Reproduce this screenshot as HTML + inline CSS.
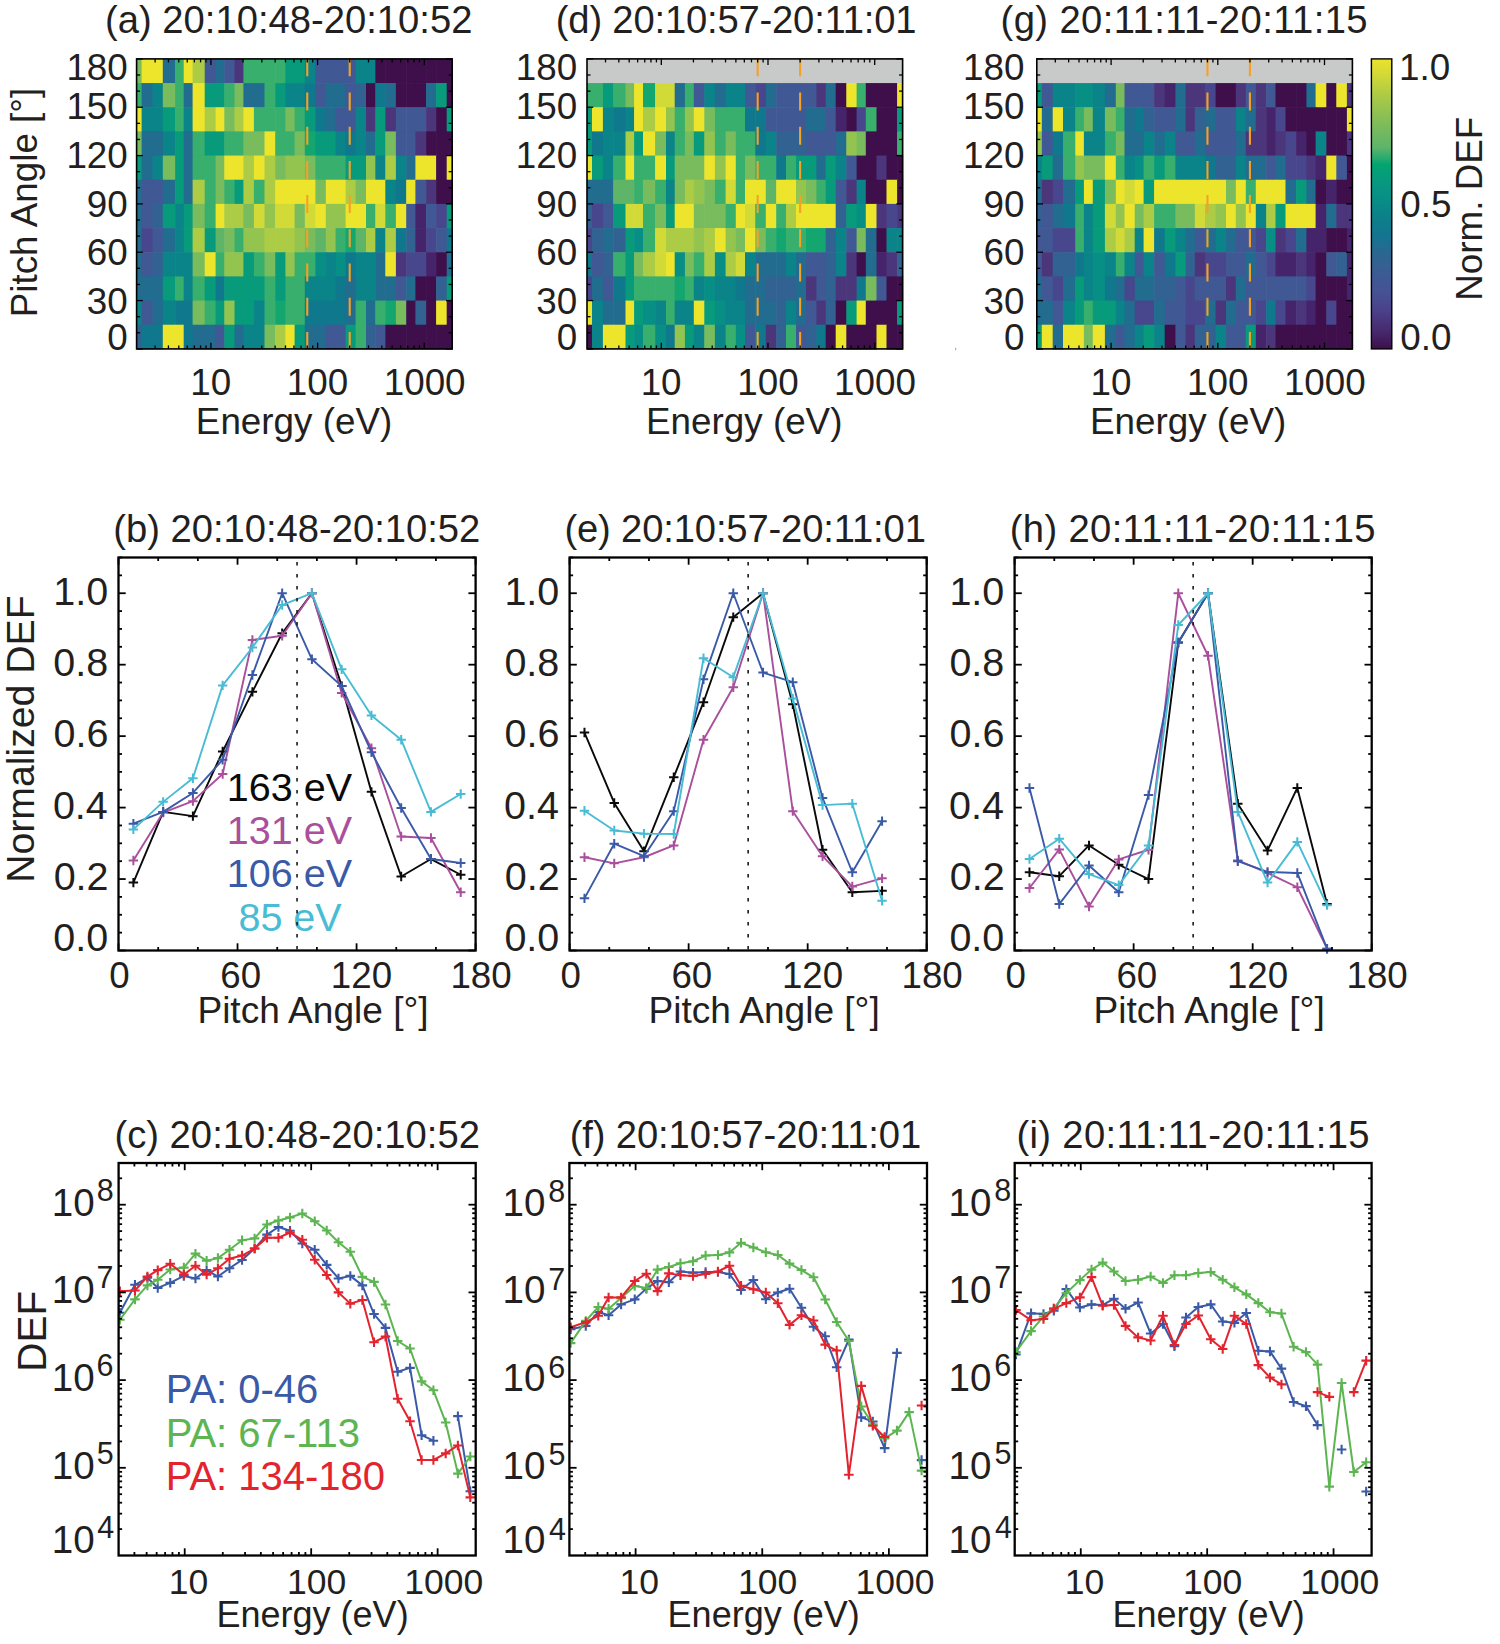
<!DOCTYPE html>
<html><head><meta charset="utf-8"><title>figure</title>
<style>html,body{margin:0;padding:0;background:#fff;}svg{display:block;}text{font-family:"Liberation Sans", sans-serif;}</style>
</head><body>
<svg width="1500" height="1644" viewBox="0 0 1500 1644">
<rect width="1500" height="1644" fill="#fff"/>
<rect x="136.60" y="58.90" width="5.60" height="24.77" fill="#79bc5d"/>
<rect x="141.60" y="58.90" width="11.50" height="24.77" fill="#ede42c"/>
<rect x="152.50" y="58.90" width="10.90" height="24.77" fill="#ede42c"/>
<rect x="162.80" y="58.90" width="12.90" height="24.77" fill="#216c8f"/>
<rect x="175.10" y="58.90" width="9.20" height="24.77" fill="#38af6d"/>
<rect x="183.70" y="58.90" width="9.50" height="24.77" fill="#ede42c"/>
<rect x="192.60" y="58.90" width="12.70" height="24.77" fill="#accc46"/>
<rect x="204.70" y="58.90" width="11.50" height="24.77" fill="#405995"/>
<rect x="215.60" y="58.90" width="9.30" height="24.77" fill="#216c8f"/>
<rect x="224.30" y="58.90" width="10.80" height="24.77" fill="#405995"/>
<rect x="234.50" y="58.90" width="9.50" height="24.77" fill="#4b367c"/>
<rect x="243.40" y="58.90" width="11.10" height="24.77" fill="#38af6d"/>
<rect x="253.90" y="58.90" width="11.20" height="24.77" fill="#38af6d"/>
<rect x="264.50" y="58.90" width="11.30" height="24.77" fill="#38af6d"/>
<rect x="275.20" y="58.90" width="10.80" height="24.77" fill="#38af6d"/>
<rect x="285.40" y="58.90" width="9.80" height="24.77" fill="#079b7b"/>
<rect x="294.60" y="58.90" width="10.80" height="24.77" fill="#079b7b"/>
<rect x="304.80" y="58.90" width="11.20" height="24.77" fill="#0a8389"/>
<rect x="315.40" y="58.90" width="11.00" height="24.77" fill="#405995"/>
<rect x="325.80" y="58.90" width="10.40" height="24.77" fill="#405995"/>
<rect x="335.60" y="58.90" width="10.60" height="24.77" fill="#405995"/>
<rect x="345.60" y="58.90" width="10.60" height="24.77" fill="#405995"/>
<rect x="355.60" y="58.90" width="11.00" height="24.77" fill="#0a8389"/>
<rect x="366.00" y="58.90" width="9.90" height="24.77" fill="#0a8389"/>
<rect x="375.30" y="58.90" width="10.60" height="24.77" fill="#3e0f4b"/>
<rect x="385.30" y="58.90" width="11.20" height="24.77" fill="#3e0f4b"/>
<rect x="395.90" y="58.90" width="10.90" height="24.77" fill="#3e0f4b"/>
<rect x="406.20" y="58.90" width="9.80" height="24.77" fill="#3e0f4b"/>
<rect x="415.40" y="58.90" width="11.30" height="24.77" fill="#3e0f4b"/>
<rect x="426.10" y="58.90" width="10.60" height="24.77" fill="#3e0f4b"/>
<rect x="436.10" y="58.90" width="11.20" height="24.77" fill="#3e0f4b"/>
<rect x="446.70" y="58.90" width="6.10" height="24.77" fill="#3e0f4b"/>
<rect x="136.60" y="83.07" width="5.60" height="24.77" fill="#38af6d"/>
<rect x="141.60" y="83.07" width="11.50" height="24.77" fill="#216c8f"/>
<rect x="152.50" y="83.07" width="10.90" height="24.77" fill="#0a8389"/>
<rect x="162.80" y="83.07" width="12.90" height="24.77" fill="#79bc5d"/>
<rect x="175.10" y="83.07" width="9.20" height="24.77" fill="#38af6d"/>
<rect x="183.70" y="83.07" width="9.50" height="24.77" fill="#216c8f"/>
<rect x="192.60" y="83.07" width="12.70" height="24.77" fill="#ede42c"/>
<rect x="204.70" y="83.07" width="11.50" height="24.77" fill="#079b7b"/>
<rect x="215.60" y="83.07" width="9.30" height="24.77" fill="#079b7b"/>
<rect x="224.30" y="83.07" width="10.80" height="24.77" fill="#38af6d"/>
<rect x="234.50" y="83.07" width="9.50" height="24.77" fill="#79bc5d"/>
<rect x="243.40" y="83.07" width="11.10" height="24.77" fill="#216c8f"/>
<rect x="253.90" y="83.07" width="11.20" height="24.77" fill="#216c8f"/>
<rect x="264.50" y="83.07" width="11.30" height="24.77" fill="#38af6d"/>
<rect x="275.20" y="83.07" width="10.80" height="24.77" fill="#079b7b"/>
<rect x="285.40" y="83.07" width="9.80" height="24.77" fill="#0a8389"/>
<rect x="294.60" y="83.07" width="10.80" height="24.77" fill="#0a8389"/>
<rect x="304.80" y="83.07" width="11.20" height="24.77" fill="#10788c"/>
<rect x="315.40" y="83.07" width="11.00" height="24.77" fill="#405995"/>
<rect x="325.80" y="83.07" width="10.40" height="24.77" fill="#216c8f"/>
<rect x="335.60" y="83.07" width="10.60" height="24.77" fill="#216c8f"/>
<rect x="345.60" y="83.07" width="10.60" height="24.77" fill="#405995"/>
<rect x="355.60" y="83.07" width="11.00" height="24.77" fill="#326292"/>
<rect x="366.00" y="83.07" width="9.90" height="24.77" fill="#3e0f4b"/>
<rect x="375.30" y="83.07" width="10.60" height="24.77" fill="#10788c"/>
<rect x="385.30" y="83.07" width="11.20" height="24.77" fill="#216c8f"/>
<rect x="395.90" y="83.07" width="10.90" height="24.77" fill="#3e0f4b"/>
<rect x="406.20" y="83.07" width="9.80" height="24.77" fill="#3e0f4b"/>
<rect x="415.40" y="83.07" width="11.30" height="24.77" fill="#3e0f4b"/>
<rect x="426.10" y="83.07" width="10.60" height="24.77" fill="#216c8f"/>
<rect x="436.10" y="83.07" width="11.20" height="24.77" fill="#079b7b"/>
<rect x="446.70" y="83.07" width="6.10" height="24.77" fill="#3e0f4b"/>
<rect x="136.60" y="107.23" width="5.60" height="24.77" fill="#ede42c"/>
<rect x="141.60" y="107.23" width="11.50" height="24.77" fill="#0a8389"/>
<rect x="152.50" y="107.23" width="10.90" height="24.77" fill="#0a8389"/>
<rect x="162.80" y="107.23" width="12.90" height="24.77" fill="#079b7b"/>
<rect x="175.10" y="107.23" width="9.20" height="24.77" fill="#38af6d"/>
<rect x="183.70" y="107.23" width="9.50" height="24.77" fill="#0a8389"/>
<rect x="192.60" y="107.23" width="12.70" height="24.77" fill="#ede42c"/>
<rect x="204.70" y="107.23" width="11.50" height="24.77" fill="#accc46"/>
<rect x="215.60" y="107.23" width="9.30" height="24.77" fill="#ede42c"/>
<rect x="224.30" y="107.23" width="10.80" height="24.77" fill="#79bc5d"/>
<rect x="234.50" y="107.23" width="9.50" height="24.77" fill="#accc46"/>
<rect x="243.40" y="107.23" width="11.10" height="24.77" fill="#ede42c"/>
<rect x="253.90" y="107.23" width="11.20" height="24.77" fill="#38af6d"/>
<rect x="264.50" y="107.23" width="11.30" height="24.77" fill="#38af6d"/>
<rect x="275.20" y="107.23" width="10.80" height="24.77" fill="#38af6d"/>
<rect x="285.40" y="107.23" width="9.80" height="24.77" fill="#79bc5d"/>
<rect x="294.60" y="107.23" width="10.80" height="24.77" fill="#38af6d"/>
<rect x="304.80" y="107.23" width="11.20" height="24.77" fill="#079b7b"/>
<rect x="315.40" y="107.23" width="11.00" height="24.77" fill="#10788c"/>
<rect x="325.80" y="107.23" width="10.40" height="24.77" fill="#216c8f"/>
<rect x="335.60" y="107.23" width="10.60" height="24.77" fill="#405995"/>
<rect x="345.60" y="107.23" width="10.60" height="24.77" fill="#405995"/>
<rect x="355.60" y="107.23" width="11.00" height="24.77" fill="#0a8389"/>
<rect x="366.00" y="107.23" width="9.90" height="24.77" fill="#4b367c"/>
<rect x="375.30" y="107.23" width="10.60" height="24.77" fill="#079b7b"/>
<rect x="385.30" y="107.23" width="11.20" height="24.77" fill="#4b367c"/>
<rect x="395.90" y="107.23" width="10.90" height="24.77" fill="#405995"/>
<rect x="406.20" y="107.23" width="9.80" height="24.77" fill="#405995"/>
<rect x="415.40" y="107.23" width="11.30" height="24.77" fill="#405995"/>
<rect x="426.10" y="107.23" width="10.60" height="24.77" fill="#4b367c"/>
<rect x="436.10" y="107.23" width="11.20" height="24.77" fill="#3e0f4b"/>
<rect x="446.70" y="107.23" width="6.10" height="24.77" fill="#079b7b"/>
<rect x="136.60" y="131.40" width="5.60" height="24.77" fill="#79bc5d"/>
<rect x="141.60" y="131.40" width="11.50" height="24.77" fill="#216c8f"/>
<rect x="152.50" y="131.40" width="10.90" height="24.77" fill="#216c8f"/>
<rect x="162.80" y="131.40" width="12.90" height="24.77" fill="#0a8389"/>
<rect x="175.10" y="131.40" width="9.20" height="24.77" fill="#079b7b"/>
<rect x="183.70" y="131.40" width="9.50" height="24.77" fill="#216c8f"/>
<rect x="192.60" y="131.40" width="12.70" height="24.77" fill="#38af6d"/>
<rect x="204.70" y="131.40" width="11.50" height="24.77" fill="#079b7b"/>
<rect x="215.60" y="131.40" width="9.30" height="24.77" fill="#079b7b"/>
<rect x="224.30" y="131.40" width="10.80" height="24.77" fill="#38af6d"/>
<rect x="234.50" y="131.40" width="9.50" height="24.77" fill="#38af6d"/>
<rect x="243.40" y="131.40" width="11.10" height="24.77" fill="#79bc5d"/>
<rect x="253.90" y="131.40" width="11.20" height="24.77" fill="#79bc5d"/>
<rect x="264.50" y="131.40" width="11.30" height="24.77" fill="#ede42c"/>
<rect x="275.20" y="131.40" width="10.80" height="24.77" fill="#38af6d"/>
<rect x="285.40" y="131.40" width="9.80" height="24.77" fill="#38af6d"/>
<rect x="294.60" y="131.40" width="10.80" height="24.77" fill="#79bc5d"/>
<rect x="304.80" y="131.40" width="11.20" height="24.77" fill="#14a66f"/>
<rect x="315.40" y="131.40" width="11.00" height="24.77" fill="#079b7b"/>
<rect x="325.80" y="131.40" width="10.40" height="24.77" fill="#079b7b"/>
<rect x="335.60" y="131.40" width="10.60" height="24.77" fill="#0a8389"/>
<rect x="345.60" y="131.40" width="10.60" height="24.77" fill="#10788c"/>
<rect x="355.60" y="131.40" width="11.00" height="24.77" fill="#0a8389"/>
<rect x="366.00" y="131.40" width="9.90" height="24.77" fill="#216c8f"/>
<rect x="375.30" y="131.40" width="10.60" height="24.77" fill="#079b7b"/>
<rect x="385.30" y="131.40" width="11.20" height="24.77" fill="#79bc5d"/>
<rect x="395.90" y="131.40" width="10.90" height="24.77" fill="#405995"/>
<rect x="406.20" y="131.40" width="9.80" height="24.77" fill="#405995"/>
<rect x="415.40" y="131.40" width="11.30" height="24.77" fill="#4b367c"/>
<rect x="426.10" y="131.40" width="10.60" height="24.77" fill="#3e0f4b"/>
<rect x="436.10" y="131.40" width="11.20" height="24.77" fill="#3e0f4b"/>
<rect x="446.70" y="131.40" width="6.10" height="24.77" fill="#3e0f4b"/>
<rect x="136.60" y="155.57" width="5.60" height="24.77" fill="#079b7b"/>
<rect x="141.60" y="155.57" width="11.50" height="24.77" fill="#216c8f"/>
<rect x="152.50" y="155.57" width="10.90" height="24.77" fill="#0a8389"/>
<rect x="162.80" y="155.57" width="12.90" height="24.77" fill="#79bc5d"/>
<rect x="175.10" y="155.57" width="9.20" height="24.77" fill="#079b7b"/>
<rect x="183.70" y="155.57" width="9.50" height="24.77" fill="#216c8f"/>
<rect x="192.60" y="155.57" width="12.70" height="24.77" fill="#38af6d"/>
<rect x="204.70" y="155.57" width="11.50" height="24.77" fill="#38af6d"/>
<rect x="215.60" y="155.57" width="9.30" height="24.77" fill="#79bc5d"/>
<rect x="224.30" y="155.57" width="10.80" height="24.77" fill="#ede42c"/>
<rect x="234.50" y="155.57" width="9.50" height="24.77" fill="#ede42c"/>
<rect x="243.40" y="155.57" width="11.10" height="24.77" fill="#accc46"/>
<rect x="253.90" y="155.57" width="11.20" height="24.77" fill="#ede42c"/>
<rect x="264.50" y="155.57" width="11.30" height="24.77" fill="#accc46"/>
<rect x="275.20" y="155.57" width="10.80" height="24.77" fill="#79bc5d"/>
<rect x="285.40" y="155.57" width="9.80" height="24.77" fill="#94c450"/>
<rect x="294.60" y="155.57" width="10.80" height="24.77" fill="#94c450"/>
<rect x="304.80" y="155.57" width="11.20" height="24.77" fill="#79bc5d"/>
<rect x="315.40" y="155.57" width="11.00" height="24.77" fill="#38af6d"/>
<rect x="325.80" y="155.57" width="10.40" height="24.77" fill="#38af6d"/>
<rect x="335.60" y="155.57" width="10.60" height="24.77" fill="#38af6d"/>
<rect x="345.60" y="155.57" width="10.60" height="24.77" fill="#079b7b"/>
<rect x="355.60" y="155.57" width="11.00" height="24.77" fill="#079b7b"/>
<rect x="366.00" y="155.57" width="9.90" height="24.77" fill="#94c450"/>
<rect x="375.30" y="155.57" width="10.60" height="24.77" fill="#0a8389"/>
<rect x="385.30" y="155.57" width="11.20" height="24.77" fill="#accc46"/>
<rect x="395.90" y="155.57" width="10.90" height="24.77" fill="#0a8389"/>
<rect x="406.20" y="155.57" width="9.80" height="24.77" fill="#216c8f"/>
<rect x="415.40" y="155.57" width="11.30" height="24.77" fill="#ede42c"/>
<rect x="426.10" y="155.57" width="10.60" height="24.77" fill="#ede42c"/>
<rect x="436.10" y="155.57" width="11.20" height="24.77" fill="#3e0f4b"/>
<rect x="446.70" y="155.57" width="6.10" height="24.77" fill="#ede42c"/>
<rect x="136.60" y="179.73" width="5.60" height="24.77" fill="#216c8f"/>
<rect x="141.60" y="179.73" width="11.50" height="24.77" fill="#405995"/>
<rect x="152.50" y="179.73" width="10.90" height="24.77" fill="#405995"/>
<rect x="162.80" y="179.73" width="12.90" height="24.77" fill="#216c8f"/>
<rect x="175.10" y="179.73" width="9.20" height="24.77" fill="#079b7b"/>
<rect x="183.70" y="179.73" width="9.50" height="24.77" fill="#216c8f"/>
<rect x="192.60" y="179.73" width="12.70" height="24.77" fill="#accc46"/>
<rect x="204.70" y="179.73" width="11.50" height="24.77" fill="#38af6d"/>
<rect x="215.60" y="179.73" width="9.30" height="24.77" fill="#79bc5d"/>
<rect x="224.30" y="179.73" width="10.80" height="24.77" fill="#38af6d"/>
<rect x="234.50" y="179.73" width="9.50" height="24.77" fill="#079b7b"/>
<rect x="243.40" y="179.73" width="11.10" height="24.77" fill="#accc46"/>
<rect x="253.90" y="179.73" width="11.20" height="24.77" fill="#38af6d"/>
<rect x="264.50" y="179.73" width="11.30" height="24.77" fill="#accc46"/>
<rect x="275.20" y="179.73" width="10.80" height="24.77" fill="#ede42c"/>
<rect x="285.40" y="179.73" width="9.80" height="24.77" fill="#ede42c"/>
<rect x="294.60" y="179.73" width="10.80" height="24.77" fill="#ede42c"/>
<rect x="304.80" y="179.73" width="11.20" height="24.77" fill="#ede42c"/>
<rect x="315.40" y="179.73" width="11.00" height="24.77" fill="#79bc5d"/>
<rect x="325.80" y="179.73" width="10.40" height="24.77" fill="#ede42c"/>
<rect x="335.60" y="179.73" width="10.60" height="24.77" fill="#ede42c"/>
<rect x="345.60" y="179.73" width="10.60" height="24.77" fill="#accc46"/>
<rect x="355.60" y="179.73" width="11.00" height="24.77" fill="#79bc5d"/>
<rect x="366.00" y="179.73" width="9.90" height="24.77" fill="#ede42c"/>
<rect x="375.30" y="179.73" width="10.60" height="24.77" fill="#ede42c"/>
<rect x="385.30" y="179.73" width="11.20" height="24.77" fill="#0a8389"/>
<rect x="395.90" y="179.73" width="10.90" height="24.77" fill="#10788c"/>
<rect x="406.20" y="179.73" width="9.80" height="24.77" fill="#ede42c"/>
<rect x="415.40" y="179.73" width="11.30" height="24.77" fill="#405995"/>
<rect x="426.10" y="179.73" width="10.60" height="24.77" fill="#4b367c"/>
<rect x="436.10" y="179.73" width="11.20" height="24.77" fill="#3e0f4b"/>
<rect x="446.70" y="179.73" width="6.10" height="24.77" fill="#3e0f4b"/>
<rect x="136.60" y="203.90" width="5.60" height="24.77" fill="#216c8f"/>
<rect x="141.60" y="203.90" width="11.50" height="24.77" fill="#405995"/>
<rect x="152.50" y="203.90" width="10.90" height="24.77" fill="#326292"/>
<rect x="162.80" y="203.90" width="12.90" height="24.77" fill="#079b7b"/>
<rect x="175.10" y="203.90" width="9.20" height="24.77" fill="#0a8389"/>
<rect x="183.70" y="203.90" width="9.50" height="24.77" fill="#079b7b"/>
<rect x="192.60" y="203.90" width="12.70" height="24.77" fill="#79bc5d"/>
<rect x="204.70" y="203.90" width="11.50" height="24.77" fill="#38af6d"/>
<rect x="215.60" y="203.90" width="9.30" height="24.77" fill="#ede42c"/>
<rect x="224.30" y="203.90" width="10.80" height="24.77" fill="#accc46"/>
<rect x="234.50" y="203.90" width="9.50" height="24.77" fill="#accc46"/>
<rect x="243.40" y="203.90" width="11.10" height="24.77" fill="#79bc5d"/>
<rect x="253.90" y="203.90" width="11.20" height="24.77" fill="#d2da38"/>
<rect x="264.50" y="203.90" width="11.30" height="24.77" fill="#94c450"/>
<rect x="275.20" y="203.90" width="10.80" height="24.77" fill="#d2da38"/>
<rect x="285.40" y="203.90" width="9.80" height="24.77" fill="#d2da38"/>
<rect x="294.60" y="203.90" width="10.80" height="24.77" fill="#79bc5d"/>
<rect x="304.80" y="203.90" width="11.20" height="24.77" fill="#d2da38"/>
<rect x="315.40" y="203.90" width="11.00" height="24.77" fill="#ede42c"/>
<rect x="325.80" y="203.90" width="10.40" height="24.77" fill="#94c450"/>
<rect x="335.60" y="203.90" width="10.60" height="24.77" fill="#94c450"/>
<rect x="345.60" y="203.90" width="10.60" height="24.77" fill="#ede42c"/>
<rect x="355.60" y="203.90" width="11.00" height="24.77" fill="#ede42c"/>
<rect x="366.00" y="203.90" width="9.90" height="24.77" fill="#38af6d"/>
<rect x="375.30" y="203.90" width="10.60" height="24.77" fill="#d2da38"/>
<rect x="385.30" y="203.90" width="11.20" height="24.77" fill="#38af6d"/>
<rect x="395.90" y="203.90" width="10.90" height="24.77" fill="#ede42c"/>
<rect x="406.20" y="203.90" width="9.80" height="24.77" fill="#405995"/>
<rect x="415.40" y="203.90" width="11.30" height="24.77" fill="#46246c"/>
<rect x="426.10" y="203.90" width="10.60" height="24.77" fill="#405995"/>
<rect x="436.10" y="203.90" width="11.20" height="24.77" fill="#48468c"/>
<rect x="446.70" y="203.90" width="6.10" height="24.77" fill="#079b7b"/>
<rect x="136.60" y="228.07" width="5.60" height="24.77" fill="#216c8f"/>
<rect x="141.60" y="228.07" width="11.50" height="24.77" fill="#48468c"/>
<rect x="152.50" y="228.07" width="10.90" height="24.77" fill="#405995"/>
<rect x="162.80" y="228.07" width="12.90" height="24.77" fill="#216c8f"/>
<rect x="175.10" y="228.07" width="9.20" height="24.77" fill="#0a8389"/>
<rect x="183.70" y="228.07" width="9.50" height="24.77" fill="#079b7b"/>
<rect x="192.60" y="228.07" width="12.70" height="24.77" fill="#accc46"/>
<rect x="204.70" y="228.07" width="11.50" height="24.77" fill="#079b7b"/>
<rect x="215.60" y="228.07" width="9.30" height="24.77" fill="#5fb567"/>
<rect x="224.30" y="228.07" width="10.80" height="24.77" fill="#79bc5d"/>
<rect x="234.50" y="228.07" width="9.50" height="24.77" fill="#38af6d"/>
<rect x="243.40" y="228.07" width="11.10" height="24.77" fill="#94c450"/>
<rect x="253.90" y="228.07" width="11.20" height="24.77" fill="#94c450"/>
<rect x="264.50" y="228.07" width="11.30" height="24.77" fill="#accc46"/>
<rect x="275.20" y="228.07" width="10.80" height="24.77" fill="#accc46"/>
<rect x="285.40" y="228.07" width="9.80" height="24.77" fill="#accc46"/>
<rect x="294.60" y="228.07" width="10.80" height="24.77" fill="#94c450"/>
<rect x="304.80" y="228.07" width="11.20" height="24.77" fill="#79bc5d"/>
<rect x="315.40" y="228.07" width="11.00" height="24.77" fill="#5fb567"/>
<rect x="325.80" y="228.07" width="10.40" height="24.77" fill="#94c450"/>
<rect x="335.60" y="228.07" width="10.60" height="24.77" fill="#38af6d"/>
<rect x="345.60" y="228.07" width="10.60" height="24.77" fill="#14a66f"/>
<rect x="355.60" y="228.07" width="11.00" height="24.77" fill="#5fb567"/>
<rect x="366.00" y="228.07" width="9.90" height="24.77" fill="#accc46"/>
<rect x="375.30" y="228.07" width="10.60" height="24.77" fill="#0a8389"/>
<rect x="385.30" y="228.07" width="11.20" height="24.77" fill="#accc46"/>
<rect x="395.90" y="228.07" width="10.90" height="24.77" fill="#10788c"/>
<rect x="406.20" y="228.07" width="9.80" height="24.77" fill="#326292"/>
<rect x="415.40" y="228.07" width="11.30" height="24.77" fill="#46246c"/>
<rect x="426.10" y="228.07" width="10.60" height="24.77" fill="#48468c"/>
<rect x="436.10" y="228.07" width="11.20" height="24.77" fill="#405995"/>
<rect x="446.70" y="228.07" width="6.10" height="24.77" fill="#10788c"/>
<rect x="136.60" y="252.23" width="5.60" height="24.77" fill="#216c8f"/>
<rect x="141.60" y="252.23" width="11.50" height="24.77" fill="#405995"/>
<rect x="152.50" y="252.23" width="10.90" height="24.77" fill="#326292"/>
<rect x="162.80" y="252.23" width="12.90" height="24.77" fill="#0a8389"/>
<rect x="175.10" y="252.23" width="9.20" height="24.77" fill="#0a8389"/>
<rect x="183.70" y="252.23" width="9.50" height="24.77" fill="#0a8389"/>
<rect x="192.60" y="252.23" width="12.70" height="24.77" fill="#79bc5d"/>
<rect x="204.70" y="252.23" width="11.50" height="24.77" fill="#ede42c"/>
<rect x="215.60" y="252.23" width="9.30" height="24.77" fill="#38af6d"/>
<rect x="224.30" y="252.23" width="10.80" height="24.77" fill="#94c450"/>
<rect x="234.50" y="252.23" width="9.50" height="24.77" fill="#94c450"/>
<rect x="243.40" y="252.23" width="11.10" height="24.77" fill="#079b7b"/>
<rect x="253.90" y="252.23" width="11.20" height="24.77" fill="#38af6d"/>
<rect x="264.50" y="252.23" width="11.30" height="24.77" fill="#79bc5d"/>
<rect x="275.20" y="252.23" width="10.80" height="24.77" fill="#079b7b"/>
<rect x="285.40" y="252.23" width="9.80" height="24.77" fill="#94c450"/>
<rect x="294.60" y="252.23" width="10.80" height="24.77" fill="#38af6d"/>
<rect x="304.80" y="252.23" width="11.20" height="24.77" fill="#38af6d"/>
<rect x="315.40" y="252.23" width="11.00" height="24.77" fill="#078f86"/>
<rect x="325.80" y="252.23" width="10.40" height="24.77" fill="#0a8389"/>
<rect x="335.60" y="252.23" width="10.60" height="24.77" fill="#078f86"/>
<rect x="345.60" y="252.23" width="10.60" height="24.77" fill="#10788c"/>
<rect x="355.60" y="252.23" width="11.00" height="24.77" fill="#0a8389"/>
<rect x="366.00" y="252.23" width="9.90" height="24.77" fill="#0a8389"/>
<rect x="375.30" y="252.23" width="10.60" height="24.77" fill="#216c8f"/>
<rect x="385.30" y="252.23" width="11.20" height="24.77" fill="#ede42c"/>
<rect x="395.90" y="252.23" width="10.90" height="24.77" fill="#4b367c"/>
<rect x="406.20" y="252.23" width="9.80" height="24.77" fill="#48468c"/>
<rect x="415.40" y="252.23" width="11.30" height="24.77" fill="#48468c"/>
<rect x="426.10" y="252.23" width="10.60" height="24.77" fill="#46246c"/>
<rect x="436.10" y="252.23" width="11.20" height="24.77" fill="#3e0f4b"/>
<rect x="446.70" y="252.23" width="6.10" height="24.77" fill="#216c8f"/>
<rect x="136.60" y="276.40" width="5.60" height="24.77" fill="#216c8f"/>
<rect x="141.60" y="276.40" width="11.50" height="24.77" fill="#216c8f"/>
<rect x="152.50" y="276.40" width="10.90" height="24.77" fill="#216c8f"/>
<rect x="162.80" y="276.40" width="12.90" height="24.77" fill="#079b7b"/>
<rect x="175.10" y="276.40" width="9.20" height="24.77" fill="#38af6d"/>
<rect x="183.70" y="276.40" width="9.50" height="24.77" fill="#0a8389"/>
<rect x="192.60" y="276.40" width="12.70" height="24.77" fill="#38af6d"/>
<rect x="204.70" y="276.40" width="11.50" height="24.77" fill="#079b7b"/>
<rect x="215.60" y="276.40" width="9.30" height="24.77" fill="#10788c"/>
<rect x="224.30" y="276.40" width="10.80" height="24.77" fill="#079b7b"/>
<rect x="234.50" y="276.40" width="9.50" height="24.77" fill="#079b7b"/>
<rect x="243.40" y="276.40" width="11.10" height="24.77" fill="#079b7b"/>
<rect x="253.90" y="276.40" width="11.20" height="24.77" fill="#079b7b"/>
<rect x="264.50" y="276.40" width="11.30" height="24.77" fill="#38af6d"/>
<rect x="275.20" y="276.40" width="10.80" height="24.77" fill="#079b7b"/>
<rect x="285.40" y="276.40" width="9.80" height="24.77" fill="#38af6d"/>
<rect x="294.60" y="276.40" width="10.80" height="24.77" fill="#38af6d"/>
<rect x="304.80" y="276.40" width="11.20" height="24.77" fill="#0a8389"/>
<rect x="315.40" y="276.40" width="11.00" height="24.77" fill="#0a8389"/>
<rect x="325.80" y="276.40" width="10.40" height="24.77" fill="#0a8389"/>
<rect x="335.60" y="276.40" width="10.60" height="24.77" fill="#10788c"/>
<rect x="345.60" y="276.40" width="10.60" height="24.77" fill="#216c8f"/>
<rect x="355.60" y="276.40" width="11.00" height="24.77" fill="#0a8389"/>
<rect x="366.00" y="276.40" width="9.90" height="24.77" fill="#0a8389"/>
<rect x="375.30" y="276.40" width="10.60" height="24.77" fill="#216c8f"/>
<rect x="385.30" y="276.40" width="11.20" height="24.77" fill="#216c8f"/>
<rect x="395.90" y="276.40" width="10.90" height="24.77" fill="#405995"/>
<rect x="406.20" y="276.40" width="9.80" height="24.77" fill="#216c8f"/>
<rect x="415.40" y="276.40" width="11.30" height="24.77" fill="#3e0f4b"/>
<rect x="426.10" y="276.40" width="10.60" height="24.77" fill="#3e0f4b"/>
<rect x="436.10" y="276.40" width="11.20" height="24.77" fill="#326292"/>
<rect x="446.70" y="276.40" width="6.10" height="24.77" fill="#079b7b"/>
<rect x="136.60" y="300.57" width="5.60" height="24.77" fill="#0a8389"/>
<rect x="141.60" y="300.57" width="11.50" height="24.77" fill="#405995"/>
<rect x="152.50" y="300.57" width="10.90" height="24.77" fill="#216c8f"/>
<rect x="162.80" y="300.57" width="12.90" height="24.77" fill="#0a8389"/>
<rect x="175.10" y="300.57" width="9.20" height="24.77" fill="#10788c"/>
<rect x="183.70" y="300.57" width="9.50" height="24.77" fill="#10788c"/>
<rect x="192.60" y="300.57" width="12.70" height="24.77" fill="#79bc5d"/>
<rect x="204.70" y="300.57" width="11.50" height="24.77" fill="#38af6d"/>
<rect x="215.60" y="300.57" width="9.30" height="24.77" fill="#079b7b"/>
<rect x="224.30" y="300.57" width="10.80" height="24.77" fill="#94c450"/>
<rect x="234.50" y="300.57" width="9.50" height="24.77" fill="#079b7b"/>
<rect x="243.40" y="300.57" width="11.10" height="24.77" fill="#079b7b"/>
<rect x="253.90" y="300.57" width="11.20" height="24.77" fill="#0a8389"/>
<rect x="264.50" y="300.57" width="11.30" height="24.77" fill="#38af6d"/>
<rect x="275.20" y="300.57" width="10.80" height="24.77" fill="#14a66f"/>
<rect x="285.40" y="300.57" width="9.80" height="24.77" fill="#38af6d"/>
<rect x="294.60" y="300.57" width="10.80" height="24.77" fill="#38af6d"/>
<rect x="304.80" y="300.57" width="11.20" height="24.77" fill="#10788c"/>
<rect x="315.40" y="300.57" width="11.00" height="24.77" fill="#10788c"/>
<rect x="325.80" y="300.57" width="10.40" height="24.77" fill="#10788c"/>
<rect x="335.60" y="300.57" width="10.60" height="24.77" fill="#10788c"/>
<rect x="345.60" y="300.57" width="10.60" height="24.77" fill="#216c8f"/>
<rect x="355.60" y="300.57" width="11.00" height="24.77" fill="#38af6d"/>
<rect x="366.00" y="300.57" width="9.90" height="24.77" fill="#216c8f"/>
<rect x="375.30" y="300.57" width="10.60" height="24.77" fill="#38af6d"/>
<rect x="385.30" y="300.57" width="11.20" height="24.77" fill="#14a66f"/>
<rect x="395.90" y="300.57" width="10.90" height="24.77" fill="#79bc5d"/>
<rect x="406.20" y="300.57" width="9.80" height="24.77" fill="#3e0f4b"/>
<rect x="415.40" y="300.57" width="11.30" height="24.77" fill="#326292"/>
<rect x="426.10" y="300.57" width="10.60" height="24.77" fill="#3e0f4b"/>
<rect x="436.10" y="300.57" width="11.20" height="24.77" fill="#ede42c"/>
<rect x="446.70" y="300.57" width="6.10" height="24.77" fill="#3e0f4b"/>
<rect x="136.60" y="324.73" width="5.60" height="24.77" fill="#326292"/>
<rect x="141.60" y="324.73" width="11.50" height="24.77" fill="#10788c"/>
<rect x="152.50" y="324.73" width="10.90" height="24.77" fill="#10788c"/>
<rect x="162.80" y="324.73" width="12.90" height="24.77" fill="#ede42c"/>
<rect x="175.10" y="324.73" width="9.20" height="24.77" fill="#ede42c"/>
<rect x="183.70" y="324.73" width="9.50" height="24.77" fill="#10788c"/>
<rect x="192.60" y="324.73" width="12.70" height="24.77" fill="#216c8f"/>
<rect x="204.70" y="324.73" width="11.50" height="24.77" fill="#216c8f"/>
<rect x="215.60" y="324.73" width="9.30" height="24.77" fill="#405995"/>
<rect x="224.30" y="324.73" width="10.80" height="24.77" fill="#079b7b"/>
<rect x="234.50" y="324.73" width="9.50" height="24.77" fill="#216c8f"/>
<rect x="243.40" y="324.73" width="11.10" height="24.77" fill="#0a8389"/>
<rect x="253.90" y="324.73" width="11.20" height="24.77" fill="#0a8389"/>
<rect x="264.50" y="324.73" width="11.30" height="24.77" fill="#79bc5d"/>
<rect x="275.20" y="324.73" width="10.80" height="24.77" fill="#accc46"/>
<rect x="285.40" y="324.73" width="9.80" height="24.77" fill="#ede42c"/>
<rect x="294.60" y="324.73" width="10.80" height="24.77" fill="#079b7b"/>
<rect x="304.80" y="324.73" width="11.20" height="24.77" fill="#216c8f"/>
<rect x="315.40" y="324.73" width="11.00" height="24.77" fill="#216c8f"/>
<rect x="325.80" y="324.73" width="10.40" height="24.77" fill="#405995"/>
<rect x="335.60" y="324.73" width="10.60" height="24.77" fill="#405995"/>
<rect x="345.60" y="324.73" width="10.60" height="24.77" fill="#079b7b"/>
<rect x="355.60" y="324.73" width="11.00" height="24.77" fill="#38af6d"/>
<rect x="366.00" y="324.73" width="9.90" height="24.77" fill="#326292"/>
<rect x="375.30" y="324.73" width="10.60" height="24.77" fill="#405995"/>
<rect x="385.30" y="324.73" width="11.20" height="24.77" fill="#3e0f4b"/>
<rect x="395.90" y="324.73" width="10.90" height="24.77" fill="#3e0f4b"/>
<rect x="406.20" y="324.73" width="9.80" height="24.77" fill="#3e0f4b"/>
<rect x="415.40" y="324.73" width="11.30" height="24.77" fill="#3e0f4b"/>
<rect x="426.10" y="324.73" width="10.60" height="24.77" fill="#3e0f4b"/>
<rect x="436.10" y="324.73" width="11.20" height="24.77" fill="#3e0f4b"/>
<rect x="446.70" y="324.73" width="6.10" height="24.77" fill="#3e0f4b"/>
<line x1="307.26" y1="58.30" x2="307.26" y2="348.90" stroke="#f5a125" stroke-width="2.10" stroke-dasharray="18 16.2"/>
<line x1="349.72" y1="58.30" x2="349.72" y2="348.90" stroke="#f5a125" stroke-width="2.10" stroke-dasharray="18 16.2"/>
<line x1="136.60" y1="348.90" x2="142.80" y2="348.90" stroke="#000" stroke-width="1.30"/>
<line x1="452.20" y1="348.90" x2="446.00" y2="348.90" stroke="#000" stroke-width="1.30"/>
<line x1="136.60" y1="332.79" x2="140.10" y2="332.79" stroke="#000" stroke-width="1.30"/>
<line x1="452.20" y1="332.79" x2="448.70" y2="332.79" stroke="#000" stroke-width="1.30"/>
<line x1="136.60" y1="316.68" x2="140.10" y2="316.68" stroke="#000" stroke-width="1.30"/>
<line x1="452.20" y1="316.68" x2="448.70" y2="316.68" stroke="#000" stroke-width="1.30"/>
<line x1="136.60" y1="300.57" x2="142.80" y2="300.57" stroke="#000" stroke-width="1.30"/>
<line x1="452.20" y1="300.57" x2="446.00" y2="300.57" stroke="#000" stroke-width="1.30"/>
<line x1="136.60" y1="284.46" x2="140.10" y2="284.46" stroke="#000" stroke-width="1.30"/>
<line x1="452.20" y1="284.46" x2="448.70" y2="284.46" stroke="#000" stroke-width="1.30"/>
<line x1="136.60" y1="268.34" x2="140.10" y2="268.34" stroke="#000" stroke-width="1.30"/>
<line x1="452.20" y1="268.34" x2="448.70" y2="268.34" stroke="#000" stroke-width="1.30"/>
<line x1="136.60" y1="252.23" x2="142.80" y2="252.23" stroke="#000" stroke-width="1.30"/>
<line x1="452.20" y1="252.23" x2="446.00" y2="252.23" stroke="#000" stroke-width="1.30"/>
<line x1="136.60" y1="236.12" x2="140.10" y2="236.12" stroke="#000" stroke-width="1.30"/>
<line x1="452.20" y1="236.12" x2="448.70" y2="236.12" stroke="#000" stroke-width="1.30"/>
<line x1="136.60" y1="220.01" x2="140.10" y2="220.01" stroke="#000" stroke-width="1.30"/>
<line x1="452.20" y1="220.01" x2="448.70" y2="220.01" stroke="#000" stroke-width="1.30"/>
<line x1="136.60" y1="203.90" x2="142.80" y2="203.90" stroke="#000" stroke-width="1.30"/>
<line x1="452.20" y1="203.90" x2="446.00" y2="203.90" stroke="#000" stroke-width="1.30"/>
<line x1="136.60" y1="187.79" x2="140.10" y2="187.79" stroke="#000" stroke-width="1.30"/>
<line x1="452.20" y1="187.79" x2="448.70" y2="187.79" stroke="#000" stroke-width="1.30"/>
<line x1="136.60" y1="171.68" x2="140.10" y2="171.68" stroke="#000" stroke-width="1.30"/>
<line x1="452.20" y1="171.68" x2="448.70" y2="171.68" stroke="#000" stroke-width="1.30"/>
<line x1="136.60" y1="155.57" x2="142.80" y2="155.57" stroke="#000" stroke-width="1.30"/>
<line x1="452.20" y1="155.57" x2="446.00" y2="155.57" stroke="#000" stroke-width="1.30"/>
<line x1="136.60" y1="139.46" x2="140.10" y2="139.46" stroke="#000" stroke-width="1.30"/>
<line x1="452.20" y1="139.46" x2="448.70" y2="139.46" stroke="#000" stroke-width="1.30"/>
<line x1="136.60" y1="123.34" x2="140.10" y2="123.34" stroke="#000" stroke-width="1.30"/>
<line x1="452.20" y1="123.34" x2="448.70" y2="123.34" stroke="#000" stroke-width="1.30"/>
<line x1="136.60" y1="107.23" x2="142.80" y2="107.23" stroke="#000" stroke-width="1.30"/>
<line x1="452.20" y1="107.23" x2="446.00" y2="107.23" stroke="#000" stroke-width="1.30"/>
<line x1="136.60" y1="91.12" x2="140.10" y2="91.12" stroke="#000" stroke-width="1.30"/>
<line x1="452.20" y1="91.12" x2="448.70" y2="91.12" stroke="#000" stroke-width="1.30"/>
<line x1="136.60" y1="75.01" x2="140.10" y2="75.01" stroke="#000" stroke-width="1.30"/>
<line x1="452.20" y1="75.01" x2="448.70" y2="75.01" stroke="#000" stroke-width="1.30"/>
<line x1="136.60" y1="58.90" x2="142.80" y2="58.90" stroke="#000" stroke-width="1.30"/>
<line x1="452.20" y1="58.90" x2="446.00" y2="58.90" stroke="#000" stroke-width="1.30"/>
<line x1="155.11" y1="348.90" x2="155.11" y2="345.40" stroke="#000" stroke-width="1.30"/>
<line x1="155.11" y1="58.90" x2="155.11" y2="62.40" stroke="#000" stroke-width="1.30"/>
<line x1="168.44" y1="348.90" x2="168.44" y2="345.40" stroke="#000" stroke-width="1.30"/>
<line x1="168.44" y1="58.90" x2="168.44" y2="62.40" stroke="#000" stroke-width="1.30"/>
<line x1="178.78" y1="348.90" x2="178.78" y2="345.40" stroke="#000" stroke-width="1.30"/>
<line x1="178.78" y1="58.90" x2="178.78" y2="62.40" stroke="#000" stroke-width="1.30"/>
<line x1="187.23" y1="348.90" x2="187.23" y2="345.40" stroke="#000" stroke-width="1.30"/>
<line x1="187.23" y1="58.90" x2="187.23" y2="62.40" stroke="#000" stroke-width="1.30"/>
<line x1="194.37" y1="348.90" x2="194.37" y2="345.40" stroke="#000" stroke-width="1.30"/>
<line x1="194.37" y1="58.90" x2="194.37" y2="62.40" stroke="#000" stroke-width="1.30"/>
<line x1="200.56" y1="348.90" x2="200.56" y2="345.40" stroke="#000" stroke-width="1.30"/>
<line x1="200.56" y1="58.90" x2="200.56" y2="62.40" stroke="#000" stroke-width="1.30"/>
<line x1="206.02" y1="348.90" x2="206.02" y2="345.40" stroke="#000" stroke-width="1.30"/>
<line x1="206.02" y1="58.90" x2="206.02" y2="62.40" stroke="#000" stroke-width="1.30"/>
<line x1="210.90" y1="348.90" x2="210.90" y2="342.70" stroke="#000" stroke-width="1.30"/>
<line x1="210.90" y1="58.90" x2="210.90" y2="65.10" stroke="#000" stroke-width="1.30"/>
<line x1="243.02" y1="348.90" x2="243.02" y2="345.40" stroke="#000" stroke-width="1.30"/>
<line x1="243.02" y1="58.90" x2="243.02" y2="62.40" stroke="#000" stroke-width="1.30"/>
<line x1="261.81" y1="348.90" x2="261.81" y2="345.40" stroke="#000" stroke-width="1.30"/>
<line x1="261.81" y1="58.90" x2="261.81" y2="62.40" stroke="#000" stroke-width="1.30"/>
<line x1="275.14" y1="348.90" x2="275.14" y2="345.40" stroke="#000" stroke-width="1.30"/>
<line x1="275.14" y1="58.90" x2="275.14" y2="62.40" stroke="#000" stroke-width="1.30"/>
<line x1="285.48" y1="348.90" x2="285.48" y2="345.40" stroke="#000" stroke-width="1.30"/>
<line x1="285.48" y1="58.90" x2="285.48" y2="62.40" stroke="#000" stroke-width="1.30"/>
<line x1="293.93" y1="348.90" x2="293.93" y2="345.40" stroke="#000" stroke-width="1.30"/>
<line x1="293.93" y1="58.90" x2="293.93" y2="62.40" stroke="#000" stroke-width="1.30"/>
<line x1="301.07" y1="348.90" x2="301.07" y2="345.40" stroke="#000" stroke-width="1.30"/>
<line x1="301.07" y1="58.90" x2="301.07" y2="62.40" stroke="#000" stroke-width="1.30"/>
<line x1="307.26" y1="348.90" x2="307.26" y2="345.40" stroke="#000" stroke-width="1.30"/>
<line x1="307.26" y1="58.90" x2="307.26" y2="62.40" stroke="#000" stroke-width="1.30"/>
<line x1="312.72" y1="348.90" x2="312.72" y2="345.40" stroke="#000" stroke-width="1.30"/>
<line x1="312.72" y1="58.90" x2="312.72" y2="62.40" stroke="#000" stroke-width="1.30"/>
<line x1="317.60" y1="348.90" x2="317.60" y2="342.70" stroke="#000" stroke-width="1.30"/>
<line x1="317.60" y1="58.90" x2="317.60" y2="65.10" stroke="#000" stroke-width="1.30"/>
<line x1="349.72" y1="348.90" x2="349.72" y2="345.40" stroke="#000" stroke-width="1.30"/>
<line x1="349.72" y1="58.90" x2="349.72" y2="62.40" stroke="#000" stroke-width="1.30"/>
<line x1="368.51" y1="348.90" x2="368.51" y2="345.40" stroke="#000" stroke-width="1.30"/>
<line x1="368.51" y1="58.90" x2="368.51" y2="62.40" stroke="#000" stroke-width="1.30"/>
<line x1="381.84" y1="348.90" x2="381.84" y2="345.40" stroke="#000" stroke-width="1.30"/>
<line x1="381.84" y1="58.90" x2="381.84" y2="62.40" stroke="#000" stroke-width="1.30"/>
<line x1="392.18" y1="348.90" x2="392.18" y2="345.40" stroke="#000" stroke-width="1.30"/>
<line x1="392.18" y1="58.90" x2="392.18" y2="62.40" stroke="#000" stroke-width="1.30"/>
<line x1="400.63" y1="348.90" x2="400.63" y2="345.40" stroke="#000" stroke-width="1.30"/>
<line x1="400.63" y1="58.90" x2="400.63" y2="62.40" stroke="#000" stroke-width="1.30"/>
<line x1="407.77" y1="348.90" x2="407.77" y2="345.40" stroke="#000" stroke-width="1.30"/>
<line x1="407.77" y1="58.90" x2="407.77" y2="62.40" stroke="#000" stroke-width="1.30"/>
<line x1="413.96" y1="348.90" x2="413.96" y2="345.40" stroke="#000" stroke-width="1.30"/>
<line x1="413.96" y1="58.90" x2="413.96" y2="62.40" stroke="#000" stroke-width="1.30"/>
<line x1="419.42" y1="348.90" x2="419.42" y2="345.40" stroke="#000" stroke-width="1.30"/>
<line x1="419.42" y1="58.90" x2="419.42" y2="62.40" stroke="#000" stroke-width="1.30"/>
<line x1="424.30" y1="348.90" x2="424.30" y2="342.70" stroke="#000" stroke-width="1.30"/>
<line x1="424.30" y1="58.90" x2="424.30" y2="65.10" stroke="#000" stroke-width="1.30"/>
<rect x="136.60" y="58.90" width="315.60" height="290.00" fill="none" stroke="#000" stroke-width="1.6"/>
<rect x="587.00" y="58.90" width="5.60" height="24.77" fill="#c8c9c9"/>
<rect x="592.00" y="58.90" width="11.50" height="24.77" fill="#c8c9c9"/>
<rect x="602.90" y="58.90" width="10.90" height="24.77" fill="#c8c9c9"/>
<rect x="613.20" y="58.90" width="12.90" height="24.77" fill="#c8c9c9"/>
<rect x="625.50" y="58.90" width="9.20" height="24.77" fill="#c8c9c9"/>
<rect x="634.10" y="58.90" width="9.50" height="24.77" fill="#c8c9c9"/>
<rect x="643.00" y="58.90" width="12.70" height="24.77" fill="#c8c9c9"/>
<rect x="655.10" y="58.90" width="11.50" height="24.77" fill="#c8c9c9"/>
<rect x="666.00" y="58.90" width="9.30" height="24.77" fill="#c8c9c9"/>
<rect x="674.70" y="58.90" width="10.80" height="24.77" fill="#c8c9c9"/>
<rect x="684.90" y="58.90" width="9.50" height="24.77" fill="#c8c9c9"/>
<rect x="693.80" y="58.90" width="11.10" height="24.77" fill="#c8c9c9"/>
<rect x="704.30" y="58.90" width="11.20" height="24.77" fill="#c8c9c9"/>
<rect x="714.90" y="58.90" width="11.30" height="24.77" fill="#c8c9c9"/>
<rect x="725.60" y="58.90" width="10.80" height="24.77" fill="#c8c9c9"/>
<rect x="735.80" y="58.90" width="9.80" height="24.77" fill="#c8c9c9"/>
<rect x="745.00" y="58.90" width="10.80" height="24.77" fill="#c8c9c9"/>
<rect x="755.20" y="58.90" width="11.20" height="24.77" fill="#c8c9c9"/>
<rect x="765.80" y="58.90" width="11.00" height="24.77" fill="#c8c9c9"/>
<rect x="776.20" y="58.90" width="10.40" height="24.77" fill="#c8c9c9"/>
<rect x="786.00" y="58.90" width="10.60" height="24.77" fill="#c8c9c9"/>
<rect x="796.00" y="58.90" width="10.60" height="24.77" fill="#c8c9c9"/>
<rect x="806.00" y="58.90" width="11.00" height="24.77" fill="#c8c9c9"/>
<rect x="816.40" y="58.90" width="9.90" height="24.77" fill="#c8c9c9"/>
<rect x="825.70" y="58.90" width="10.60" height="24.77" fill="#c8c9c9"/>
<rect x="835.70" y="58.90" width="11.20" height="24.77" fill="#c8c9c9"/>
<rect x="846.30" y="58.90" width="10.90" height="24.77" fill="#c8c9c9"/>
<rect x="856.60" y="58.90" width="9.80" height="24.77" fill="#c8c9c9"/>
<rect x="865.80" y="58.90" width="11.30" height="24.77" fill="#c8c9c9"/>
<rect x="876.50" y="58.90" width="10.60" height="24.77" fill="#c8c9c9"/>
<rect x="886.50" y="58.90" width="11.20" height="24.77" fill="#c8c9c9"/>
<rect x="897.10" y="58.90" width="6.10" height="24.77" fill="#c8c9c9"/>
<rect x="587.00" y="83.07" width="5.60" height="24.77" fill="#38af6d"/>
<rect x="592.00" y="83.07" width="11.50" height="24.77" fill="#38af6d"/>
<rect x="602.90" y="83.07" width="10.90" height="24.77" fill="#079b7b"/>
<rect x="613.20" y="83.07" width="12.90" height="24.77" fill="#38af6d"/>
<rect x="625.50" y="83.07" width="9.20" height="24.77" fill="#79bc5d"/>
<rect x="634.10" y="83.07" width="9.50" height="24.77" fill="#ede42c"/>
<rect x="643.00" y="83.07" width="12.70" height="24.77" fill="#14a66f"/>
<rect x="655.10" y="83.07" width="11.50" height="24.77" fill="#d2da38"/>
<rect x="666.00" y="83.07" width="9.30" height="24.77" fill="#d2da38"/>
<rect x="674.70" y="83.07" width="10.80" height="24.77" fill="#216c8f"/>
<rect x="684.90" y="83.07" width="9.50" height="24.77" fill="#38af6d"/>
<rect x="693.80" y="83.07" width="11.10" height="24.77" fill="#405995"/>
<rect x="704.30" y="83.07" width="11.20" height="24.77" fill="#0a8389"/>
<rect x="714.90" y="83.07" width="11.30" height="24.77" fill="#216c8f"/>
<rect x="725.60" y="83.07" width="10.80" height="24.77" fill="#0a8389"/>
<rect x="735.80" y="83.07" width="9.80" height="24.77" fill="#0a8389"/>
<rect x="745.00" y="83.07" width="10.80" height="24.77" fill="#405995"/>
<rect x="755.20" y="83.07" width="11.20" height="24.77" fill="#48468c"/>
<rect x="765.80" y="83.07" width="11.00" height="24.77" fill="#216c8f"/>
<rect x="776.20" y="83.07" width="10.40" height="24.77" fill="#405995"/>
<rect x="786.00" y="83.07" width="10.60" height="24.77" fill="#405995"/>
<rect x="796.00" y="83.07" width="10.60" height="24.77" fill="#405995"/>
<rect x="806.00" y="83.07" width="11.00" height="24.77" fill="#405995"/>
<rect x="816.40" y="83.07" width="9.90" height="24.77" fill="#4b367c"/>
<rect x="825.70" y="83.07" width="10.60" height="24.77" fill="#216c8f"/>
<rect x="835.70" y="83.07" width="11.20" height="24.77" fill="#3e0f4b"/>
<rect x="846.30" y="83.07" width="10.90" height="24.77" fill="#ede42c"/>
<rect x="856.60" y="83.07" width="9.80" height="24.77" fill="#38af6d"/>
<rect x="865.80" y="83.07" width="11.30" height="24.77" fill="#3e0f4b"/>
<rect x="876.50" y="83.07" width="10.60" height="24.77" fill="#3e0f4b"/>
<rect x="886.50" y="83.07" width="11.20" height="24.77" fill="#3e0f4b"/>
<rect x="897.10" y="83.07" width="6.10" height="24.77" fill="#ede42c"/>
<rect x="587.00" y="107.23" width="5.60" height="24.77" fill="#079b7b"/>
<rect x="592.00" y="107.23" width="11.50" height="24.77" fill="#ede42c"/>
<rect x="602.90" y="107.23" width="10.90" height="24.77" fill="#0a8389"/>
<rect x="613.20" y="107.23" width="12.90" height="24.77" fill="#10788c"/>
<rect x="625.50" y="107.23" width="9.20" height="24.77" fill="#0a8389"/>
<rect x="634.10" y="107.23" width="9.50" height="24.77" fill="#ede42c"/>
<rect x="643.00" y="107.23" width="12.70" height="24.77" fill="#accc46"/>
<rect x="655.10" y="107.23" width="11.50" height="24.77" fill="#ede42c"/>
<rect x="666.00" y="107.23" width="9.30" height="24.77" fill="#94c450"/>
<rect x="674.70" y="107.23" width="10.80" height="24.77" fill="#38af6d"/>
<rect x="684.90" y="107.23" width="9.50" height="24.77" fill="#94c450"/>
<rect x="693.80" y="107.23" width="11.10" height="24.77" fill="#ede42c"/>
<rect x="704.30" y="107.23" width="11.20" height="24.77" fill="#79bc5d"/>
<rect x="714.90" y="107.23" width="11.30" height="24.77" fill="#38af6d"/>
<rect x="725.60" y="107.23" width="10.80" height="24.77" fill="#38af6d"/>
<rect x="735.80" y="107.23" width="9.80" height="24.77" fill="#38af6d"/>
<rect x="745.00" y="107.23" width="10.80" height="24.77" fill="#10788c"/>
<rect x="755.20" y="107.23" width="11.20" height="24.77" fill="#10788c"/>
<rect x="765.80" y="107.23" width="11.00" height="24.77" fill="#405995"/>
<rect x="776.20" y="107.23" width="10.40" height="24.77" fill="#405995"/>
<rect x="786.00" y="107.23" width="10.60" height="24.77" fill="#405995"/>
<rect x="796.00" y="107.23" width="10.60" height="24.77" fill="#405995"/>
<rect x="806.00" y="107.23" width="11.00" height="24.77" fill="#216c8f"/>
<rect x="816.40" y="107.23" width="9.90" height="24.77" fill="#216c8f"/>
<rect x="825.70" y="107.23" width="10.60" height="24.77" fill="#405995"/>
<rect x="835.70" y="107.23" width="11.20" height="24.77" fill="#46246c"/>
<rect x="846.30" y="107.23" width="10.90" height="24.77" fill="#3e0f4b"/>
<rect x="856.60" y="107.23" width="9.80" height="24.77" fill="#48468c"/>
<rect x="865.80" y="107.23" width="11.30" height="24.77" fill="#38af6d"/>
<rect x="876.50" y="107.23" width="10.60" height="24.77" fill="#3e0f4b"/>
<rect x="886.50" y="107.23" width="11.20" height="24.77" fill="#3e0f4b"/>
<rect x="897.10" y="107.23" width="6.10" height="24.77" fill="#079b7b"/>
<rect x="587.00" y="131.40" width="5.60" height="24.77" fill="#079b7b"/>
<rect x="592.00" y="131.40" width="11.50" height="24.77" fill="#10788c"/>
<rect x="602.90" y="131.40" width="10.90" height="24.77" fill="#0a8389"/>
<rect x="613.20" y="131.40" width="12.90" height="24.77" fill="#0a8389"/>
<rect x="625.50" y="131.40" width="9.20" height="24.77" fill="#accc46"/>
<rect x="634.10" y="131.40" width="9.50" height="24.77" fill="#079b7b"/>
<rect x="643.00" y="131.40" width="12.70" height="24.77" fill="#ede42c"/>
<rect x="655.10" y="131.40" width="11.50" height="24.77" fill="#79bc5d"/>
<rect x="666.00" y="131.40" width="9.30" height="24.77" fill="#0a8389"/>
<rect x="674.70" y="131.40" width="10.80" height="24.77" fill="#38af6d"/>
<rect x="684.90" y="131.40" width="9.50" height="24.77" fill="#79bc5d"/>
<rect x="693.80" y="131.40" width="11.10" height="24.77" fill="#079b7b"/>
<rect x="704.30" y="131.40" width="11.20" height="24.77" fill="#94c450"/>
<rect x="714.90" y="131.40" width="11.30" height="24.77" fill="#38af6d"/>
<rect x="725.60" y="131.40" width="10.80" height="24.77" fill="#79bc5d"/>
<rect x="735.80" y="131.40" width="9.80" height="24.77" fill="#38af6d"/>
<rect x="745.00" y="131.40" width="10.80" height="24.77" fill="#38af6d"/>
<rect x="755.20" y="131.40" width="11.20" height="24.77" fill="#10788c"/>
<rect x="765.80" y="131.40" width="11.00" height="24.77" fill="#0a8389"/>
<rect x="776.20" y="131.40" width="10.40" height="24.77" fill="#326292"/>
<rect x="786.00" y="131.40" width="10.60" height="24.77" fill="#326292"/>
<rect x="796.00" y="131.40" width="10.60" height="24.77" fill="#326292"/>
<rect x="806.00" y="131.40" width="11.00" height="24.77" fill="#405995"/>
<rect x="816.40" y="131.40" width="9.90" height="24.77" fill="#405995"/>
<rect x="825.70" y="131.40" width="10.60" height="24.77" fill="#405995"/>
<rect x="835.70" y="131.40" width="11.20" height="24.77" fill="#216c8f"/>
<rect x="846.30" y="131.40" width="10.90" height="24.77" fill="#94c450"/>
<rect x="856.60" y="131.40" width="9.80" height="24.77" fill="#79bc5d"/>
<rect x="865.80" y="131.40" width="11.30" height="24.77" fill="#3e0f4b"/>
<rect x="876.50" y="131.40" width="10.60" height="24.77" fill="#3e0f4b"/>
<rect x="886.50" y="131.40" width="11.20" height="24.77" fill="#3e0f4b"/>
<rect x="897.10" y="131.40" width="6.10" height="24.77" fill="#38af6d"/>
<rect x="587.00" y="155.57" width="5.60" height="24.77" fill="#ede42c"/>
<rect x="592.00" y="155.57" width="11.50" height="24.77" fill="#079b7b"/>
<rect x="602.90" y="155.57" width="10.90" height="24.77" fill="#0a8389"/>
<rect x="613.20" y="155.57" width="12.90" height="24.77" fill="#38af6d"/>
<rect x="625.50" y="155.57" width="9.20" height="24.77" fill="#ede42c"/>
<rect x="634.10" y="155.57" width="9.50" height="24.77" fill="#38af6d"/>
<rect x="643.00" y="155.57" width="12.70" height="24.77" fill="#38af6d"/>
<rect x="655.10" y="155.57" width="11.50" height="24.77" fill="#ede42c"/>
<rect x="666.00" y="155.57" width="9.30" height="24.77" fill="#079b7b"/>
<rect x="674.70" y="155.57" width="10.80" height="24.77" fill="#79bc5d"/>
<rect x="684.90" y="155.57" width="9.50" height="24.77" fill="#79bc5d"/>
<rect x="693.80" y="155.57" width="11.10" height="24.77" fill="#79bc5d"/>
<rect x="704.30" y="155.57" width="11.20" height="24.77" fill="#ede42c"/>
<rect x="714.90" y="155.57" width="11.30" height="24.77" fill="#94c450"/>
<rect x="725.60" y="155.57" width="10.80" height="24.77" fill="#ede42c"/>
<rect x="735.80" y="155.57" width="9.80" height="24.77" fill="#38af6d"/>
<rect x="745.00" y="155.57" width="10.80" height="24.77" fill="#79bc5d"/>
<rect x="755.20" y="155.57" width="11.20" height="24.77" fill="#38af6d"/>
<rect x="765.80" y="155.57" width="11.00" height="24.77" fill="#38af6d"/>
<rect x="776.20" y="155.57" width="10.40" height="24.77" fill="#10788c"/>
<rect x="786.00" y="155.57" width="10.60" height="24.77" fill="#38af6d"/>
<rect x="796.00" y="155.57" width="10.60" height="24.77" fill="#079b7b"/>
<rect x="806.00" y="155.57" width="11.00" height="24.77" fill="#079b7b"/>
<rect x="816.40" y="155.57" width="9.90" height="24.77" fill="#216c8f"/>
<rect x="825.70" y="155.57" width="10.60" height="24.77" fill="#079b7b"/>
<rect x="835.70" y="155.57" width="11.20" height="24.77" fill="#0a8389"/>
<rect x="846.30" y="155.57" width="10.90" height="24.77" fill="#405995"/>
<rect x="856.60" y="155.57" width="9.80" height="24.77" fill="#3e0f4b"/>
<rect x="865.80" y="155.57" width="11.30" height="24.77" fill="#3e0f4b"/>
<rect x="876.50" y="155.57" width="10.60" height="24.77" fill="#4b367c"/>
<rect x="886.50" y="155.57" width="11.20" height="24.77" fill="#3e0f4b"/>
<rect x="897.10" y="155.57" width="6.10" height="24.77" fill="#3e0f4b"/>
<rect x="587.00" y="179.73" width="5.60" height="24.77" fill="#216c8f"/>
<rect x="592.00" y="179.73" width="11.50" height="24.77" fill="#216c8f"/>
<rect x="602.90" y="179.73" width="10.90" height="24.77" fill="#216c8f"/>
<rect x="613.20" y="179.73" width="12.90" height="24.77" fill="#5fb567"/>
<rect x="625.50" y="179.73" width="9.20" height="24.77" fill="#5fb567"/>
<rect x="634.10" y="179.73" width="9.50" height="24.77" fill="#38af6d"/>
<rect x="643.00" y="179.73" width="12.70" height="24.77" fill="#79bc5d"/>
<rect x="655.10" y="179.73" width="11.50" height="24.77" fill="#38af6d"/>
<rect x="666.00" y="179.73" width="9.30" height="24.77" fill="#0a8389"/>
<rect x="674.70" y="179.73" width="10.80" height="24.77" fill="#79bc5d"/>
<rect x="684.90" y="179.73" width="9.50" height="24.77" fill="#accc46"/>
<rect x="693.80" y="179.73" width="11.10" height="24.77" fill="#94c450"/>
<rect x="704.30" y="179.73" width="11.20" height="24.77" fill="#79bc5d"/>
<rect x="714.90" y="179.73" width="11.30" height="24.77" fill="#38af6d"/>
<rect x="725.60" y="179.73" width="10.80" height="24.77" fill="#d2da38"/>
<rect x="735.80" y="179.73" width="9.80" height="24.77" fill="#38af6d"/>
<rect x="745.00" y="179.73" width="10.80" height="24.77" fill="#ede42c"/>
<rect x="755.20" y="179.73" width="11.20" height="24.77" fill="#ede42c"/>
<rect x="765.80" y="179.73" width="11.00" height="24.77" fill="#5fb567"/>
<rect x="776.20" y="179.73" width="10.40" height="24.77" fill="#ede42c"/>
<rect x="786.00" y="179.73" width="10.60" height="24.77" fill="#ede42c"/>
<rect x="796.00" y="179.73" width="10.60" height="24.77" fill="#94c450"/>
<rect x="806.00" y="179.73" width="11.00" height="24.77" fill="#79bc5d"/>
<rect x="816.40" y="179.73" width="9.90" height="24.77" fill="#38af6d"/>
<rect x="825.70" y="179.73" width="10.60" height="24.77" fill="#079b7b"/>
<rect x="835.70" y="179.73" width="11.20" height="24.77" fill="#405995"/>
<rect x="846.30" y="179.73" width="10.90" height="24.77" fill="#4b367c"/>
<rect x="856.60" y="179.73" width="9.80" height="24.77" fill="#0a8389"/>
<rect x="865.80" y="179.73" width="11.30" height="24.77" fill="#3e0f4b"/>
<rect x="876.50" y="179.73" width="10.60" height="24.77" fill="#3e0f4b"/>
<rect x="886.50" y="179.73" width="11.20" height="24.77" fill="#ede42c"/>
<rect x="897.10" y="179.73" width="6.10" height="24.77" fill="#3e0f4b"/>
<rect x="587.00" y="203.90" width="5.60" height="24.77" fill="#326292"/>
<rect x="592.00" y="203.90" width="11.50" height="24.77" fill="#48468c"/>
<rect x="602.90" y="203.90" width="10.90" height="24.77" fill="#405995"/>
<rect x="613.20" y="203.90" width="12.90" height="24.77" fill="#079b7b"/>
<rect x="625.50" y="203.90" width="9.20" height="24.77" fill="#d2da38"/>
<rect x="634.10" y="203.90" width="9.50" height="24.77" fill="#d2da38"/>
<rect x="643.00" y="203.90" width="12.70" height="24.77" fill="#38af6d"/>
<rect x="655.10" y="203.90" width="11.50" height="24.77" fill="#79bc5d"/>
<rect x="666.00" y="203.90" width="9.30" height="24.77" fill="#079b7b"/>
<rect x="674.70" y="203.90" width="10.80" height="24.77" fill="#ede42c"/>
<rect x="684.90" y="203.90" width="9.50" height="24.77" fill="#ede42c"/>
<rect x="693.80" y="203.90" width="11.10" height="24.77" fill="#79bc5d"/>
<rect x="704.30" y="203.90" width="11.20" height="24.77" fill="#79bc5d"/>
<rect x="714.90" y="203.90" width="11.30" height="24.77" fill="#79bc5d"/>
<rect x="725.60" y="203.90" width="10.80" height="24.77" fill="#38af6d"/>
<rect x="735.80" y="203.90" width="9.80" height="24.77" fill="#ede42c"/>
<rect x="745.00" y="203.90" width="10.80" height="24.77" fill="#d2da38"/>
<rect x="755.20" y="203.90" width="11.20" height="24.77" fill="#38af6d"/>
<rect x="765.80" y="203.90" width="11.00" height="24.77" fill="#ede42c"/>
<rect x="776.20" y="203.90" width="10.40" height="24.77" fill="#38af6d"/>
<rect x="786.00" y="203.90" width="10.60" height="24.77" fill="#accc46"/>
<rect x="796.00" y="203.90" width="10.60" height="24.77" fill="#ede42c"/>
<rect x="806.00" y="203.90" width="11.00" height="24.77" fill="#ede42c"/>
<rect x="816.40" y="203.90" width="9.90" height="24.77" fill="#ede42c"/>
<rect x="825.70" y="203.90" width="10.60" height="24.77" fill="#ede42c"/>
<rect x="835.70" y="203.90" width="11.20" height="24.77" fill="#326292"/>
<rect x="846.30" y="203.90" width="10.90" height="24.77" fill="#079b7b"/>
<rect x="856.60" y="203.90" width="9.80" height="24.77" fill="#078f86"/>
<rect x="865.80" y="203.90" width="11.30" height="24.77" fill="#ede42c"/>
<rect x="876.50" y="203.90" width="10.60" height="24.77" fill="#4b367c"/>
<rect x="886.50" y="203.90" width="11.20" height="24.77" fill="#48468c"/>
<rect x="897.10" y="203.90" width="6.10" height="24.77" fill="#4b367c"/>
<rect x="587.00" y="228.07" width="5.60" height="24.77" fill="#48468c"/>
<rect x="592.00" y="228.07" width="11.50" height="24.77" fill="#326292"/>
<rect x="602.90" y="228.07" width="10.90" height="24.77" fill="#216c8f"/>
<rect x="613.20" y="228.07" width="12.90" height="24.77" fill="#326292"/>
<rect x="625.50" y="228.07" width="9.20" height="24.77" fill="#079b7b"/>
<rect x="634.10" y="228.07" width="9.50" height="24.77" fill="#078f86"/>
<rect x="643.00" y="228.07" width="12.70" height="24.77" fill="#38af6d"/>
<rect x="655.10" y="228.07" width="11.50" height="24.77" fill="#d2da38"/>
<rect x="666.00" y="228.07" width="9.30" height="24.77" fill="#accc46"/>
<rect x="674.70" y="228.07" width="10.80" height="24.77" fill="#accc46"/>
<rect x="684.90" y="228.07" width="9.50" height="24.77" fill="#accc46"/>
<rect x="693.80" y="228.07" width="11.10" height="24.77" fill="#94c450"/>
<rect x="704.30" y="228.07" width="11.20" height="24.77" fill="#accc46"/>
<rect x="714.90" y="228.07" width="11.30" height="24.77" fill="#ede42c"/>
<rect x="725.60" y="228.07" width="10.80" height="24.77" fill="#94c450"/>
<rect x="735.80" y="228.07" width="9.80" height="24.77" fill="#79bc5d"/>
<rect x="745.00" y="228.07" width="10.80" height="24.77" fill="#ede42c"/>
<rect x="755.20" y="228.07" width="11.20" height="24.77" fill="#79bc5d"/>
<rect x="765.80" y="228.07" width="11.00" height="24.77" fill="#38af6d"/>
<rect x="776.20" y="228.07" width="10.40" height="24.77" fill="#14a66f"/>
<rect x="786.00" y="228.07" width="10.60" height="24.77" fill="#38af6d"/>
<rect x="796.00" y="228.07" width="10.60" height="24.77" fill="#38af6d"/>
<rect x="806.00" y="228.07" width="11.00" height="24.77" fill="#14a66f"/>
<rect x="816.40" y="228.07" width="9.90" height="24.77" fill="#14a66f"/>
<rect x="825.70" y="228.07" width="10.60" height="24.77" fill="#326292"/>
<rect x="835.70" y="228.07" width="11.20" height="24.77" fill="#0a8389"/>
<rect x="846.30" y="228.07" width="10.90" height="24.77" fill="#405995"/>
<rect x="856.60" y="228.07" width="9.80" height="24.77" fill="#79bc5d"/>
<rect x="865.80" y="228.07" width="11.30" height="24.77" fill="#216c8f"/>
<rect x="876.50" y="228.07" width="10.60" height="24.77" fill="#3e0f4b"/>
<rect x="886.50" y="228.07" width="11.20" height="24.77" fill="#0a8389"/>
<rect x="897.10" y="228.07" width="6.10" height="24.77" fill="#0a8389"/>
<rect x="587.00" y="252.23" width="5.60" height="24.77" fill="#10788c"/>
<rect x="592.00" y="252.23" width="11.50" height="24.77" fill="#405995"/>
<rect x="602.90" y="252.23" width="10.90" height="24.77" fill="#326292"/>
<rect x="613.20" y="252.23" width="12.90" height="24.77" fill="#38af6d"/>
<rect x="625.50" y="252.23" width="9.20" height="24.77" fill="#079b7b"/>
<rect x="634.10" y="252.23" width="9.50" height="24.77" fill="#79bc5d"/>
<rect x="643.00" y="252.23" width="12.70" height="24.77" fill="#accc46"/>
<rect x="655.10" y="252.23" width="11.50" height="24.77" fill="#d2da38"/>
<rect x="666.00" y="252.23" width="9.30" height="24.77" fill="#ede42c"/>
<rect x="674.70" y="252.23" width="10.80" height="24.77" fill="#078f86"/>
<rect x="684.90" y="252.23" width="9.50" height="24.77" fill="#79bc5d"/>
<rect x="693.80" y="252.23" width="11.10" height="24.77" fill="#38af6d"/>
<rect x="704.30" y="252.23" width="11.20" height="24.77" fill="#accc46"/>
<rect x="714.90" y="252.23" width="11.30" height="24.77" fill="#078f86"/>
<rect x="725.60" y="252.23" width="10.80" height="24.77" fill="#accc46"/>
<rect x="735.80" y="252.23" width="9.80" height="24.77" fill="#d2da38"/>
<rect x="745.00" y="252.23" width="10.80" height="24.77" fill="#0a8389"/>
<rect x="755.20" y="252.23" width="11.20" height="24.77" fill="#216c8f"/>
<rect x="765.80" y="252.23" width="11.00" height="24.77" fill="#216c8f"/>
<rect x="776.20" y="252.23" width="10.40" height="24.77" fill="#216c8f"/>
<rect x="786.00" y="252.23" width="10.60" height="24.77" fill="#0a8389"/>
<rect x="796.00" y="252.23" width="10.60" height="24.77" fill="#216c8f"/>
<rect x="806.00" y="252.23" width="11.00" height="24.77" fill="#405995"/>
<rect x="816.40" y="252.23" width="9.90" height="24.77" fill="#405995"/>
<rect x="825.70" y="252.23" width="10.60" height="24.77" fill="#326292"/>
<rect x="835.70" y="252.23" width="11.20" height="24.77" fill="#0a8389"/>
<rect x="846.30" y="252.23" width="10.90" height="24.77" fill="#4b367c"/>
<rect x="856.60" y="252.23" width="9.80" height="24.77" fill="#3e0f4b"/>
<rect x="865.80" y="252.23" width="11.30" height="24.77" fill="#216c8f"/>
<rect x="876.50" y="252.23" width="10.60" height="24.77" fill="#46246c"/>
<rect x="886.50" y="252.23" width="11.20" height="24.77" fill="#4b367c"/>
<rect x="897.10" y="252.23" width="6.10" height="24.77" fill="#326292"/>
<rect x="587.00" y="276.40" width="5.60" height="24.77" fill="#48468c"/>
<rect x="592.00" y="276.40" width="11.50" height="24.77" fill="#216c8f"/>
<rect x="602.90" y="276.40" width="10.90" height="24.77" fill="#405995"/>
<rect x="613.20" y="276.40" width="12.90" height="24.77" fill="#10788c"/>
<rect x="625.50" y="276.40" width="9.20" height="24.77" fill="#079b7b"/>
<rect x="634.10" y="276.40" width="9.50" height="24.77" fill="#38af6d"/>
<rect x="643.00" y="276.40" width="12.70" height="24.77" fill="#38af6d"/>
<rect x="655.10" y="276.40" width="11.50" height="24.77" fill="#38af6d"/>
<rect x="666.00" y="276.40" width="9.30" height="24.77" fill="#38af6d"/>
<rect x="674.70" y="276.40" width="10.80" height="24.77" fill="#14a66f"/>
<rect x="684.90" y="276.40" width="9.50" height="24.77" fill="#38af6d"/>
<rect x="693.80" y="276.40" width="11.10" height="24.77" fill="#0a8389"/>
<rect x="704.30" y="276.40" width="11.20" height="24.77" fill="#078f86"/>
<rect x="714.90" y="276.40" width="11.30" height="24.77" fill="#0a8389"/>
<rect x="725.60" y="276.40" width="10.80" height="24.77" fill="#0a8389"/>
<rect x="735.80" y="276.40" width="9.80" height="24.77" fill="#10788c"/>
<rect x="745.00" y="276.40" width="10.80" height="24.77" fill="#216c8f"/>
<rect x="755.20" y="276.40" width="11.20" height="24.77" fill="#216c8f"/>
<rect x="765.80" y="276.40" width="11.00" height="24.77" fill="#326292"/>
<rect x="776.20" y="276.40" width="10.40" height="24.77" fill="#326292"/>
<rect x="786.00" y="276.40" width="10.60" height="24.77" fill="#326292"/>
<rect x="796.00" y="276.40" width="10.60" height="24.77" fill="#216c8f"/>
<rect x="806.00" y="276.40" width="11.00" height="24.77" fill="#4b367c"/>
<rect x="816.40" y="276.40" width="9.90" height="24.77" fill="#405995"/>
<rect x="825.70" y="276.40" width="10.60" height="24.77" fill="#326292"/>
<rect x="835.70" y="276.40" width="11.20" height="24.77" fill="#4b367c"/>
<rect x="846.30" y="276.40" width="10.90" height="24.77" fill="#4b367c"/>
<rect x="856.60" y="276.40" width="9.80" height="24.77" fill="#10788c"/>
<rect x="865.80" y="276.40" width="11.30" height="24.77" fill="#79bc5d"/>
<rect x="876.50" y="276.40" width="10.60" height="24.77" fill="#405995"/>
<rect x="886.50" y="276.40" width="11.20" height="24.77" fill="#3e0f4b"/>
<rect x="897.10" y="276.40" width="6.10" height="24.77" fill="#3e0f4b"/>
<rect x="587.00" y="300.57" width="5.60" height="24.77" fill="#ede42c"/>
<rect x="592.00" y="300.57" width="11.50" height="24.77" fill="#0a8389"/>
<rect x="602.90" y="300.57" width="10.90" height="24.77" fill="#216c8f"/>
<rect x="613.20" y="300.57" width="12.90" height="24.77" fill="#216c8f"/>
<rect x="625.50" y="300.57" width="9.20" height="24.77" fill="#ede42c"/>
<rect x="634.10" y="300.57" width="9.50" height="24.77" fill="#079b7b"/>
<rect x="643.00" y="300.57" width="12.70" height="24.77" fill="#078f86"/>
<rect x="655.10" y="300.57" width="11.50" height="24.77" fill="#0a8389"/>
<rect x="666.00" y="300.57" width="9.30" height="24.77" fill="#38af6d"/>
<rect x="674.70" y="300.57" width="10.80" height="24.77" fill="#0a8389"/>
<rect x="684.90" y="300.57" width="9.50" height="24.77" fill="#0a8389"/>
<rect x="693.80" y="300.57" width="11.10" height="24.77" fill="#ede42c"/>
<rect x="704.30" y="300.57" width="11.20" height="24.77" fill="#079b7b"/>
<rect x="714.90" y="300.57" width="11.30" height="24.77" fill="#078f86"/>
<rect x="725.60" y="300.57" width="10.80" height="24.77" fill="#0a8389"/>
<rect x="735.80" y="300.57" width="9.80" height="24.77" fill="#0a8389"/>
<rect x="745.00" y="300.57" width="10.80" height="24.77" fill="#216c8f"/>
<rect x="755.20" y="300.57" width="11.20" height="24.77" fill="#216c8f"/>
<rect x="765.80" y="300.57" width="11.00" height="24.77" fill="#216c8f"/>
<rect x="776.20" y="300.57" width="10.40" height="24.77" fill="#326292"/>
<rect x="786.00" y="300.57" width="10.60" height="24.77" fill="#0a8389"/>
<rect x="796.00" y="300.57" width="10.60" height="24.77" fill="#216c8f"/>
<rect x="806.00" y="300.57" width="11.00" height="24.77" fill="#405995"/>
<rect x="816.40" y="300.57" width="9.90" height="24.77" fill="#4b367c"/>
<rect x="825.70" y="300.57" width="10.60" height="24.77" fill="#326292"/>
<rect x="835.70" y="300.57" width="11.20" height="24.77" fill="#3e0f4b"/>
<rect x="846.30" y="300.57" width="10.90" height="24.77" fill="#079b7b"/>
<rect x="856.60" y="300.57" width="9.80" height="24.77" fill="#ede42c"/>
<rect x="865.80" y="300.57" width="11.30" height="24.77" fill="#3e0f4b"/>
<rect x="876.50" y="300.57" width="10.60" height="24.77" fill="#3e0f4b"/>
<rect x="886.50" y="300.57" width="11.20" height="24.77" fill="#3e0f4b"/>
<rect x="897.10" y="300.57" width="6.10" height="24.77" fill="#079b7b"/>
<rect x="587.00" y="324.73" width="5.60" height="24.77" fill="#3e0f4b"/>
<rect x="592.00" y="324.73" width="11.50" height="24.77" fill="#0a8389"/>
<rect x="602.90" y="324.73" width="10.90" height="24.77" fill="#ede42c"/>
<rect x="613.20" y="324.73" width="12.90" height="24.77" fill="#ede42c"/>
<rect x="625.50" y="324.73" width="9.20" height="24.77" fill="#079b7b"/>
<rect x="634.10" y="324.73" width="9.50" height="24.77" fill="#078f86"/>
<rect x="643.00" y="324.73" width="12.70" height="24.77" fill="#38af6d"/>
<rect x="655.10" y="324.73" width="11.50" height="24.77" fill="#078f86"/>
<rect x="666.00" y="324.73" width="9.30" height="24.77" fill="#10788c"/>
<rect x="674.70" y="324.73" width="10.80" height="24.77" fill="#94c450"/>
<rect x="684.90" y="324.73" width="9.50" height="24.77" fill="#079b7b"/>
<rect x="693.80" y="324.73" width="11.10" height="24.77" fill="#0a8389"/>
<rect x="704.30" y="324.73" width="11.20" height="24.77" fill="#79bc5d"/>
<rect x="714.90" y="324.73" width="11.30" height="24.77" fill="#0a8389"/>
<rect x="725.60" y="324.73" width="10.80" height="24.77" fill="#38af6d"/>
<rect x="735.80" y="324.73" width="9.80" height="24.77" fill="#078f86"/>
<rect x="745.00" y="324.73" width="10.80" height="24.77" fill="#405995"/>
<rect x="755.20" y="324.73" width="11.20" height="24.77" fill="#10788c"/>
<rect x="765.80" y="324.73" width="11.00" height="24.77" fill="#4b367c"/>
<rect x="776.20" y="324.73" width="10.40" height="24.77" fill="#326292"/>
<rect x="786.00" y="324.73" width="10.60" height="24.77" fill="#38af6d"/>
<rect x="796.00" y="324.73" width="10.60" height="24.77" fill="#405995"/>
<rect x="806.00" y="324.73" width="11.00" height="24.77" fill="#326292"/>
<rect x="816.40" y="324.73" width="9.90" height="24.77" fill="#10788c"/>
<rect x="825.70" y="324.73" width="10.60" height="24.77" fill="#3e0f4b"/>
<rect x="835.70" y="324.73" width="11.20" height="24.77" fill="#ede42c"/>
<rect x="846.30" y="324.73" width="10.90" height="24.77" fill="#3e0f4b"/>
<rect x="856.60" y="324.73" width="9.80" height="24.77" fill="#3e0f4b"/>
<rect x="865.80" y="324.73" width="11.30" height="24.77" fill="#3e0f4b"/>
<rect x="876.50" y="324.73" width="10.60" height="24.77" fill="#ede42c"/>
<rect x="886.50" y="324.73" width="11.20" height="24.77" fill="#3e0f4b"/>
<rect x="897.10" y="324.73" width="6.10" height="24.77" fill="#3e0f4b"/>
<line x1="757.66" y1="58.30" x2="757.66" y2="348.90" stroke="#f5a125" stroke-width="2.10" stroke-dasharray="18 16.2"/>
<line x1="800.12" y1="58.30" x2="800.12" y2="348.90" stroke="#f5a125" stroke-width="2.10" stroke-dasharray="18 16.2"/>
<line x1="587.00" y1="348.90" x2="593.20" y2="348.90" stroke="#000" stroke-width="1.30"/>
<line x1="902.60" y1="348.90" x2="896.40" y2="348.90" stroke="#000" stroke-width="1.30"/>
<line x1="587.00" y1="332.79" x2="590.50" y2="332.79" stroke="#000" stroke-width="1.30"/>
<line x1="902.60" y1="332.79" x2="899.10" y2="332.79" stroke="#000" stroke-width="1.30"/>
<line x1="587.00" y1="316.68" x2="590.50" y2="316.68" stroke="#000" stroke-width="1.30"/>
<line x1="902.60" y1="316.68" x2="899.10" y2="316.68" stroke="#000" stroke-width="1.30"/>
<line x1="587.00" y1="300.57" x2="593.20" y2="300.57" stroke="#000" stroke-width="1.30"/>
<line x1="902.60" y1="300.57" x2="896.40" y2="300.57" stroke="#000" stroke-width="1.30"/>
<line x1="587.00" y1="284.46" x2="590.50" y2="284.46" stroke="#000" stroke-width="1.30"/>
<line x1="902.60" y1="284.46" x2="899.10" y2="284.46" stroke="#000" stroke-width="1.30"/>
<line x1="587.00" y1="268.34" x2="590.50" y2="268.34" stroke="#000" stroke-width="1.30"/>
<line x1="902.60" y1="268.34" x2="899.10" y2="268.34" stroke="#000" stroke-width="1.30"/>
<line x1="587.00" y1="252.23" x2="593.20" y2="252.23" stroke="#000" stroke-width="1.30"/>
<line x1="902.60" y1="252.23" x2="896.40" y2="252.23" stroke="#000" stroke-width="1.30"/>
<line x1="587.00" y1="236.12" x2="590.50" y2="236.12" stroke="#000" stroke-width="1.30"/>
<line x1="902.60" y1="236.12" x2="899.10" y2="236.12" stroke="#000" stroke-width="1.30"/>
<line x1="587.00" y1="220.01" x2="590.50" y2="220.01" stroke="#000" stroke-width="1.30"/>
<line x1="902.60" y1="220.01" x2="899.10" y2="220.01" stroke="#000" stroke-width="1.30"/>
<line x1="587.00" y1="203.90" x2="593.20" y2="203.90" stroke="#000" stroke-width="1.30"/>
<line x1="902.60" y1="203.90" x2="896.40" y2="203.90" stroke="#000" stroke-width="1.30"/>
<line x1="587.00" y1="187.79" x2="590.50" y2="187.79" stroke="#000" stroke-width="1.30"/>
<line x1="902.60" y1="187.79" x2="899.10" y2="187.79" stroke="#000" stroke-width="1.30"/>
<line x1="587.00" y1="171.68" x2="590.50" y2="171.68" stroke="#000" stroke-width="1.30"/>
<line x1="902.60" y1="171.68" x2="899.10" y2="171.68" stroke="#000" stroke-width="1.30"/>
<line x1="587.00" y1="155.57" x2="593.20" y2="155.57" stroke="#000" stroke-width="1.30"/>
<line x1="902.60" y1="155.57" x2="896.40" y2="155.57" stroke="#000" stroke-width="1.30"/>
<line x1="587.00" y1="139.46" x2="590.50" y2="139.46" stroke="#000" stroke-width="1.30"/>
<line x1="902.60" y1="139.46" x2="899.10" y2="139.46" stroke="#000" stroke-width="1.30"/>
<line x1="587.00" y1="123.34" x2="590.50" y2="123.34" stroke="#000" stroke-width="1.30"/>
<line x1="902.60" y1="123.34" x2="899.10" y2="123.34" stroke="#000" stroke-width="1.30"/>
<line x1="587.00" y1="107.23" x2="593.20" y2="107.23" stroke="#000" stroke-width="1.30"/>
<line x1="902.60" y1="107.23" x2="896.40" y2="107.23" stroke="#000" stroke-width="1.30"/>
<line x1="587.00" y1="91.12" x2="590.50" y2="91.12" stroke="#000" stroke-width="1.30"/>
<line x1="902.60" y1="91.12" x2="899.10" y2="91.12" stroke="#000" stroke-width="1.30"/>
<line x1="587.00" y1="75.01" x2="590.50" y2="75.01" stroke="#000" stroke-width="1.30"/>
<line x1="902.60" y1="75.01" x2="899.10" y2="75.01" stroke="#000" stroke-width="1.30"/>
<line x1="587.00" y1="58.90" x2="593.20" y2="58.90" stroke="#000" stroke-width="1.30"/>
<line x1="902.60" y1="58.90" x2="896.40" y2="58.90" stroke="#000" stroke-width="1.30"/>
<line x1="605.51" y1="348.90" x2="605.51" y2="345.40" stroke="#000" stroke-width="1.30"/>
<line x1="605.51" y1="58.90" x2="605.51" y2="62.40" stroke="#000" stroke-width="1.30"/>
<line x1="618.84" y1="348.90" x2="618.84" y2="345.40" stroke="#000" stroke-width="1.30"/>
<line x1="618.84" y1="58.90" x2="618.84" y2="62.40" stroke="#000" stroke-width="1.30"/>
<line x1="629.18" y1="348.90" x2="629.18" y2="345.40" stroke="#000" stroke-width="1.30"/>
<line x1="629.18" y1="58.90" x2="629.18" y2="62.40" stroke="#000" stroke-width="1.30"/>
<line x1="637.63" y1="348.90" x2="637.63" y2="345.40" stroke="#000" stroke-width="1.30"/>
<line x1="637.63" y1="58.90" x2="637.63" y2="62.40" stroke="#000" stroke-width="1.30"/>
<line x1="644.77" y1="348.90" x2="644.77" y2="345.40" stroke="#000" stroke-width="1.30"/>
<line x1="644.77" y1="58.90" x2="644.77" y2="62.40" stroke="#000" stroke-width="1.30"/>
<line x1="650.96" y1="348.90" x2="650.96" y2="345.40" stroke="#000" stroke-width="1.30"/>
<line x1="650.96" y1="58.90" x2="650.96" y2="62.40" stroke="#000" stroke-width="1.30"/>
<line x1="656.42" y1="348.90" x2="656.42" y2="345.40" stroke="#000" stroke-width="1.30"/>
<line x1="656.42" y1="58.90" x2="656.42" y2="62.40" stroke="#000" stroke-width="1.30"/>
<line x1="661.30" y1="348.90" x2="661.30" y2="342.70" stroke="#000" stroke-width="1.30"/>
<line x1="661.30" y1="58.90" x2="661.30" y2="65.10" stroke="#000" stroke-width="1.30"/>
<line x1="693.42" y1="348.90" x2="693.42" y2="345.40" stroke="#000" stroke-width="1.30"/>
<line x1="693.42" y1="58.90" x2="693.42" y2="62.40" stroke="#000" stroke-width="1.30"/>
<line x1="712.21" y1="348.90" x2="712.21" y2="345.40" stroke="#000" stroke-width="1.30"/>
<line x1="712.21" y1="58.90" x2="712.21" y2="62.40" stroke="#000" stroke-width="1.30"/>
<line x1="725.54" y1="348.90" x2="725.54" y2="345.40" stroke="#000" stroke-width="1.30"/>
<line x1="725.54" y1="58.90" x2="725.54" y2="62.40" stroke="#000" stroke-width="1.30"/>
<line x1="735.88" y1="348.90" x2="735.88" y2="345.40" stroke="#000" stroke-width="1.30"/>
<line x1="735.88" y1="58.90" x2="735.88" y2="62.40" stroke="#000" stroke-width="1.30"/>
<line x1="744.33" y1="348.90" x2="744.33" y2="345.40" stroke="#000" stroke-width="1.30"/>
<line x1="744.33" y1="58.90" x2="744.33" y2="62.40" stroke="#000" stroke-width="1.30"/>
<line x1="751.47" y1="348.90" x2="751.47" y2="345.40" stroke="#000" stroke-width="1.30"/>
<line x1="751.47" y1="58.90" x2="751.47" y2="62.40" stroke="#000" stroke-width="1.30"/>
<line x1="757.66" y1="348.90" x2="757.66" y2="345.40" stroke="#000" stroke-width="1.30"/>
<line x1="757.66" y1="58.90" x2="757.66" y2="62.40" stroke="#000" stroke-width="1.30"/>
<line x1="763.12" y1="348.90" x2="763.12" y2="345.40" stroke="#000" stroke-width="1.30"/>
<line x1="763.12" y1="58.90" x2="763.12" y2="62.40" stroke="#000" stroke-width="1.30"/>
<line x1="768.00" y1="348.90" x2="768.00" y2="342.70" stroke="#000" stroke-width="1.30"/>
<line x1="768.00" y1="58.90" x2="768.00" y2="65.10" stroke="#000" stroke-width="1.30"/>
<line x1="800.12" y1="348.90" x2="800.12" y2="345.40" stroke="#000" stroke-width="1.30"/>
<line x1="800.12" y1="58.90" x2="800.12" y2="62.40" stroke="#000" stroke-width="1.30"/>
<line x1="818.91" y1="348.90" x2="818.91" y2="345.40" stroke="#000" stroke-width="1.30"/>
<line x1="818.91" y1="58.90" x2="818.91" y2="62.40" stroke="#000" stroke-width="1.30"/>
<line x1="832.24" y1="348.90" x2="832.24" y2="345.40" stroke="#000" stroke-width="1.30"/>
<line x1="832.24" y1="58.90" x2="832.24" y2="62.40" stroke="#000" stroke-width="1.30"/>
<line x1="842.58" y1="348.90" x2="842.58" y2="345.40" stroke="#000" stroke-width="1.30"/>
<line x1="842.58" y1="58.90" x2="842.58" y2="62.40" stroke="#000" stroke-width="1.30"/>
<line x1="851.03" y1="348.90" x2="851.03" y2="345.40" stroke="#000" stroke-width="1.30"/>
<line x1="851.03" y1="58.90" x2="851.03" y2="62.40" stroke="#000" stroke-width="1.30"/>
<line x1="858.17" y1="348.90" x2="858.17" y2="345.40" stroke="#000" stroke-width="1.30"/>
<line x1="858.17" y1="58.90" x2="858.17" y2="62.40" stroke="#000" stroke-width="1.30"/>
<line x1="864.36" y1="348.90" x2="864.36" y2="345.40" stroke="#000" stroke-width="1.30"/>
<line x1="864.36" y1="58.90" x2="864.36" y2="62.40" stroke="#000" stroke-width="1.30"/>
<line x1="869.82" y1="348.90" x2="869.82" y2="345.40" stroke="#000" stroke-width="1.30"/>
<line x1="869.82" y1="58.90" x2="869.82" y2="62.40" stroke="#000" stroke-width="1.30"/>
<line x1="874.70" y1="348.90" x2="874.70" y2="342.70" stroke="#000" stroke-width="1.30"/>
<line x1="874.70" y1="58.90" x2="874.70" y2="65.10" stroke="#000" stroke-width="1.30"/>
<rect x="587.00" y="58.90" width="315.60" height="290.00" fill="none" stroke="#000" stroke-width="1.6"/>
<rect x="1036.80" y="58.90" width="5.60" height="24.77" fill="#c8c9c9"/>
<rect x="1041.80" y="58.90" width="11.50" height="24.77" fill="#c8c9c9"/>
<rect x="1052.70" y="58.90" width="10.90" height="24.77" fill="#c8c9c9"/>
<rect x="1063.00" y="58.90" width="12.90" height="24.77" fill="#c8c9c9"/>
<rect x="1075.30" y="58.90" width="9.20" height="24.77" fill="#c8c9c9"/>
<rect x="1083.90" y="58.90" width="9.50" height="24.77" fill="#c8c9c9"/>
<rect x="1092.80" y="58.90" width="12.70" height="24.77" fill="#c8c9c9"/>
<rect x="1104.90" y="58.90" width="11.50" height="24.77" fill="#c8c9c9"/>
<rect x="1115.80" y="58.90" width="9.30" height="24.77" fill="#c8c9c9"/>
<rect x="1124.50" y="58.90" width="10.80" height="24.77" fill="#c8c9c9"/>
<rect x="1134.70" y="58.90" width="9.50" height="24.77" fill="#c8c9c9"/>
<rect x="1143.60" y="58.90" width="11.10" height="24.77" fill="#c8c9c9"/>
<rect x="1154.10" y="58.90" width="11.20" height="24.77" fill="#c8c9c9"/>
<rect x="1164.70" y="58.90" width="11.30" height="24.77" fill="#c8c9c9"/>
<rect x="1175.40" y="58.90" width="10.80" height="24.77" fill="#c8c9c9"/>
<rect x="1185.60" y="58.90" width="9.80" height="24.77" fill="#c8c9c9"/>
<rect x="1194.80" y="58.90" width="10.80" height="24.77" fill="#c8c9c9"/>
<rect x="1205.00" y="58.90" width="11.20" height="24.77" fill="#c8c9c9"/>
<rect x="1215.60" y="58.90" width="11.00" height="24.77" fill="#c8c9c9"/>
<rect x="1226.00" y="58.90" width="10.40" height="24.77" fill="#c8c9c9"/>
<rect x="1235.80" y="58.90" width="10.60" height="24.77" fill="#c8c9c9"/>
<rect x="1245.80" y="58.90" width="10.60" height="24.77" fill="#c8c9c9"/>
<rect x="1255.80" y="58.90" width="11.00" height="24.77" fill="#c8c9c9"/>
<rect x="1266.20" y="58.90" width="9.90" height="24.77" fill="#c8c9c9"/>
<rect x="1275.50" y="58.90" width="10.60" height="24.77" fill="#c8c9c9"/>
<rect x="1285.50" y="58.90" width="11.20" height="24.77" fill="#c8c9c9"/>
<rect x="1296.10" y="58.90" width="10.90" height="24.77" fill="#c8c9c9"/>
<rect x="1306.40" y="58.90" width="9.80" height="24.77" fill="#c8c9c9"/>
<rect x="1315.60" y="58.90" width="11.30" height="24.77" fill="#c8c9c9"/>
<rect x="1326.30" y="58.90" width="10.60" height="24.77" fill="#c8c9c9"/>
<rect x="1336.30" y="58.90" width="11.20" height="24.77" fill="#c8c9c9"/>
<rect x="1346.90" y="58.90" width="6.10" height="24.77" fill="#c8c9c9"/>
<rect x="1036.80" y="83.07" width="5.60" height="24.77" fill="#079b7b"/>
<rect x="1041.80" y="83.07" width="11.50" height="24.77" fill="#405995"/>
<rect x="1052.70" y="83.07" width="10.90" height="24.77" fill="#0a8389"/>
<rect x="1063.00" y="83.07" width="12.90" height="24.77" fill="#0a8389"/>
<rect x="1075.30" y="83.07" width="9.20" height="24.77" fill="#078f86"/>
<rect x="1083.90" y="83.07" width="9.50" height="24.77" fill="#078f86"/>
<rect x="1092.80" y="83.07" width="12.70" height="24.77" fill="#0a8389"/>
<rect x="1104.90" y="83.07" width="11.50" height="24.77" fill="#216c8f"/>
<rect x="1115.80" y="83.07" width="9.30" height="24.77" fill="#79bc5d"/>
<rect x="1124.50" y="83.07" width="10.80" height="24.77" fill="#405995"/>
<rect x="1134.70" y="83.07" width="9.50" height="24.77" fill="#405995"/>
<rect x="1143.60" y="83.07" width="11.10" height="24.77" fill="#405995"/>
<rect x="1154.10" y="83.07" width="11.20" height="24.77" fill="#4b367c"/>
<rect x="1164.70" y="83.07" width="11.30" height="24.77" fill="#46246c"/>
<rect x="1175.40" y="83.07" width="10.80" height="24.77" fill="#216c8f"/>
<rect x="1185.60" y="83.07" width="9.80" height="24.77" fill="#4b367c"/>
<rect x="1194.80" y="83.07" width="10.80" height="24.77" fill="#4b367c"/>
<rect x="1205.00" y="83.07" width="11.20" height="24.77" fill="#48468c"/>
<rect x="1215.60" y="83.07" width="11.00" height="24.77" fill="#3e0f4b"/>
<rect x="1226.00" y="83.07" width="10.40" height="24.77" fill="#3e0f4b"/>
<rect x="1235.80" y="83.07" width="10.60" height="24.77" fill="#4b367c"/>
<rect x="1245.80" y="83.07" width="10.60" height="24.77" fill="#405995"/>
<rect x="1255.80" y="83.07" width="11.00" height="24.77" fill="#4b367c"/>
<rect x="1266.20" y="83.07" width="9.90" height="24.77" fill="#405995"/>
<rect x="1275.50" y="83.07" width="10.60" height="24.77" fill="#3e0f4b"/>
<rect x="1285.50" y="83.07" width="11.20" height="24.77" fill="#3e0f4b"/>
<rect x="1296.10" y="83.07" width="10.90" height="24.77" fill="#3e0f4b"/>
<rect x="1306.40" y="83.07" width="9.80" height="24.77" fill="#216c8f"/>
<rect x="1315.60" y="83.07" width="11.30" height="24.77" fill="#ede42c"/>
<rect x="1326.30" y="83.07" width="10.60" height="24.77" fill="#3e0f4b"/>
<rect x="1336.30" y="83.07" width="11.20" height="24.77" fill="#ede42c"/>
<rect x="1346.90" y="83.07" width="6.10" height="24.77" fill="#4b367c"/>
<rect x="1036.80" y="107.23" width="5.60" height="24.77" fill="#ede42c"/>
<rect x="1041.80" y="107.23" width="11.50" height="24.77" fill="#216c8f"/>
<rect x="1052.70" y="107.23" width="10.90" height="24.77" fill="#ede42c"/>
<rect x="1063.00" y="107.23" width="12.90" height="24.77" fill="#0a8389"/>
<rect x="1075.30" y="107.23" width="9.20" height="24.77" fill="#38af6d"/>
<rect x="1083.90" y="107.23" width="9.50" height="24.77" fill="#79bc5d"/>
<rect x="1092.80" y="107.23" width="12.70" height="24.77" fill="#0a8389"/>
<rect x="1104.90" y="107.23" width="11.50" height="24.77" fill="#79bc5d"/>
<rect x="1115.80" y="107.23" width="9.30" height="24.77" fill="#38af6d"/>
<rect x="1124.50" y="107.23" width="10.80" height="24.77" fill="#216c8f"/>
<rect x="1134.70" y="107.23" width="9.50" height="24.77" fill="#10788c"/>
<rect x="1143.60" y="107.23" width="11.10" height="24.77" fill="#326292"/>
<rect x="1154.10" y="107.23" width="11.20" height="24.77" fill="#405995"/>
<rect x="1164.70" y="107.23" width="11.30" height="24.77" fill="#405995"/>
<rect x="1175.40" y="107.23" width="10.80" height="24.77" fill="#216c8f"/>
<rect x="1185.60" y="107.23" width="9.80" height="24.77" fill="#4b367c"/>
<rect x="1194.80" y="107.23" width="10.80" height="24.77" fill="#326292"/>
<rect x="1205.00" y="107.23" width="11.20" height="24.77" fill="#216c8f"/>
<rect x="1215.60" y="107.23" width="11.00" height="24.77" fill="#405995"/>
<rect x="1226.00" y="107.23" width="10.40" height="24.77" fill="#405995"/>
<rect x="1235.80" y="107.23" width="10.60" height="24.77" fill="#0a8389"/>
<rect x="1245.80" y="107.23" width="10.60" height="24.77" fill="#216c8f"/>
<rect x="1255.80" y="107.23" width="11.00" height="24.77" fill="#4b367c"/>
<rect x="1266.20" y="107.23" width="9.90" height="24.77" fill="#46246c"/>
<rect x="1275.50" y="107.23" width="10.60" height="24.77" fill="#48468c"/>
<rect x="1285.50" y="107.23" width="11.20" height="24.77" fill="#3e0f4b"/>
<rect x="1296.10" y="107.23" width="10.90" height="24.77" fill="#3e0f4b"/>
<rect x="1306.40" y="107.23" width="9.80" height="24.77" fill="#3e0f4b"/>
<rect x="1315.60" y="107.23" width="11.30" height="24.77" fill="#3e0f4b"/>
<rect x="1326.30" y="107.23" width="10.60" height="24.77" fill="#3e0f4b"/>
<rect x="1336.30" y="107.23" width="11.20" height="24.77" fill="#3e0f4b"/>
<rect x="1346.90" y="107.23" width="6.10" height="24.77" fill="#ede42c"/>
<rect x="1036.80" y="131.40" width="5.60" height="24.77" fill="#94c450"/>
<rect x="1041.80" y="131.40" width="11.50" height="24.77" fill="#405995"/>
<rect x="1052.70" y="131.40" width="10.90" height="24.77" fill="#10788c"/>
<rect x="1063.00" y="131.40" width="12.90" height="24.77" fill="#38af6d"/>
<rect x="1075.30" y="131.40" width="9.20" height="24.77" fill="#ede42c"/>
<rect x="1083.90" y="131.40" width="9.50" height="24.77" fill="#0a8389"/>
<rect x="1092.80" y="131.40" width="12.70" height="24.77" fill="#0a8389"/>
<rect x="1104.90" y="131.40" width="11.50" height="24.77" fill="#38af6d"/>
<rect x="1115.80" y="131.40" width="9.30" height="24.77" fill="#79bc5d"/>
<rect x="1124.50" y="131.40" width="10.80" height="24.77" fill="#216c8f"/>
<rect x="1134.70" y="131.40" width="9.50" height="24.77" fill="#216c8f"/>
<rect x="1143.60" y="131.40" width="11.10" height="24.77" fill="#0a8389"/>
<rect x="1154.10" y="131.40" width="11.20" height="24.77" fill="#216c8f"/>
<rect x="1164.70" y="131.40" width="11.30" height="24.77" fill="#0a8389"/>
<rect x="1175.40" y="131.40" width="10.80" height="24.77" fill="#405995"/>
<rect x="1185.60" y="131.40" width="9.80" height="24.77" fill="#405995"/>
<rect x="1194.80" y="131.40" width="10.80" height="24.77" fill="#216c8f"/>
<rect x="1205.00" y="131.40" width="11.20" height="24.77" fill="#405995"/>
<rect x="1215.60" y="131.40" width="11.00" height="24.77" fill="#405995"/>
<rect x="1226.00" y="131.40" width="10.40" height="24.77" fill="#405995"/>
<rect x="1235.80" y="131.40" width="10.60" height="24.77" fill="#216c8f"/>
<rect x="1245.80" y="131.40" width="10.60" height="24.77" fill="#4b367c"/>
<rect x="1255.80" y="131.40" width="11.00" height="24.77" fill="#4b367c"/>
<rect x="1266.20" y="131.40" width="9.90" height="24.77" fill="#46246c"/>
<rect x="1275.50" y="131.40" width="10.60" height="24.77" fill="#4b367c"/>
<rect x="1285.50" y="131.40" width="11.20" height="24.77" fill="#48468c"/>
<rect x="1296.10" y="131.40" width="10.90" height="24.77" fill="#46246c"/>
<rect x="1306.40" y="131.40" width="9.80" height="24.77" fill="#3e0f4b"/>
<rect x="1315.60" y="131.40" width="11.30" height="24.77" fill="#0a8389"/>
<rect x="1326.30" y="131.40" width="10.60" height="24.77" fill="#3e0f4b"/>
<rect x="1336.30" y="131.40" width="11.20" height="24.77" fill="#3e0f4b"/>
<rect x="1346.90" y="131.40" width="6.10" height="24.77" fill="#4b367c"/>
<rect x="1036.80" y="155.57" width="5.60" height="24.77" fill="#0a8389"/>
<rect x="1041.80" y="155.57" width="11.50" height="24.77" fill="#079b7b"/>
<rect x="1052.70" y="155.57" width="10.90" height="24.77" fill="#216c8f"/>
<rect x="1063.00" y="155.57" width="12.90" height="24.77" fill="#38af6d"/>
<rect x="1075.30" y="155.57" width="9.20" height="24.77" fill="#94c450"/>
<rect x="1083.90" y="155.57" width="9.50" height="24.77" fill="#79bc5d"/>
<rect x="1092.80" y="155.57" width="12.70" height="24.77" fill="#79bc5d"/>
<rect x="1104.90" y="155.57" width="11.50" height="24.77" fill="#ede42c"/>
<rect x="1115.80" y="155.57" width="9.30" height="24.77" fill="#38af6d"/>
<rect x="1124.50" y="155.57" width="10.80" height="24.77" fill="#0a8389"/>
<rect x="1134.70" y="155.57" width="9.50" height="24.77" fill="#078f86"/>
<rect x="1143.60" y="155.57" width="11.10" height="24.77" fill="#38af6d"/>
<rect x="1154.10" y="155.57" width="11.20" height="24.77" fill="#079b7b"/>
<rect x="1164.70" y="155.57" width="11.30" height="24.77" fill="#38af6d"/>
<rect x="1175.40" y="155.57" width="10.80" height="24.77" fill="#0a8389"/>
<rect x="1185.60" y="155.57" width="9.80" height="24.77" fill="#0a8389"/>
<rect x="1194.80" y="155.57" width="10.80" height="24.77" fill="#0a8389"/>
<rect x="1205.00" y="155.57" width="11.20" height="24.77" fill="#10788c"/>
<rect x="1215.60" y="155.57" width="11.00" height="24.77" fill="#326292"/>
<rect x="1226.00" y="155.57" width="10.40" height="24.77" fill="#326292"/>
<rect x="1235.80" y="155.57" width="10.60" height="24.77" fill="#0a8389"/>
<rect x="1245.80" y="155.57" width="10.60" height="24.77" fill="#216c8f"/>
<rect x="1255.80" y="155.57" width="11.00" height="24.77" fill="#216c8f"/>
<rect x="1266.20" y="155.57" width="9.90" height="24.77" fill="#405995"/>
<rect x="1275.50" y="155.57" width="10.60" height="24.77" fill="#216c8f"/>
<rect x="1285.50" y="155.57" width="11.20" height="24.77" fill="#48468c"/>
<rect x="1296.10" y="155.57" width="10.90" height="24.77" fill="#48468c"/>
<rect x="1306.40" y="155.57" width="9.80" height="24.77" fill="#4b367c"/>
<rect x="1315.60" y="155.57" width="11.30" height="24.77" fill="#46246c"/>
<rect x="1326.30" y="155.57" width="10.60" height="24.77" fill="#ede42c"/>
<rect x="1336.30" y="155.57" width="11.20" height="24.77" fill="#405995"/>
<rect x="1346.90" y="155.57" width="6.10" height="24.77" fill="#3e0f4b"/>
<rect x="1036.80" y="179.73" width="5.60" height="24.77" fill="#216c8f"/>
<rect x="1041.80" y="179.73" width="11.50" height="24.77" fill="#4b367c"/>
<rect x="1052.70" y="179.73" width="10.90" height="24.77" fill="#48468c"/>
<rect x="1063.00" y="179.73" width="12.90" height="24.77" fill="#216c8f"/>
<rect x="1075.30" y="179.73" width="9.20" height="24.77" fill="#079b7b"/>
<rect x="1083.90" y="179.73" width="9.50" height="24.77" fill="#ede42c"/>
<rect x="1092.80" y="179.73" width="12.70" height="24.77" fill="#079b7b"/>
<rect x="1104.90" y="179.73" width="11.50" height="24.77" fill="#79bc5d"/>
<rect x="1115.80" y="179.73" width="9.30" height="24.77" fill="#ede42c"/>
<rect x="1124.50" y="179.73" width="10.80" height="24.77" fill="#d2da38"/>
<rect x="1134.70" y="179.73" width="9.50" height="24.77" fill="#ede42c"/>
<rect x="1143.60" y="179.73" width="11.10" height="24.77" fill="#079b7b"/>
<rect x="1154.10" y="179.73" width="11.20" height="24.77" fill="#ede42c"/>
<rect x="1164.70" y="179.73" width="11.30" height="24.77" fill="#ede42c"/>
<rect x="1175.40" y="179.73" width="10.80" height="24.77" fill="#ede42c"/>
<rect x="1185.60" y="179.73" width="9.80" height="24.77" fill="#ede42c"/>
<rect x="1194.80" y="179.73" width="10.80" height="24.77" fill="#ede42c"/>
<rect x="1205.00" y="179.73" width="11.20" height="24.77" fill="#ede42c"/>
<rect x="1215.60" y="179.73" width="11.00" height="24.77" fill="#ede42c"/>
<rect x="1226.00" y="179.73" width="10.40" height="24.77" fill="#79bc5d"/>
<rect x="1235.80" y="179.73" width="10.60" height="24.77" fill="#ede42c"/>
<rect x="1245.80" y="179.73" width="10.60" height="24.77" fill="#38af6d"/>
<rect x="1255.80" y="179.73" width="11.00" height="24.77" fill="#ede42c"/>
<rect x="1266.20" y="179.73" width="9.90" height="24.77" fill="#ede42c"/>
<rect x="1275.50" y="179.73" width="10.60" height="24.77" fill="#ede42c"/>
<rect x="1285.50" y="179.73" width="11.20" height="24.77" fill="#216c8f"/>
<rect x="1296.10" y="179.73" width="10.90" height="24.77" fill="#079b7b"/>
<rect x="1306.40" y="179.73" width="9.80" height="24.77" fill="#216c8f"/>
<rect x="1315.60" y="179.73" width="11.30" height="24.77" fill="#3e0f4b"/>
<rect x="1326.30" y="179.73" width="10.60" height="24.77" fill="#46246c"/>
<rect x="1336.30" y="179.73" width="11.20" height="24.77" fill="#3e0f4b"/>
<rect x="1346.90" y="179.73" width="6.10" height="24.77" fill="#3e0f4b"/>
<rect x="1036.80" y="203.90" width="5.60" height="24.77" fill="#326292"/>
<rect x="1041.80" y="203.90" width="11.50" height="24.77" fill="#405995"/>
<rect x="1052.70" y="203.90" width="10.90" height="24.77" fill="#216c8f"/>
<rect x="1063.00" y="203.90" width="12.90" height="24.77" fill="#10788c"/>
<rect x="1075.30" y="203.90" width="9.20" height="24.77" fill="#38af6d"/>
<rect x="1083.90" y="203.90" width="9.50" height="24.77" fill="#0a8389"/>
<rect x="1092.80" y="203.90" width="12.70" height="24.77" fill="#079b7b"/>
<rect x="1104.90" y="203.90" width="11.50" height="24.77" fill="#d2da38"/>
<rect x="1115.80" y="203.90" width="9.30" height="24.77" fill="#94c450"/>
<rect x="1124.50" y="203.90" width="10.80" height="24.77" fill="#ede42c"/>
<rect x="1134.70" y="203.90" width="9.50" height="24.77" fill="#79bc5d"/>
<rect x="1143.60" y="203.90" width="11.10" height="24.77" fill="#accc46"/>
<rect x="1154.10" y="203.90" width="11.20" height="24.77" fill="#38af6d"/>
<rect x="1164.70" y="203.90" width="11.30" height="24.77" fill="#38af6d"/>
<rect x="1175.40" y="203.90" width="10.80" height="24.77" fill="#79bc5d"/>
<rect x="1185.60" y="203.90" width="9.80" height="24.77" fill="#79bc5d"/>
<rect x="1194.80" y="203.90" width="10.80" height="24.77" fill="#d2da38"/>
<rect x="1205.00" y="203.90" width="11.20" height="24.77" fill="#accc46"/>
<rect x="1215.60" y="203.90" width="11.00" height="24.77" fill="#94c450"/>
<rect x="1226.00" y="203.90" width="10.40" height="24.77" fill="#ede42c"/>
<rect x="1235.80" y="203.90" width="10.60" height="24.77" fill="#94c450"/>
<rect x="1245.80" y="203.90" width="10.60" height="24.77" fill="#ede42c"/>
<rect x="1255.80" y="203.90" width="11.00" height="24.77" fill="#0a8389"/>
<rect x="1266.20" y="203.90" width="9.90" height="24.77" fill="#accc46"/>
<rect x="1275.50" y="203.90" width="10.60" height="24.77" fill="#079b7b"/>
<rect x="1285.50" y="203.90" width="11.20" height="24.77" fill="#ede42c"/>
<rect x="1296.10" y="203.90" width="10.90" height="24.77" fill="#ede42c"/>
<rect x="1306.40" y="203.90" width="9.80" height="24.77" fill="#ede42c"/>
<rect x="1315.60" y="203.90" width="11.30" height="24.77" fill="#46246c"/>
<rect x="1326.30" y="203.90" width="10.60" height="24.77" fill="#216c8f"/>
<rect x="1336.30" y="203.90" width="11.20" height="24.77" fill="#4b367c"/>
<rect x="1346.90" y="203.90" width="6.10" height="24.77" fill="#4b367c"/>
<rect x="1036.80" y="228.07" width="5.60" height="24.77" fill="#405995"/>
<rect x="1041.80" y="228.07" width="11.50" height="24.77" fill="#405995"/>
<rect x="1052.70" y="228.07" width="10.90" height="24.77" fill="#48468c"/>
<rect x="1063.00" y="228.07" width="12.90" height="24.77" fill="#48468c"/>
<rect x="1075.30" y="228.07" width="9.20" height="24.77" fill="#38af6d"/>
<rect x="1083.90" y="228.07" width="9.50" height="24.77" fill="#0a8389"/>
<rect x="1092.80" y="228.07" width="12.70" height="24.77" fill="#079b7b"/>
<rect x="1104.90" y="228.07" width="11.50" height="24.77" fill="#accc46"/>
<rect x="1115.80" y="228.07" width="9.30" height="24.77" fill="#d2da38"/>
<rect x="1124.50" y="228.07" width="10.80" height="24.77" fill="#accc46"/>
<rect x="1134.70" y="228.07" width="9.50" height="24.77" fill="#0a8389"/>
<rect x="1143.60" y="228.07" width="11.10" height="24.77" fill="#ede42c"/>
<rect x="1154.10" y="228.07" width="11.20" height="24.77" fill="#10788c"/>
<rect x="1164.70" y="228.07" width="11.30" height="24.77" fill="#079b7b"/>
<rect x="1175.40" y="228.07" width="10.80" height="24.77" fill="#0a8389"/>
<rect x="1185.60" y="228.07" width="9.80" height="24.77" fill="#216c8f"/>
<rect x="1194.80" y="228.07" width="10.80" height="24.77" fill="#405995"/>
<rect x="1205.00" y="228.07" width="11.20" height="24.77" fill="#216c8f"/>
<rect x="1215.60" y="228.07" width="11.00" height="24.77" fill="#0a8389"/>
<rect x="1226.00" y="228.07" width="10.40" height="24.77" fill="#216c8f"/>
<rect x="1235.80" y="228.07" width="10.60" height="24.77" fill="#405995"/>
<rect x="1245.80" y="228.07" width="10.60" height="24.77" fill="#405995"/>
<rect x="1255.80" y="228.07" width="11.00" height="24.77" fill="#48468c"/>
<rect x="1266.20" y="228.07" width="9.90" height="24.77" fill="#078f86"/>
<rect x="1275.50" y="228.07" width="10.60" height="24.77" fill="#4b367c"/>
<rect x="1285.50" y="228.07" width="11.20" height="24.77" fill="#48468c"/>
<rect x="1296.10" y="228.07" width="10.90" height="24.77" fill="#216c8f"/>
<rect x="1306.40" y="228.07" width="9.80" height="24.77" fill="#46246c"/>
<rect x="1315.60" y="228.07" width="11.30" height="24.77" fill="#46246c"/>
<rect x="1326.30" y="228.07" width="10.60" height="24.77" fill="#3e0f4b"/>
<rect x="1336.30" y="228.07" width="11.20" height="24.77" fill="#3e0f4b"/>
<rect x="1346.90" y="228.07" width="6.10" height="24.77" fill="#46246c"/>
<rect x="1036.80" y="252.23" width="5.60" height="24.77" fill="#405995"/>
<rect x="1041.80" y="252.23" width="11.50" height="24.77" fill="#4b367c"/>
<rect x="1052.70" y="252.23" width="10.90" height="24.77" fill="#326292"/>
<rect x="1063.00" y="252.23" width="12.90" height="24.77" fill="#326292"/>
<rect x="1075.30" y="252.23" width="9.20" height="24.77" fill="#10788c"/>
<rect x="1083.90" y="252.23" width="9.50" height="24.77" fill="#0a8389"/>
<rect x="1092.80" y="252.23" width="12.70" height="24.77" fill="#078f86"/>
<rect x="1104.90" y="252.23" width="11.50" height="24.77" fill="#0a8389"/>
<rect x="1115.80" y="252.23" width="9.30" height="24.77" fill="#38af6d"/>
<rect x="1124.50" y="252.23" width="10.80" height="24.77" fill="#0a8389"/>
<rect x="1134.70" y="252.23" width="9.50" height="24.77" fill="#405995"/>
<rect x="1143.60" y="252.23" width="11.10" height="24.77" fill="#0a8389"/>
<rect x="1154.10" y="252.23" width="11.20" height="24.77" fill="#405995"/>
<rect x="1164.70" y="252.23" width="11.30" height="24.77" fill="#10788c"/>
<rect x="1175.40" y="252.23" width="10.80" height="24.77" fill="#079b7b"/>
<rect x="1185.60" y="252.23" width="9.80" height="24.77" fill="#326292"/>
<rect x="1194.80" y="252.23" width="10.80" height="24.77" fill="#4b367c"/>
<rect x="1205.00" y="252.23" width="11.20" height="24.77" fill="#48468c"/>
<rect x="1215.60" y="252.23" width="11.00" height="24.77" fill="#48468c"/>
<rect x="1226.00" y="252.23" width="10.40" height="24.77" fill="#405995"/>
<rect x="1235.80" y="252.23" width="10.60" height="24.77" fill="#405995"/>
<rect x="1245.80" y="252.23" width="10.60" height="24.77" fill="#216c8f"/>
<rect x="1255.80" y="252.23" width="11.00" height="24.77" fill="#405995"/>
<rect x="1266.20" y="252.23" width="9.90" height="24.77" fill="#48468c"/>
<rect x="1275.50" y="252.23" width="10.60" height="24.77" fill="#46246c"/>
<rect x="1285.50" y="252.23" width="11.20" height="24.77" fill="#46246c"/>
<rect x="1296.10" y="252.23" width="10.90" height="24.77" fill="#4b367c"/>
<rect x="1306.40" y="252.23" width="9.80" height="24.77" fill="#46246c"/>
<rect x="1315.60" y="252.23" width="11.30" height="24.77" fill="#3e0f4b"/>
<rect x="1326.30" y="252.23" width="10.60" height="24.77" fill="#405995"/>
<rect x="1336.30" y="252.23" width="11.20" height="24.77" fill="#326292"/>
<rect x="1346.90" y="252.23" width="6.10" height="24.77" fill="#46246c"/>
<rect x="1036.80" y="276.40" width="5.60" height="24.77" fill="#216c8f"/>
<rect x="1041.80" y="276.40" width="11.50" height="24.77" fill="#405995"/>
<rect x="1052.70" y="276.40" width="10.90" height="24.77" fill="#48468c"/>
<rect x="1063.00" y="276.40" width="12.90" height="24.77" fill="#216c8f"/>
<rect x="1075.30" y="276.40" width="9.20" height="24.77" fill="#079b7b"/>
<rect x="1083.90" y="276.40" width="9.50" height="24.77" fill="#0a8389"/>
<rect x="1092.80" y="276.40" width="12.70" height="24.77" fill="#078f86"/>
<rect x="1104.90" y="276.40" width="11.50" height="24.77" fill="#10788c"/>
<rect x="1115.80" y="276.40" width="9.30" height="24.77" fill="#216c8f"/>
<rect x="1124.50" y="276.40" width="10.80" height="24.77" fill="#48468c"/>
<rect x="1134.70" y="276.40" width="9.50" height="24.77" fill="#216c8f"/>
<rect x="1143.60" y="276.40" width="11.10" height="24.77" fill="#216c8f"/>
<rect x="1154.10" y="276.40" width="11.20" height="24.77" fill="#326292"/>
<rect x="1164.70" y="276.40" width="11.30" height="24.77" fill="#326292"/>
<rect x="1175.40" y="276.40" width="10.80" height="24.77" fill="#405995"/>
<rect x="1185.60" y="276.40" width="9.80" height="24.77" fill="#48468c"/>
<rect x="1194.80" y="276.40" width="10.80" height="24.77" fill="#405995"/>
<rect x="1205.00" y="276.40" width="11.20" height="24.77" fill="#405995"/>
<rect x="1215.60" y="276.40" width="11.00" height="24.77" fill="#405995"/>
<rect x="1226.00" y="276.40" width="10.40" height="24.77" fill="#4b367c"/>
<rect x="1235.80" y="276.40" width="10.60" height="24.77" fill="#216c8f"/>
<rect x="1245.80" y="276.40" width="10.60" height="24.77" fill="#405995"/>
<rect x="1255.80" y="276.40" width="11.00" height="24.77" fill="#405995"/>
<rect x="1266.20" y="276.40" width="9.90" height="24.77" fill="#405995"/>
<rect x="1275.50" y="276.40" width="10.60" height="24.77" fill="#405995"/>
<rect x="1285.50" y="276.40" width="11.20" height="24.77" fill="#405995"/>
<rect x="1296.10" y="276.40" width="10.90" height="24.77" fill="#405995"/>
<rect x="1306.40" y="276.40" width="9.80" height="24.77" fill="#48468c"/>
<rect x="1315.60" y="276.40" width="11.30" height="24.77" fill="#3e0f4b"/>
<rect x="1326.30" y="276.40" width="10.60" height="24.77" fill="#3e0f4b"/>
<rect x="1336.30" y="276.40" width="11.20" height="24.77" fill="#3e0f4b"/>
<rect x="1346.90" y="276.40" width="6.10" height="24.77" fill="#46246c"/>
<rect x="1036.80" y="300.57" width="5.60" height="24.77" fill="#216c8f"/>
<rect x="1041.80" y="300.57" width="11.50" height="24.77" fill="#216c8f"/>
<rect x="1052.70" y="300.57" width="10.90" height="24.77" fill="#405995"/>
<rect x="1063.00" y="300.57" width="12.90" height="24.77" fill="#0a8389"/>
<rect x="1075.30" y="300.57" width="9.20" height="24.77" fill="#079b7b"/>
<rect x="1083.90" y="300.57" width="9.50" height="24.77" fill="#38af6d"/>
<rect x="1092.80" y="300.57" width="12.70" height="24.77" fill="#079b7b"/>
<rect x="1104.90" y="300.57" width="11.50" height="24.77" fill="#079b7b"/>
<rect x="1115.80" y="300.57" width="9.30" height="24.77" fill="#0a8389"/>
<rect x="1124.50" y="300.57" width="10.80" height="24.77" fill="#216c8f"/>
<rect x="1134.70" y="300.57" width="9.50" height="24.77" fill="#48468c"/>
<rect x="1143.60" y="300.57" width="11.10" height="24.77" fill="#48468c"/>
<rect x="1154.10" y="300.57" width="11.20" height="24.77" fill="#216c8f"/>
<rect x="1164.70" y="300.57" width="11.30" height="24.77" fill="#405995"/>
<rect x="1175.40" y="300.57" width="10.80" height="24.77" fill="#405995"/>
<rect x="1185.60" y="300.57" width="9.80" height="24.77" fill="#48468c"/>
<rect x="1194.80" y="300.57" width="10.80" height="24.77" fill="#48468c"/>
<rect x="1205.00" y="300.57" width="11.20" height="24.77" fill="#216c8f"/>
<rect x="1215.60" y="300.57" width="11.00" height="24.77" fill="#4b367c"/>
<rect x="1226.00" y="300.57" width="10.40" height="24.77" fill="#216c8f"/>
<rect x="1235.80" y="300.57" width="10.60" height="24.77" fill="#405995"/>
<rect x="1245.80" y="300.57" width="10.60" height="24.77" fill="#405995"/>
<rect x="1255.80" y="300.57" width="11.00" height="24.77" fill="#48468c"/>
<rect x="1266.20" y="300.57" width="9.90" height="24.77" fill="#10788c"/>
<rect x="1275.50" y="300.57" width="10.60" height="24.77" fill="#48468c"/>
<rect x="1285.50" y="300.57" width="11.20" height="24.77" fill="#46246c"/>
<rect x="1296.10" y="300.57" width="10.90" height="24.77" fill="#4b367c"/>
<rect x="1306.40" y="300.57" width="9.80" height="24.77" fill="#46246c"/>
<rect x="1315.60" y="300.57" width="11.30" height="24.77" fill="#3e0f4b"/>
<rect x="1326.30" y="300.57" width="10.60" height="24.77" fill="#48468c"/>
<rect x="1336.30" y="300.57" width="11.20" height="24.77" fill="#3e0f4b"/>
<rect x="1346.90" y="300.57" width="6.10" height="24.77" fill="#3e0f4b"/>
<rect x="1036.80" y="324.73" width="5.60" height="24.77" fill="#079b7b"/>
<rect x="1041.80" y="324.73" width="11.50" height="24.77" fill="#ede42c"/>
<rect x="1052.70" y="324.73" width="10.90" height="24.77" fill="#216c8f"/>
<rect x="1063.00" y="324.73" width="12.90" height="24.77" fill="#ede42c"/>
<rect x="1075.30" y="324.73" width="9.20" height="24.77" fill="#ede42c"/>
<rect x="1083.90" y="324.73" width="9.50" height="24.77" fill="#79bc5d"/>
<rect x="1092.80" y="324.73" width="12.70" height="24.77" fill="#ede42c"/>
<rect x="1104.90" y="324.73" width="11.50" height="24.77" fill="#216c8f"/>
<rect x="1115.80" y="324.73" width="9.30" height="24.77" fill="#405995"/>
<rect x="1124.50" y="324.73" width="10.80" height="24.77" fill="#216c8f"/>
<rect x="1134.70" y="324.73" width="9.50" height="24.77" fill="#0a8389"/>
<rect x="1143.60" y="324.73" width="11.10" height="24.77" fill="#079b7b"/>
<rect x="1154.10" y="324.73" width="11.20" height="24.77" fill="#0a8389"/>
<rect x="1164.70" y="324.73" width="11.30" height="24.77" fill="#3e0f4b"/>
<rect x="1175.40" y="324.73" width="10.80" height="24.77" fill="#405995"/>
<rect x="1185.60" y="324.73" width="9.80" height="24.77" fill="#4b367c"/>
<rect x="1194.80" y="324.73" width="10.80" height="24.77" fill="#326292"/>
<rect x="1205.00" y="324.73" width="11.20" height="24.77" fill="#326292"/>
<rect x="1215.60" y="324.73" width="11.00" height="24.77" fill="#0a8389"/>
<rect x="1226.00" y="324.73" width="10.40" height="24.77" fill="#405995"/>
<rect x="1235.80" y="324.73" width="10.60" height="24.77" fill="#405995"/>
<rect x="1245.80" y="324.73" width="10.60" height="24.77" fill="#079b7b"/>
<rect x="1255.80" y="324.73" width="11.00" height="24.77" fill="#46246c"/>
<rect x="1266.20" y="324.73" width="9.90" height="24.77" fill="#4b367c"/>
<rect x="1275.50" y="324.73" width="10.60" height="24.77" fill="#3e0f4b"/>
<rect x="1285.50" y="324.73" width="11.20" height="24.77" fill="#3e0f4b"/>
<rect x="1296.10" y="324.73" width="10.90" height="24.77" fill="#3e0f4b"/>
<rect x="1306.40" y="324.73" width="9.80" height="24.77" fill="#3e0f4b"/>
<rect x="1315.60" y="324.73" width="11.30" height="24.77" fill="#3e0f4b"/>
<rect x="1326.30" y="324.73" width="10.60" height="24.77" fill="#3e0f4b"/>
<rect x="1336.30" y="324.73" width="11.20" height="24.77" fill="#3e0f4b"/>
<rect x="1346.90" y="324.73" width="6.10" height="24.77" fill="#3e0f4b"/>
<line x1="1207.46" y1="58.30" x2="1207.46" y2="348.90" stroke="#f5a125" stroke-width="2.10" stroke-dasharray="18 16.2"/>
<line x1="1249.92" y1="58.30" x2="1249.92" y2="348.90" stroke="#f5a125" stroke-width="2.10" stroke-dasharray="18 16.2"/>
<line x1="1036.80" y1="348.90" x2="1043.00" y2="348.90" stroke="#000" stroke-width="1.30"/>
<line x1="1352.40" y1="348.90" x2="1346.20" y2="348.90" stroke="#000" stroke-width="1.30"/>
<line x1="1036.80" y1="332.79" x2="1040.30" y2="332.79" stroke="#000" stroke-width="1.30"/>
<line x1="1352.40" y1="332.79" x2="1348.90" y2="332.79" stroke="#000" stroke-width="1.30"/>
<line x1="1036.80" y1="316.68" x2="1040.30" y2="316.68" stroke="#000" stroke-width="1.30"/>
<line x1="1352.40" y1="316.68" x2="1348.90" y2="316.68" stroke="#000" stroke-width="1.30"/>
<line x1="1036.80" y1="300.57" x2="1043.00" y2="300.57" stroke="#000" stroke-width="1.30"/>
<line x1="1352.40" y1="300.57" x2="1346.20" y2="300.57" stroke="#000" stroke-width="1.30"/>
<line x1="1036.80" y1="284.46" x2="1040.30" y2="284.46" stroke="#000" stroke-width="1.30"/>
<line x1="1352.40" y1="284.46" x2="1348.90" y2="284.46" stroke="#000" stroke-width="1.30"/>
<line x1="1036.80" y1="268.34" x2="1040.30" y2="268.34" stroke="#000" stroke-width="1.30"/>
<line x1="1352.40" y1="268.34" x2="1348.90" y2="268.34" stroke="#000" stroke-width="1.30"/>
<line x1="1036.80" y1="252.23" x2="1043.00" y2="252.23" stroke="#000" stroke-width="1.30"/>
<line x1="1352.40" y1="252.23" x2="1346.20" y2="252.23" stroke="#000" stroke-width="1.30"/>
<line x1="1036.80" y1="236.12" x2="1040.30" y2="236.12" stroke="#000" stroke-width="1.30"/>
<line x1="1352.40" y1="236.12" x2="1348.90" y2="236.12" stroke="#000" stroke-width="1.30"/>
<line x1="1036.80" y1="220.01" x2="1040.30" y2="220.01" stroke="#000" stroke-width="1.30"/>
<line x1="1352.40" y1="220.01" x2="1348.90" y2="220.01" stroke="#000" stroke-width="1.30"/>
<line x1="1036.80" y1="203.90" x2="1043.00" y2="203.90" stroke="#000" stroke-width="1.30"/>
<line x1="1352.40" y1="203.90" x2="1346.20" y2="203.90" stroke="#000" stroke-width="1.30"/>
<line x1="1036.80" y1="187.79" x2="1040.30" y2="187.79" stroke="#000" stroke-width="1.30"/>
<line x1="1352.40" y1="187.79" x2="1348.90" y2="187.79" stroke="#000" stroke-width="1.30"/>
<line x1="1036.80" y1="171.68" x2="1040.30" y2="171.68" stroke="#000" stroke-width="1.30"/>
<line x1="1352.40" y1="171.68" x2="1348.90" y2="171.68" stroke="#000" stroke-width="1.30"/>
<line x1="1036.80" y1="155.57" x2="1043.00" y2="155.57" stroke="#000" stroke-width="1.30"/>
<line x1="1352.40" y1="155.57" x2="1346.20" y2="155.57" stroke="#000" stroke-width="1.30"/>
<line x1="1036.80" y1="139.46" x2="1040.30" y2="139.46" stroke="#000" stroke-width="1.30"/>
<line x1="1352.40" y1="139.46" x2="1348.90" y2="139.46" stroke="#000" stroke-width="1.30"/>
<line x1="1036.80" y1="123.34" x2="1040.30" y2="123.34" stroke="#000" stroke-width="1.30"/>
<line x1="1352.40" y1="123.34" x2="1348.90" y2="123.34" stroke="#000" stroke-width="1.30"/>
<line x1="1036.80" y1="107.23" x2="1043.00" y2="107.23" stroke="#000" stroke-width="1.30"/>
<line x1="1352.40" y1="107.23" x2="1346.20" y2="107.23" stroke="#000" stroke-width="1.30"/>
<line x1="1036.80" y1="91.12" x2="1040.30" y2="91.12" stroke="#000" stroke-width="1.30"/>
<line x1="1352.40" y1="91.12" x2="1348.90" y2="91.12" stroke="#000" stroke-width="1.30"/>
<line x1="1036.80" y1="75.01" x2="1040.30" y2="75.01" stroke="#000" stroke-width="1.30"/>
<line x1="1352.40" y1="75.01" x2="1348.90" y2="75.01" stroke="#000" stroke-width="1.30"/>
<line x1="1036.80" y1="58.90" x2="1043.00" y2="58.90" stroke="#000" stroke-width="1.30"/>
<line x1="1352.40" y1="58.90" x2="1346.20" y2="58.90" stroke="#000" stroke-width="1.30"/>
<line x1="1055.31" y1="348.90" x2="1055.31" y2="345.40" stroke="#000" stroke-width="1.30"/>
<line x1="1055.31" y1="58.90" x2="1055.31" y2="62.40" stroke="#000" stroke-width="1.30"/>
<line x1="1068.64" y1="348.90" x2="1068.64" y2="345.40" stroke="#000" stroke-width="1.30"/>
<line x1="1068.64" y1="58.90" x2="1068.64" y2="62.40" stroke="#000" stroke-width="1.30"/>
<line x1="1078.98" y1="348.90" x2="1078.98" y2="345.40" stroke="#000" stroke-width="1.30"/>
<line x1="1078.98" y1="58.90" x2="1078.98" y2="62.40" stroke="#000" stroke-width="1.30"/>
<line x1="1087.43" y1="348.90" x2="1087.43" y2="345.40" stroke="#000" stroke-width="1.30"/>
<line x1="1087.43" y1="58.90" x2="1087.43" y2="62.40" stroke="#000" stroke-width="1.30"/>
<line x1="1094.57" y1="348.90" x2="1094.57" y2="345.40" stroke="#000" stroke-width="1.30"/>
<line x1="1094.57" y1="58.90" x2="1094.57" y2="62.40" stroke="#000" stroke-width="1.30"/>
<line x1="1100.76" y1="348.90" x2="1100.76" y2="345.40" stroke="#000" stroke-width="1.30"/>
<line x1="1100.76" y1="58.90" x2="1100.76" y2="62.40" stroke="#000" stroke-width="1.30"/>
<line x1="1106.22" y1="348.90" x2="1106.22" y2="345.40" stroke="#000" stroke-width="1.30"/>
<line x1="1106.22" y1="58.90" x2="1106.22" y2="62.40" stroke="#000" stroke-width="1.30"/>
<line x1="1111.10" y1="348.90" x2="1111.10" y2="342.70" stroke="#000" stroke-width="1.30"/>
<line x1="1111.10" y1="58.90" x2="1111.10" y2="65.10" stroke="#000" stroke-width="1.30"/>
<line x1="1143.22" y1="348.90" x2="1143.22" y2="345.40" stroke="#000" stroke-width="1.30"/>
<line x1="1143.22" y1="58.90" x2="1143.22" y2="62.40" stroke="#000" stroke-width="1.30"/>
<line x1="1162.01" y1="348.90" x2="1162.01" y2="345.40" stroke="#000" stroke-width="1.30"/>
<line x1="1162.01" y1="58.90" x2="1162.01" y2="62.40" stroke="#000" stroke-width="1.30"/>
<line x1="1175.34" y1="348.90" x2="1175.34" y2="345.40" stroke="#000" stroke-width="1.30"/>
<line x1="1175.34" y1="58.90" x2="1175.34" y2="62.40" stroke="#000" stroke-width="1.30"/>
<line x1="1185.68" y1="348.90" x2="1185.68" y2="345.40" stroke="#000" stroke-width="1.30"/>
<line x1="1185.68" y1="58.90" x2="1185.68" y2="62.40" stroke="#000" stroke-width="1.30"/>
<line x1="1194.13" y1="348.90" x2="1194.13" y2="345.40" stroke="#000" stroke-width="1.30"/>
<line x1="1194.13" y1="58.90" x2="1194.13" y2="62.40" stroke="#000" stroke-width="1.30"/>
<line x1="1201.27" y1="348.90" x2="1201.27" y2="345.40" stroke="#000" stroke-width="1.30"/>
<line x1="1201.27" y1="58.90" x2="1201.27" y2="62.40" stroke="#000" stroke-width="1.30"/>
<line x1="1207.46" y1="348.90" x2="1207.46" y2="345.40" stroke="#000" stroke-width="1.30"/>
<line x1="1207.46" y1="58.90" x2="1207.46" y2="62.40" stroke="#000" stroke-width="1.30"/>
<line x1="1212.92" y1="348.90" x2="1212.92" y2="345.40" stroke="#000" stroke-width="1.30"/>
<line x1="1212.92" y1="58.90" x2="1212.92" y2="62.40" stroke="#000" stroke-width="1.30"/>
<line x1="1217.80" y1="348.90" x2="1217.80" y2="342.70" stroke="#000" stroke-width="1.30"/>
<line x1="1217.80" y1="58.90" x2="1217.80" y2="65.10" stroke="#000" stroke-width="1.30"/>
<line x1="1249.92" y1="348.90" x2="1249.92" y2="345.40" stroke="#000" stroke-width="1.30"/>
<line x1="1249.92" y1="58.90" x2="1249.92" y2="62.40" stroke="#000" stroke-width="1.30"/>
<line x1="1268.71" y1="348.90" x2="1268.71" y2="345.40" stroke="#000" stroke-width="1.30"/>
<line x1="1268.71" y1="58.90" x2="1268.71" y2="62.40" stroke="#000" stroke-width="1.30"/>
<line x1="1282.04" y1="348.90" x2="1282.04" y2="345.40" stroke="#000" stroke-width="1.30"/>
<line x1="1282.04" y1="58.90" x2="1282.04" y2="62.40" stroke="#000" stroke-width="1.30"/>
<line x1="1292.38" y1="348.90" x2="1292.38" y2="345.40" stroke="#000" stroke-width="1.30"/>
<line x1="1292.38" y1="58.90" x2="1292.38" y2="62.40" stroke="#000" stroke-width="1.30"/>
<line x1="1300.83" y1="348.90" x2="1300.83" y2="345.40" stroke="#000" stroke-width="1.30"/>
<line x1="1300.83" y1="58.90" x2="1300.83" y2="62.40" stroke="#000" stroke-width="1.30"/>
<line x1="1307.97" y1="348.90" x2="1307.97" y2="345.40" stroke="#000" stroke-width="1.30"/>
<line x1="1307.97" y1="58.90" x2="1307.97" y2="62.40" stroke="#000" stroke-width="1.30"/>
<line x1="1314.16" y1="348.90" x2="1314.16" y2="345.40" stroke="#000" stroke-width="1.30"/>
<line x1="1314.16" y1="58.90" x2="1314.16" y2="62.40" stroke="#000" stroke-width="1.30"/>
<line x1="1319.62" y1="348.90" x2="1319.62" y2="345.40" stroke="#000" stroke-width="1.30"/>
<line x1="1319.62" y1="58.90" x2="1319.62" y2="62.40" stroke="#000" stroke-width="1.30"/>
<line x1="1324.50" y1="348.90" x2="1324.50" y2="342.70" stroke="#000" stroke-width="1.30"/>
<line x1="1324.50" y1="58.90" x2="1324.50" y2="65.10" stroke="#000" stroke-width="1.30"/>
<rect x="1036.80" y="58.90" width="315.60" height="290.00" fill="none" stroke="#000" stroke-width="1.6"/>
<text x="105.01" y="32.90" font-size="38.20" text-anchor="start" fill="#231f20" textLength="367.43" lengthAdjust="spacing">(a) 20:10:48-20:10:52</text>
<text x="66.40" y="80.16" font-size="36.80" text-anchor="start" fill="#231f20">180</text>
<text x="66.40" y="119.26" font-size="36.80" text-anchor="start" fill="#231f20">150</text>
<text x="66.40" y="168.06" font-size="36.80" text-anchor="start" fill="#231f20">120</text>
<text x="86.82" y="216.66" font-size="36.80" text-anchor="start" fill="#231f20">90</text>
<text x="86.82" y="265.26" font-size="36.80" text-anchor="start" fill="#231f20">60</text>
<text x="86.82" y="313.66" font-size="36.80" text-anchor="start" fill="#231f20">30</text>
<text x="107.25" y="349.76" font-size="36.80" text-anchor="start" fill="#231f20">0</text>
<text x="190.23" y="394.60" font-size="36.80" text-anchor="start" fill="#231f20">10</text>
<text x="286.82" y="394.60" font-size="36.80" text-anchor="start" fill="#231f20">100</text>
<text x="383.72" y="394.60" font-size="36.80" text-anchor="start" fill="#231f20">1000</text>
<text x="195.87" y="434.00" font-size="36.80" text-anchor="start" fill="#231f20">Energy (eV)</text>
<text x="36.90" y="317.21" font-size="36.80" text-anchor="start" fill="#231f20" transform="rotate(-90 36.9 317.208)">Pitch Angle [°]</text>
<text x="555.81" y="32.90" font-size="38.20" text-anchor="start" fill="#231f20" textLength="360.77" lengthAdjust="spacing">(d) 20:10:57-20:11:01</text>
<text x="515.80" y="80.16" font-size="36.80" text-anchor="start" fill="#231f20">180</text>
<text x="515.80" y="119.26" font-size="36.80" text-anchor="start" fill="#231f20">150</text>
<text x="515.80" y="168.06" font-size="36.80" text-anchor="start" fill="#231f20">120</text>
<text x="536.22" y="216.66" font-size="36.80" text-anchor="start" fill="#231f20">90</text>
<text x="536.22" y="265.26" font-size="36.80" text-anchor="start" fill="#231f20">60</text>
<text x="536.22" y="313.66" font-size="36.80" text-anchor="start" fill="#231f20">30</text>
<text x="556.65" y="349.76" font-size="36.80" text-anchor="start" fill="#231f20">0</text>
<text x="640.63" y="394.60" font-size="36.80" text-anchor="start" fill="#231f20">10</text>
<text x="737.22" y="394.60" font-size="36.80" text-anchor="start" fill="#231f20">100</text>
<text x="834.12" y="394.60" font-size="36.80" text-anchor="start" fill="#231f20">1000</text>
<text x="646.07" y="434.00" font-size="36.80" text-anchor="start" fill="#231f20">Energy (eV)</text>
<text x="1000.51" y="32.90" font-size="38.20" text-anchor="start" fill="#231f20" textLength="367.05" lengthAdjust="spacing">(g) 20:11:11-20:11:15</text>
<text x="963.10" y="80.16" font-size="36.80" text-anchor="start" fill="#231f20">180</text>
<text x="963.10" y="119.26" font-size="36.80" text-anchor="start" fill="#231f20">150</text>
<text x="963.10" y="168.06" font-size="36.80" text-anchor="start" fill="#231f20">120</text>
<text x="983.52" y="216.66" font-size="36.80" text-anchor="start" fill="#231f20">90</text>
<text x="983.52" y="265.26" font-size="36.80" text-anchor="start" fill="#231f20">60</text>
<text x="983.52" y="313.66" font-size="36.80" text-anchor="start" fill="#231f20">30</text>
<text x="1003.95" y="349.76" font-size="36.80" text-anchor="start" fill="#231f20">0</text>
<text x="1090.43" y="394.60" font-size="36.80" text-anchor="start" fill="#231f20">10</text>
<text x="1187.02" y="394.60" font-size="36.80" text-anchor="start" fill="#231f20">100</text>
<text x="1283.92" y="394.60" font-size="36.80" text-anchor="start" fill="#231f20">1000</text>
<text x="1089.97" y="434.00" font-size="36.80" text-anchor="start" fill="#231f20">Energy (eV)</text>
<defs><linearGradient id="vg" x1="0" y1="1" x2="0" y2="0"><stop offset="0.000" stop-color="#3e0f4b"/><stop offset="0.065" stop-color="#472b70"/><stop offset="0.130" stop-color="#4b4089"/><stop offset="0.195" stop-color="#465294"/><stop offset="0.260" stop-color="#3c5b94"/><stop offset="0.325" stop-color="#2c6690"/><stop offset="0.390" stop-color="#137590"/><stop offset="0.455" stop-color="#0c8089"/><stop offset="0.520" stop-color="#078f87"/><stop offset="0.585" stop-color="#079a7e"/><stop offset="0.636" stop-color="#02a56f"/><stop offset="0.662" stop-color="#2eac6f"/><stop offset="0.694" stop-color="#5db46a"/><stop offset="0.746" stop-color="#72b960"/><stop offset="0.811" stop-color="#8ec153"/><stop offset="0.876" stop-color="#adcb44"/><stop offset="0.940" stop-color="#cfd838"/><stop offset="1.000" stop-color="#ece22c"/></linearGradient></defs>
<rect x="1371.40" y="58.90" width="20.40" height="290.00" fill="url(#vg)" stroke="#000" stroke-width="1.4"/>
<text x="1398.94" y="80.16" font-size="36.80" text-anchor="start" fill="#231f20">1.0</text>
<text x="1400.23" y="216.66" font-size="36.80" text-anchor="start" fill="#231f20">0.5</text>
<text x="1400.23" y="349.76" font-size="36.80" text-anchor="start" fill="#231f20">0.0</text>
<text x="1482.50" y="300.74" font-size="36.80" text-anchor="start" fill="#231f20" transform="rotate(-90 1482.5 300.736)">Norm. DEF</text>
<rect x="955.00" y="347.80" width="1.20" height="2.40" fill="#b0b0b0"/>
<polyline points="133.38,882.62 163.14,811.88 192.90,816.17 222.65,751.50 252.41,691.83 282.17,633.24 311.93,593.23 341.69,686.12 371.45,791.87 401.20,876.54 430.96,859.04 460.72,874.76" fill="none" stroke="#0a0a0a" stroke-width="1.9" stroke-linejoin="round"/>
<path d="M128.68 882.62h9.40M133.38 877.92v9.40" stroke="#0a0a0a" stroke-width="2.00" fill="none"/>
<path d="M158.44 811.88h9.40M163.14 807.18v9.40" stroke="#0a0a0a" stroke-width="2.00" fill="none"/>
<path d="M188.20 816.17h9.40M192.90 811.47v9.40" stroke="#0a0a0a" stroke-width="2.00" fill="none"/>
<path d="M217.95 751.50h9.40M222.65 746.80v9.40" stroke="#0a0a0a" stroke-width="2.00" fill="none"/>
<path d="M247.71 691.83h9.40M252.41 687.13v9.40" stroke="#0a0a0a" stroke-width="2.00" fill="none"/>
<path d="M277.47 633.24h9.40M282.17 628.54v9.40" stroke="#0a0a0a" stroke-width="2.00" fill="none"/>
<path d="M307.23 593.23h9.40M311.93 588.53v9.40" stroke="#0a0a0a" stroke-width="2.00" fill="none"/>
<path d="M336.99 686.12h9.40M341.69 681.42v9.40" stroke="#0a0a0a" stroke-width="2.00" fill="none"/>
<path d="M366.75 791.87h9.40M371.45 787.17v9.40" stroke="#0a0a0a" stroke-width="2.00" fill="none"/>
<path d="M396.50 876.54h9.40M401.20 871.84v9.40" stroke="#0a0a0a" stroke-width="2.00" fill="none"/>
<path d="M426.26 859.04h9.40M430.96 854.34v9.40" stroke="#0a0a0a" stroke-width="2.00" fill="none"/>
<path d="M456.02 874.76h9.40M460.72 870.06v9.40" stroke="#0a0a0a" stroke-width="2.00" fill="none"/>
<polyline points="133.38,860.47 163.14,812.59 192.90,801.16 222.65,774.01 252.41,640.03 282.17,635.74 311.93,593.23 341.69,692.91 371.45,748.28 401.20,836.53 430.96,837.96 460.72,892.26" fill="none" stroke="#a94f9c" stroke-width="1.9" stroke-linejoin="round"/>
<path d="M128.68 860.47h9.40M133.38 855.77v9.40" stroke="#a94f9c" stroke-width="2.00" fill="none"/>
<path d="M158.44 812.59h9.40M163.14 807.89v9.40" stroke="#a94f9c" stroke-width="2.00" fill="none"/>
<path d="M188.20 801.16h9.40M192.90 796.46v9.40" stroke="#a94f9c" stroke-width="2.00" fill="none"/>
<path d="M217.95 774.01h9.40M222.65 769.31v9.40" stroke="#a94f9c" stroke-width="2.00" fill="none"/>
<path d="M247.71 640.03h9.40M252.41 635.33v9.40" stroke="#a94f9c" stroke-width="2.00" fill="none"/>
<path d="M277.47 635.74h9.40M282.17 631.04v9.40" stroke="#a94f9c" stroke-width="2.00" fill="none"/>
<path d="M307.23 593.23h9.40M311.93 588.53v9.40" stroke="#a94f9c" stroke-width="2.00" fill="none"/>
<path d="M336.99 692.91h9.40M341.69 688.21v9.40" stroke="#a94f9c" stroke-width="2.00" fill="none"/>
<path d="M366.75 748.28h9.40M371.45 743.58v9.40" stroke="#a94f9c" stroke-width="2.00" fill="none"/>
<path d="M396.50 836.53h9.40M401.20 831.83v9.40" stroke="#a94f9c" stroke-width="2.00" fill="none"/>
<path d="M426.26 837.96h9.40M430.96 833.26v9.40" stroke="#a94f9c" stroke-width="2.00" fill="none"/>
<path d="M456.02 892.26h9.40M460.72 887.56v9.40" stroke="#a94f9c" stroke-width="2.00" fill="none"/>
<polyline points="133.38,823.67 163.14,811.88 192.90,792.94 222.65,759.72 252.41,675.04 282.17,593.23 311.93,659.32 341.69,686.12 371.45,752.21 401.20,807.95 430.96,859.04 460.72,862.97" fill="none" stroke="#3a5aa8" stroke-width="1.9" stroke-linejoin="round"/>
<path d="M128.68 823.67h9.40M133.38 818.97v9.40" stroke="#3a5aa8" stroke-width="2.00" fill="none"/>
<path d="M158.44 811.88h9.40M163.14 807.18v9.40" stroke="#3a5aa8" stroke-width="2.00" fill="none"/>
<path d="M188.20 792.94h9.40M192.90 788.24v9.40" stroke="#3a5aa8" stroke-width="2.00" fill="none"/>
<path d="M217.95 759.72h9.40M222.65 755.02v9.40" stroke="#3a5aa8" stroke-width="2.00" fill="none"/>
<path d="M247.71 675.04h9.40M252.41 670.34v9.40" stroke="#3a5aa8" stroke-width="2.00" fill="none"/>
<path d="M277.47 593.23h9.40M282.17 588.53v9.40" stroke="#3a5aa8" stroke-width="2.00" fill="none"/>
<path d="M307.23 659.32h9.40M311.93 654.62v9.40" stroke="#3a5aa8" stroke-width="2.00" fill="none"/>
<path d="M336.99 686.12h9.40M341.69 681.42v9.40" stroke="#3a5aa8" stroke-width="2.00" fill="none"/>
<path d="M366.75 752.21h9.40M371.45 747.51v9.40" stroke="#3a5aa8" stroke-width="2.00" fill="none"/>
<path d="M396.50 807.95h9.40M401.20 803.25v9.40" stroke="#3a5aa8" stroke-width="2.00" fill="none"/>
<path d="M426.26 859.04h9.40M430.96 854.34v9.40" stroke="#3a5aa8" stroke-width="2.00" fill="none"/>
<path d="M456.02 862.97h9.40M460.72 858.27v9.40" stroke="#3a5aa8" stroke-width="2.00" fill="none"/>
<polyline points="133.38,829.38 163.14,801.87 192.90,778.29 222.65,685.40 252.41,647.53 282.17,605.02 311.93,593.23 341.69,669.33 371.45,715.41 401.20,739.71 430.96,811.88 460.72,794.01" fill="none" stroke="#47bcd4" stroke-width="1.9" stroke-linejoin="round"/>
<path d="M128.68 829.38h9.40M133.38 824.68v9.40" stroke="#47bcd4" stroke-width="2.00" fill="none"/>
<path d="M158.44 801.87h9.40M163.14 797.17v9.40" stroke="#47bcd4" stroke-width="2.00" fill="none"/>
<path d="M188.20 778.29h9.40M192.90 773.59v9.40" stroke="#47bcd4" stroke-width="2.00" fill="none"/>
<path d="M217.95 685.40h9.40M222.65 680.70v9.40" stroke="#47bcd4" stroke-width="2.00" fill="none"/>
<path d="M247.71 647.53h9.40M252.41 642.83v9.40" stroke="#47bcd4" stroke-width="2.00" fill="none"/>
<path d="M277.47 605.02h9.40M282.17 600.32v9.40" stroke="#47bcd4" stroke-width="2.00" fill="none"/>
<path d="M307.23 593.23h9.40M311.93 588.53v9.40" stroke="#47bcd4" stroke-width="2.00" fill="none"/>
<path d="M336.99 669.33h9.40M341.69 664.63v9.40" stroke="#47bcd4" stroke-width="2.00" fill="none"/>
<path d="M366.75 715.41h9.40M371.45 710.71v9.40" stroke="#47bcd4" stroke-width="2.00" fill="none"/>
<path d="M396.50 739.71h9.40M401.20 735.01v9.40" stroke="#47bcd4" stroke-width="2.00" fill="none"/>
<path d="M426.26 811.88h9.40M430.96 807.18v9.40" stroke="#47bcd4" stroke-width="2.00" fill="none"/>
<path d="M456.02 794.01h9.40M460.72 789.31v9.40" stroke="#47bcd4" stroke-width="2.00" fill="none"/>
<line x1="118.50" y1="950.50" x2="118.50" y2="943.30" stroke="#000" stroke-width="1.80"/>
<line x1="118.50" y1="557.50" x2="118.50" y2="564.70" stroke="#000" stroke-width="1.80"/>
<line x1="158.18" y1="950.50" x2="158.18" y2="947.00" stroke="#000" stroke-width="1.80"/>
<line x1="158.18" y1="557.50" x2="158.18" y2="561.00" stroke="#000" stroke-width="1.80"/>
<line x1="197.86" y1="950.50" x2="197.86" y2="947.00" stroke="#000" stroke-width="1.80"/>
<line x1="197.86" y1="557.50" x2="197.86" y2="561.00" stroke="#000" stroke-width="1.80"/>
<line x1="237.53" y1="950.50" x2="237.53" y2="943.30" stroke="#000" stroke-width="1.80"/>
<line x1="237.53" y1="557.50" x2="237.53" y2="564.70" stroke="#000" stroke-width="1.80"/>
<line x1="277.21" y1="950.50" x2="277.21" y2="947.00" stroke="#000" stroke-width="1.80"/>
<line x1="277.21" y1="557.50" x2="277.21" y2="561.00" stroke="#000" stroke-width="1.80"/>
<line x1="316.89" y1="950.50" x2="316.89" y2="947.00" stroke="#000" stroke-width="1.80"/>
<line x1="316.89" y1="557.50" x2="316.89" y2="561.00" stroke="#000" stroke-width="1.80"/>
<line x1="356.57" y1="950.50" x2="356.57" y2="943.30" stroke="#000" stroke-width="1.80"/>
<line x1="356.57" y1="557.50" x2="356.57" y2="564.70" stroke="#000" stroke-width="1.80"/>
<line x1="396.24" y1="950.50" x2="396.24" y2="947.00" stroke="#000" stroke-width="1.80"/>
<line x1="396.24" y1="557.50" x2="396.24" y2="561.00" stroke="#000" stroke-width="1.80"/>
<line x1="435.92" y1="950.50" x2="435.92" y2="947.00" stroke="#000" stroke-width="1.80"/>
<line x1="435.92" y1="557.50" x2="435.92" y2="561.00" stroke="#000" stroke-width="1.80"/>
<line x1="475.60" y1="950.50" x2="475.60" y2="943.30" stroke="#000" stroke-width="1.80"/>
<line x1="475.60" y1="557.50" x2="475.60" y2="564.70" stroke="#000" stroke-width="1.80"/>
<line x1="118.50" y1="950.50" x2="125.70" y2="950.50" stroke="#000" stroke-width="1.80"/>
<line x1="475.60" y1="950.50" x2="468.40" y2="950.50" stroke="#000" stroke-width="1.80"/>
<line x1="118.50" y1="932.64" x2="122.00" y2="932.64" stroke="#000" stroke-width="1.80"/>
<line x1="475.60" y1="932.64" x2="472.10" y2="932.64" stroke="#000" stroke-width="1.80"/>
<line x1="118.50" y1="914.77" x2="122.00" y2="914.77" stroke="#000" stroke-width="1.80"/>
<line x1="475.60" y1="914.77" x2="472.10" y2="914.77" stroke="#000" stroke-width="1.80"/>
<line x1="118.50" y1="896.91" x2="122.00" y2="896.91" stroke="#000" stroke-width="1.80"/>
<line x1="475.60" y1="896.91" x2="472.10" y2="896.91" stroke="#000" stroke-width="1.80"/>
<line x1="118.50" y1="879.05" x2="125.70" y2="879.05" stroke="#000" stroke-width="1.80"/>
<line x1="475.60" y1="879.05" x2="468.40" y2="879.05" stroke="#000" stroke-width="1.80"/>
<line x1="118.50" y1="861.18" x2="122.00" y2="861.18" stroke="#000" stroke-width="1.80"/>
<line x1="475.60" y1="861.18" x2="472.10" y2="861.18" stroke="#000" stroke-width="1.80"/>
<line x1="118.50" y1="843.32" x2="122.00" y2="843.32" stroke="#000" stroke-width="1.80"/>
<line x1="475.60" y1="843.32" x2="472.10" y2="843.32" stroke="#000" stroke-width="1.80"/>
<line x1="118.50" y1="825.45" x2="122.00" y2="825.45" stroke="#000" stroke-width="1.80"/>
<line x1="475.60" y1="825.45" x2="472.10" y2="825.45" stroke="#000" stroke-width="1.80"/>
<line x1="118.50" y1="807.59" x2="125.70" y2="807.59" stroke="#000" stroke-width="1.80"/>
<line x1="475.60" y1="807.59" x2="468.40" y2="807.59" stroke="#000" stroke-width="1.80"/>
<line x1="118.50" y1="789.73" x2="122.00" y2="789.73" stroke="#000" stroke-width="1.80"/>
<line x1="475.60" y1="789.73" x2="472.10" y2="789.73" stroke="#000" stroke-width="1.80"/>
<line x1="118.50" y1="771.86" x2="122.00" y2="771.86" stroke="#000" stroke-width="1.80"/>
<line x1="475.60" y1="771.86" x2="472.10" y2="771.86" stroke="#000" stroke-width="1.80"/>
<line x1="118.50" y1="754.00" x2="122.00" y2="754.00" stroke="#000" stroke-width="1.80"/>
<line x1="475.60" y1="754.00" x2="472.10" y2="754.00" stroke="#000" stroke-width="1.80"/>
<line x1="118.50" y1="736.14" x2="125.70" y2="736.14" stroke="#000" stroke-width="1.80"/>
<line x1="475.60" y1="736.14" x2="468.40" y2="736.14" stroke="#000" stroke-width="1.80"/>
<line x1="118.50" y1="718.27" x2="122.00" y2="718.27" stroke="#000" stroke-width="1.80"/>
<line x1="475.60" y1="718.27" x2="472.10" y2="718.27" stroke="#000" stroke-width="1.80"/>
<line x1="118.50" y1="700.41" x2="122.00" y2="700.41" stroke="#000" stroke-width="1.80"/>
<line x1="475.60" y1="700.41" x2="472.10" y2="700.41" stroke="#000" stroke-width="1.80"/>
<line x1="118.50" y1="682.55" x2="122.00" y2="682.55" stroke="#000" stroke-width="1.80"/>
<line x1="475.60" y1="682.55" x2="472.10" y2="682.55" stroke="#000" stroke-width="1.80"/>
<line x1="118.50" y1="664.68" x2="125.70" y2="664.68" stroke="#000" stroke-width="1.80"/>
<line x1="475.60" y1="664.68" x2="468.40" y2="664.68" stroke="#000" stroke-width="1.80"/>
<line x1="118.50" y1="646.82" x2="122.00" y2="646.82" stroke="#000" stroke-width="1.80"/>
<line x1="475.60" y1="646.82" x2="472.10" y2="646.82" stroke="#000" stroke-width="1.80"/>
<line x1="118.50" y1="628.95" x2="122.00" y2="628.95" stroke="#000" stroke-width="1.80"/>
<line x1="475.60" y1="628.95" x2="472.10" y2="628.95" stroke="#000" stroke-width="1.80"/>
<line x1="118.50" y1="611.09" x2="122.00" y2="611.09" stroke="#000" stroke-width="1.80"/>
<line x1="475.60" y1="611.09" x2="472.10" y2="611.09" stroke="#000" stroke-width="1.80"/>
<line x1="118.50" y1="593.23" x2="125.70" y2="593.23" stroke="#000" stroke-width="1.80"/>
<line x1="475.60" y1="593.23" x2="468.40" y2="593.23" stroke="#000" stroke-width="1.80"/>
<line x1="118.50" y1="575.36" x2="122.00" y2="575.36" stroke="#000" stroke-width="1.80"/>
<line x1="475.60" y1="575.36" x2="472.10" y2="575.36" stroke="#000" stroke-width="1.80"/>
<line x1="118.50" y1="557.50" x2="122.00" y2="557.50" stroke="#000" stroke-width="1.80"/>
<line x1="475.60" y1="557.50" x2="472.10" y2="557.50" stroke="#000" stroke-width="1.80"/>
<rect x="118.50" y="557.50" width="357.10" height="393.00" fill="none" stroke="#000" stroke-width="2.3"/>
<text x="113.31" y="542.20" font-size="38.20" text-anchor="start" fill="#231f20" textLength="367.03" lengthAdjust="spacing">(b) 20:10:48-20:10:52</text>
<text x="53.27" y="950.72" font-size="39.50" text-anchor="start" fill="#231f20">0.0</text>
<text x="53.67" y="890.37" font-size="39.50" text-anchor="start" fill="#231f20">0.2</text>
<text x="52.88" y="818.91" font-size="39.50" text-anchor="start" fill="#231f20">0.4</text>
<text x="53.47" y="747.46" font-size="39.50" text-anchor="start" fill="#231f20">0.6</text>
<text x="53.27" y="676.00" font-size="39.50" text-anchor="start" fill="#231f20">0.8</text>
<text x="53.27" y="604.55" font-size="39.50" text-anchor="start" fill="#231f20">1.0</text>
<text x="109.32" y="988.30" font-size="36.70" text-anchor="start" fill="#231f20">0</text>
<text x="220.28" y="988.30" font-size="36.70" text-anchor="start" fill="#231f20">60</text>
<text x="330.87" y="988.30" font-size="36.70" text-anchor="start" fill="#231f20">120</text>
<text x="450.41" y="988.30" font-size="36.70" text-anchor="start" fill="#231f20">180</text>
<text x="197.41" y="1023.20" font-size="37.10" text-anchor="start" fill="#231f20">Pitch Angle [°]</text>
<text x="34.40" y="882.85" font-size="39.20" text-anchor="start" fill="#231f20" transform="rotate(-90 34.4 882.85)">Normalized DEF</text>
<text x="226.81" y="801.20" font-size="39.50" text-anchor="start" fill="#0a0a0a">163 eV</text>
<text x="226.81" y="844.30" font-size="39.50" text-anchor="start" fill="#a94f9c">131 eV</text>
<text x="226.81" y="887.40" font-size="39.50" text-anchor="start" fill="#3a5aa8">106 eV</text>
<text x="238.46" y="930.50" font-size="39.50" text-anchor="start" fill="#47bcd4">85 eV</text>
<line x1="297.05" y1="950.50" x2="297.05" y2="557.50" stroke="#1a1a1a" stroke-width="1.60" stroke-dasharray="3.6 8.4" stroke-dashoffset="11.1"/>
<polyline points="584.48,732.56 614.24,802.95 644.00,851.18 673.75,777.22 703.51,702.20 733.27,617.16 763.03,593.23 792.79,704.34 822.55,849.75 852.30,892.26 882.06,890.84" fill="none" stroke="#0a0a0a" stroke-width="1.9" stroke-linejoin="round"/>
<path d="M579.78 732.56h9.40M584.48 727.86v9.40" stroke="#0a0a0a" stroke-width="2.00" fill="none"/>
<path d="M609.54 802.95h9.40M614.24 798.25v9.40" stroke="#0a0a0a" stroke-width="2.00" fill="none"/>
<path d="M639.30 851.18h9.40M644.00 846.48v9.40" stroke="#0a0a0a" stroke-width="2.00" fill="none"/>
<path d="M669.05 777.22h9.40M673.75 772.52v9.40" stroke="#0a0a0a" stroke-width="2.00" fill="none"/>
<path d="M698.81 702.20h9.40M703.51 697.50v9.40" stroke="#0a0a0a" stroke-width="2.00" fill="none"/>
<path d="M728.57 617.16h9.40M733.27 612.46v9.40" stroke="#0a0a0a" stroke-width="2.00" fill="none"/>
<path d="M758.33 593.23h9.40M763.03 588.53v9.40" stroke="#0a0a0a" stroke-width="2.00" fill="none"/>
<path d="M788.09 704.34h9.40M792.79 699.64v9.40" stroke="#0a0a0a" stroke-width="2.00" fill="none"/>
<path d="M817.85 849.75h9.40M822.55 845.05v9.40" stroke="#0a0a0a" stroke-width="2.00" fill="none"/>
<path d="M847.60 892.26h9.40M852.30 887.56v9.40" stroke="#0a0a0a" stroke-width="2.00" fill="none"/>
<path d="M877.36 890.84h9.40M882.06 886.14v9.40" stroke="#0a0a0a" stroke-width="2.00" fill="none"/>
<polyline points="584.48,857.25 614.24,863.33 644.00,857.25 673.75,845.46 703.51,739.71 733.27,687.19 763.03,593.23 792.79,811.16 822.55,856.18 852.30,886.55 882.06,878.33" fill="none" stroke="#a94f9c" stroke-width="1.9" stroke-linejoin="round"/>
<path d="M579.78 857.25h9.40M584.48 852.55v9.40" stroke="#a94f9c" stroke-width="2.00" fill="none"/>
<path d="M609.54 863.33h9.40M614.24 858.63v9.40" stroke="#a94f9c" stroke-width="2.00" fill="none"/>
<path d="M639.30 857.25h9.40M644.00 852.55v9.40" stroke="#a94f9c" stroke-width="2.00" fill="none"/>
<path d="M669.05 845.46h9.40M673.75 840.76v9.40" stroke="#a94f9c" stroke-width="2.00" fill="none"/>
<path d="M698.81 739.71h9.40M703.51 735.01v9.40" stroke="#a94f9c" stroke-width="2.00" fill="none"/>
<path d="M728.57 687.19h9.40M733.27 682.49v9.40" stroke="#a94f9c" stroke-width="2.00" fill="none"/>
<path d="M758.33 593.23h9.40M763.03 588.53v9.40" stroke="#a94f9c" stroke-width="2.00" fill="none"/>
<path d="M788.09 811.16h9.40M792.79 806.46v9.40" stroke="#a94f9c" stroke-width="2.00" fill="none"/>
<path d="M817.85 856.18h9.40M822.55 851.48v9.40" stroke="#a94f9c" stroke-width="2.00" fill="none"/>
<path d="M847.60 886.55h9.40M852.30 881.85v9.40" stroke="#a94f9c" stroke-width="2.00" fill="none"/>
<path d="M877.36 878.33h9.40M882.06 873.63v9.40" stroke="#a94f9c" stroke-width="2.00" fill="none"/>
<polyline points="584.48,898.34 614.24,843.68 644.00,856.18 673.75,811.16 703.51,679.33 733.27,593.23 763.03,672.54 792.79,682.19 822.55,797.94 852.30,872.26 882.06,821.17" fill="none" stroke="#3a5aa8" stroke-width="1.9" stroke-linejoin="round"/>
<path d="M579.78 898.34h9.40M584.48 893.64v9.40" stroke="#3a5aa8" stroke-width="2.00" fill="none"/>
<path d="M609.54 843.68h9.40M614.24 838.98v9.40" stroke="#3a5aa8" stroke-width="2.00" fill="none"/>
<path d="M639.30 856.18h9.40M644.00 851.48v9.40" stroke="#3a5aa8" stroke-width="2.00" fill="none"/>
<path d="M669.05 811.16h9.40M673.75 806.46v9.40" stroke="#3a5aa8" stroke-width="2.00" fill="none"/>
<path d="M698.81 679.33h9.40M703.51 674.63v9.40" stroke="#3a5aa8" stroke-width="2.00" fill="none"/>
<path d="M728.57 593.23h9.40M733.27 588.53v9.40" stroke="#3a5aa8" stroke-width="2.00" fill="none"/>
<path d="M758.33 672.54h9.40M763.03 667.84v9.40" stroke="#3a5aa8" stroke-width="2.00" fill="none"/>
<path d="M788.09 682.19h9.40M792.79 677.49v9.40" stroke="#3a5aa8" stroke-width="2.00" fill="none"/>
<path d="M817.85 797.94h9.40M822.55 793.24v9.40" stroke="#3a5aa8" stroke-width="2.00" fill="none"/>
<path d="M847.60 872.26h9.40M852.30 867.56v9.40" stroke="#3a5aa8" stroke-width="2.00" fill="none"/>
<path d="M877.36 821.17h9.40M882.06 816.47v9.40" stroke="#3a5aa8" stroke-width="2.00" fill="none"/>
<polyline points="584.48,810.81 614.24,830.46 644.00,833.67 673.75,834.03 703.51,658.25 733.27,677.19 763.03,593.23 792.79,698.62 822.55,805.09 852.30,803.66 882.06,900.84" fill="none" stroke="#47bcd4" stroke-width="1.9" stroke-linejoin="round"/>
<path d="M579.78 810.81h9.40M584.48 806.11v9.40" stroke="#47bcd4" stroke-width="2.00" fill="none"/>
<path d="M609.54 830.46h9.40M614.24 825.76v9.40" stroke="#47bcd4" stroke-width="2.00" fill="none"/>
<path d="M639.30 833.67h9.40M644.00 828.97v9.40" stroke="#47bcd4" stroke-width="2.00" fill="none"/>
<path d="M669.05 834.03h9.40M673.75 829.33v9.40" stroke="#47bcd4" stroke-width="2.00" fill="none"/>
<path d="M698.81 658.25h9.40M703.51 653.55v9.40" stroke="#47bcd4" stroke-width="2.00" fill="none"/>
<path d="M728.57 677.19h9.40M733.27 672.49v9.40" stroke="#47bcd4" stroke-width="2.00" fill="none"/>
<path d="M758.33 593.23h9.40M763.03 588.53v9.40" stroke="#47bcd4" stroke-width="2.00" fill="none"/>
<path d="M788.09 698.62h9.40M792.79 693.92v9.40" stroke="#47bcd4" stroke-width="2.00" fill="none"/>
<path d="M817.85 805.09h9.40M822.55 800.39v9.40" stroke="#47bcd4" stroke-width="2.00" fill="none"/>
<path d="M847.60 803.66h9.40M852.30 798.96v9.40" stroke="#47bcd4" stroke-width="2.00" fill="none"/>
<path d="M877.36 900.84h9.40M882.06 896.14v9.40" stroke="#47bcd4" stroke-width="2.00" fill="none"/>
<line x1="569.60" y1="950.50" x2="569.60" y2="943.30" stroke="#000" stroke-width="1.80"/>
<line x1="569.60" y1="557.50" x2="569.60" y2="564.70" stroke="#000" stroke-width="1.80"/>
<line x1="609.28" y1="950.50" x2="609.28" y2="947.00" stroke="#000" stroke-width="1.80"/>
<line x1="609.28" y1="557.50" x2="609.28" y2="561.00" stroke="#000" stroke-width="1.80"/>
<line x1="648.96" y1="950.50" x2="648.96" y2="947.00" stroke="#000" stroke-width="1.80"/>
<line x1="648.96" y1="557.50" x2="648.96" y2="561.00" stroke="#000" stroke-width="1.80"/>
<line x1="688.63" y1="950.50" x2="688.63" y2="943.30" stroke="#000" stroke-width="1.80"/>
<line x1="688.63" y1="557.50" x2="688.63" y2="564.70" stroke="#000" stroke-width="1.80"/>
<line x1="728.31" y1="950.50" x2="728.31" y2="947.00" stroke="#000" stroke-width="1.80"/>
<line x1="728.31" y1="557.50" x2="728.31" y2="561.00" stroke="#000" stroke-width="1.80"/>
<line x1="767.99" y1="950.50" x2="767.99" y2="947.00" stroke="#000" stroke-width="1.80"/>
<line x1="767.99" y1="557.50" x2="767.99" y2="561.00" stroke="#000" stroke-width="1.80"/>
<line x1="807.67" y1="950.50" x2="807.67" y2="943.30" stroke="#000" stroke-width="1.80"/>
<line x1="807.67" y1="557.50" x2="807.67" y2="564.70" stroke="#000" stroke-width="1.80"/>
<line x1="847.34" y1="950.50" x2="847.34" y2="947.00" stroke="#000" stroke-width="1.80"/>
<line x1="847.34" y1="557.50" x2="847.34" y2="561.00" stroke="#000" stroke-width="1.80"/>
<line x1="887.02" y1="950.50" x2="887.02" y2="947.00" stroke="#000" stroke-width="1.80"/>
<line x1="887.02" y1="557.50" x2="887.02" y2="561.00" stroke="#000" stroke-width="1.80"/>
<line x1="926.70" y1="950.50" x2="926.70" y2="943.30" stroke="#000" stroke-width="1.80"/>
<line x1="926.70" y1="557.50" x2="926.70" y2="564.70" stroke="#000" stroke-width="1.80"/>
<line x1="569.60" y1="950.50" x2="576.80" y2="950.50" stroke="#000" stroke-width="1.80"/>
<line x1="926.70" y1="950.50" x2="919.50" y2="950.50" stroke="#000" stroke-width="1.80"/>
<line x1="569.60" y1="932.64" x2="573.10" y2="932.64" stroke="#000" stroke-width="1.80"/>
<line x1="926.70" y1="932.64" x2="923.20" y2="932.64" stroke="#000" stroke-width="1.80"/>
<line x1="569.60" y1="914.77" x2="573.10" y2="914.77" stroke="#000" stroke-width="1.80"/>
<line x1="926.70" y1="914.77" x2="923.20" y2="914.77" stroke="#000" stroke-width="1.80"/>
<line x1="569.60" y1="896.91" x2="573.10" y2="896.91" stroke="#000" stroke-width="1.80"/>
<line x1="926.70" y1="896.91" x2="923.20" y2="896.91" stroke="#000" stroke-width="1.80"/>
<line x1="569.60" y1="879.05" x2="576.80" y2="879.05" stroke="#000" stroke-width="1.80"/>
<line x1="926.70" y1="879.05" x2="919.50" y2="879.05" stroke="#000" stroke-width="1.80"/>
<line x1="569.60" y1="861.18" x2="573.10" y2="861.18" stroke="#000" stroke-width="1.80"/>
<line x1="926.70" y1="861.18" x2="923.20" y2="861.18" stroke="#000" stroke-width="1.80"/>
<line x1="569.60" y1="843.32" x2="573.10" y2="843.32" stroke="#000" stroke-width="1.80"/>
<line x1="926.70" y1="843.32" x2="923.20" y2="843.32" stroke="#000" stroke-width="1.80"/>
<line x1="569.60" y1="825.45" x2="573.10" y2="825.45" stroke="#000" stroke-width="1.80"/>
<line x1="926.70" y1="825.45" x2="923.20" y2="825.45" stroke="#000" stroke-width="1.80"/>
<line x1="569.60" y1="807.59" x2="576.80" y2="807.59" stroke="#000" stroke-width="1.80"/>
<line x1="926.70" y1="807.59" x2="919.50" y2="807.59" stroke="#000" stroke-width="1.80"/>
<line x1="569.60" y1="789.73" x2="573.10" y2="789.73" stroke="#000" stroke-width="1.80"/>
<line x1="926.70" y1="789.73" x2="923.20" y2="789.73" stroke="#000" stroke-width="1.80"/>
<line x1="569.60" y1="771.86" x2="573.10" y2="771.86" stroke="#000" stroke-width="1.80"/>
<line x1="926.70" y1="771.86" x2="923.20" y2="771.86" stroke="#000" stroke-width="1.80"/>
<line x1="569.60" y1="754.00" x2="573.10" y2="754.00" stroke="#000" stroke-width="1.80"/>
<line x1="926.70" y1="754.00" x2="923.20" y2="754.00" stroke="#000" stroke-width="1.80"/>
<line x1="569.60" y1="736.14" x2="576.80" y2="736.14" stroke="#000" stroke-width="1.80"/>
<line x1="926.70" y1="736.14" x2="919.50" y2="736.14" stroke="#000" stroke-width="1.80"/>
<line x1="569.60" y1="718.27" x2="573.10" y2="718.27" stroke="#000" stroke-width="1.80"/>
<line x1="926.70" y1="718.27" x2="923.20" y2="718.27" stroke="#000" stroke-width="1.80"/>
<line x1="569.60" y1="700.41" x2="573.10" y2="700.41" stroke="#000" stroke-width="1.80"/>
<line x1="926.70" y1="700.41" x2="923.20" y2="700.41" stroke="#000" stroke-width="1.80"/>
<line x1="569.60" y1="682.55" x2="573.10" y2="682.55" stroke="#000" stroke-width="1.80"/>
<line x1="926.70" y1="682.55" x2="923.20" y2="682.55" stroke="#000" stroke-width="1.80"/>
<line x1="569.60" y1="664.68" x2="576.80" y2="664.68" stroke="#000" stroke-width="1.80"/>
<line x1="926.70" y1="664.68" x2="919.50" y2="664.68" stroke="#000" stroke-width="1.80"/>
<line x1="569.60" y1="646.82" x2="573.10" y2="646.82" stroke="#000" stroke-width="1.80"/>
<line x1="926.70" y1="646.82" x2="923.20" y2="646.82" stroke="#000" stroke-width="1.80"/>
<line x1="569.60" y1="628.95" x2="573.10" y2="628.95" stroke="#000" stroke-width="1.80"/>
<line x1="926.70" y1="628.95" x2="923.20" y2="628.95" stroke="#000" stroke-width="1.80"/>
<line x1="569.60" y1="611.09" x2="573.10" y2="611.09" stroke="#000" stroke-width="1.80"/>
<line x1="926.70" y1="611.09" x2="923.20" y2="611.09" stroke="#000" stroke-width="1.80"/>
<line x1="569.60" y1="593.23" x2="576.80" y2="593.23" stroke="#000" stroke-width="1.80"/>
<line x1="926.70" y1="593.23" x2="919.50" y2="593.23" stroke="#000" stroke-width="1.80"/>
<line x1="569.60" y1="575.36" x2="573.10" y2="575.36" stroke="#000" stroke-width="1.80"/>
<line x1="926.70" y1="575.36" x2="923.20" y2="575.36" stroke="#000" stroke-width="1.80"/>
<line x1="569.60" y1="557.50" x2="573.10" y2="557.50" stroke="#000" stroke-width="1.80"/>
<line x1="926.70" y1="557.50" x2="923.20" y2="557.50" stroke="#000" stroke-width="1.80"/>
<rect x="569.60" y="557.50" width="357.10" height="393.00" fill="none" stroke="#000" stroke-width="2.3"/>
<text x="564.41" y="542.20" font-size="38.20" text-anchor="start" fill="#231f20" textLength="361.47" lengthAdjust="spacing">(e) 20:10:57-20:11:01</text>
<text x="504.38" y="950.72" font-size="39.50" text-anchor="start" fill="#231f20">0.0</text>
<text x="504.77" y="890.37" font-size="39.50" text-anchor="start" fill="#231f20">0.2</text>
<text x="503.98" y="818.91" font-size="39.50" text-anchor="start" fill="#231f20">0.4</text>
<text x="504.57" y="747.46" font-size="39.50" text-anchor="start" fill="#231f20">0.6</text>
<text x="504.38" y="676.00" font-size="39.50" text-anchor="start" fill="#231f20">0.8</text>
<text x="504.38" y="604.55" font-size="39.50" text-anchor="start" fill="#231f20">1.0</text>
<text x="560.42" y="988.30" font-size="36.70" text-anchor="start" fill="#231f20">0</text>
<text x="671.38" y="988.30" font-size="36.70" text-anchor="start" fill="#231f20">60</text>
<text x="781.97" y="988.30" font-size="36.70" text-anchor="start" fill="#231f20">120</text>
<text x="901.50" y="988.30" font-size="36.70" text-anchor="start" fill="#231f20">180</text>
<text x="648.51" y="1023.20" font-size="37.10" text-anchor="start" fill="#231f20">Pitch Angle [°]</text>
<line x1="748.15" y1="950.50" x2="748.15" y2="557.50" stroke="#1a1a1a" stroke-width="1.60" stroke-dasharray="3.6 8.4" stroke-dashoffset="11.1"/>
<polyline points="1029.48,872.26 1059.24,876.19 1089.00,845.46 1118.75,864.75 1148.51,879.05 1178.27,642.53 1208.03,593.23 1237.79,803.66 1267.55,850.46 1297.30,787.94 1327.06,904.05" fill="none" stroke="#0a0a0a" stroke-width="1.9" stroke-linejoin="round"/>
<path d="M1024.78 872.26h9.40M1029.48 867.56v9.40" stroke="#0a0a0a" stroke-width="2.00" fill="none"/>
<path d="M1054.54 876.19h9.40M1059.24 871.49v9.40" stroke="#0a0a0a" stroke-width="2.00" fill="none"/>
<path d="M1084.30 845.46h9.40M1089.00 840.76v9.40" stroke="#0a0a0a" stroke-width="2.00" fill="none"/>
<path d="M1114.05 864.75h9.40M1118.75 860.05v9.40" stroke="#0a0a0a" stroke-width="2.00" fill="none"/>
<path d="M1143.81 879.05h9.40M1148.51 874.35v9.40" stroke="#0a0a0a" stroke-width="2.00" fill="none"/>
<path d="M1173.57 642.53h9.40M1178.27 637.83v9.40" stroke="#0a0a0a" stroke-width="2.00" fill="none"/>
<path d="M1203.33 593.23h9.40M1208.03 588.53v9.40" stroke="#0a0a0a" stroke-width="2.00" fill="none"/>
<path d="M1233.09 803.66h9.40M1237.79 798.96v9.40" stroke="#0a0a0a" stroke-width="2.00" fill="none"/>
<path d="M1262.85 850.46h9.40M1267.55 845.76v9.40" stroke="#0a0a0a" stroke-width="2.00" fill="none"/>
<path d="M1292.60 787.94h9.40M1297.30 783.24v9.40" stroke="#0a0a0a" stroke-width="2.00" fill="none"/>
<path d="M1322.36 904.05h9.40M1327.06 899.35v9.40" stroke="#0a0a0a" stroke-width="2.00" fill="none"/>
<polyline points="1029.48,887.98 1059.24,849.39 1089.00,906.56 1118.75,859.40 1148.51,849.75 1178.27,593.23 1208.03,655.75 1237.79,860.47 1267.55,872.97 1297.30,887.26 1327.06,948.71" fill="none" stroke="#a94f9c" stroke-width="1.9" stroke-linejoin="round"/>
<path d="M1024.78 887.98h9.40M1029.48 883.28v9.40" stroke="#a94f9c" stroke-width="2.00" fill="none"/>
<path d="M1054.54 849.39h9.40M1059.24 844.69v9.40" stroke="#a94f9c" stroke-width="2.00" fill="none"/>
<path d="M1084.30 906.56h9.40M1089.00 901.86v9.40" stroke="#a94f9c" stroke-width="2.00" fill="none"/>
<path d="M1114.05 859.40h9.40M1118.75 854.70v9.40" stroke="#a94f9c" stroke-width="2.00" fill="none"/>
<path d="M1143.81 849.75h9.40M1148.51 845.05v9.40" stroke="#a94f9c" stroke-width="2.00" fill="none"/>
<path d="M1173.57 593.23h9.40M1178.27 588.53v9.40" stroke="#a94f9c" stroke-width="2.00" fill="none"/>
<path d="M1203.33 655.75h9.40M1208.03 651.05v9.40" stroke="#a94f9c" stroke-width="2.00" fill="none"/>
<path d="M1233.09 860.47h9.40M1237.79 855.77v9.40" stroke="#a94f9c" stroke-width="2.00" fill="none"/>
<path d="M1262.85 872.97h9.40M1267.55 868.27v9.40" stroke="#a94f9c" stroke-width="2.00" fill="none"/>
<path d="M1292.60 887.26h9.40M1297.30 882.56v9.40" stroke="#a94f9c" stroke-width="2.00" fill="none"/>
<path d="M1322.36 948.71h9.40M1327.06 944.01v9.40" stroke="#a94f9c" stroke-width="2.00" fill="none"/>
<polyline points="1029.48,787.94 1059.24,904.05 1089.00,865.47 1118.75,892.26 1148.51,795.09 1178.27,642.53 1208.03,593.23 1237.79,861.18 1267.55,871.90 1297.30,872.97 1327.06,948.71" fill="none" stroke="#3a5aa8" stroke-width="1.9" stroke-linejoin="round"/>
<path d="M1024.78 787.94h9.40M1029.48 783.24v9.40" stroke="#3a5aa8" stroke-width="2.00" fill="none"/>
<path d="M1054.54 904.05h9.40M1059.24 899.35v9.40" stroke="#3a5aa8" stroke-width="2.00" fill="none"/>
<path d="M1084.30 865.47h9.40M1089.00 860.77v9.40" stroke="#3a5aa8" stroke-width="2.00" fill="none"/>
<path d="M1114.05 892.26h9.40M1118.75 887.56v9.40" stroke="#3a5aa8" stroke-width="2.00" fill="none"/>
<path d="M1143.81 795.09h9.40M1148.51 790.39v9.40" stroke="#3a5aa8" stroke-width="2.00" fill="none"/>
<path d="M1173.57 642.53h9.40M1178.27 637.83v9.40" stroke="#3a5aa8" stroke-width="2.00" fill="none"/>
<path d="M1203.33 593.23h9.40M1208.03 588.53v9.40" stroke="#3a5aa8" stroke-width="2.00" fill="none"/>
<path d="M1233.09 861.18h9.40M1237.79 856.48v9.40" stroke="#3a5aa8" stroke-width="2.00" fill="none"/>
<path d="M1262.85 871.90h9.40M1267.55 867.20v9.40" stroke="#3a5aa8" stroke-width="2.00" fill="none"/>
<path d="M1292.60 872.97h9.40M1297.30 868.27v9.40" stroke="#3a5aa8" stroke-width="2.00" fill="none"/>
<path d="M1322.36 948.71h9.40M1327.06 944.01v9.40" stroke="#3a5aa8" stroke-width="2.00" fill="none"/>
<polyline points="1029.48,859.04 1059.24,838.67 1089.00,874.04 1118.75,885.12 1148.51,845.46 1178.27,625.02 1208.03,593.23 1237.79,811.88 1267.55,882.62 1297.30,841.89 1327.06,905.13" fill="none" stroke="#47bcd4" stroke-width="1.9" stroke-linejoin="round"/>
<path d="M1024.78 859.04h9.40M1029.48 854.34v9.40" stroke="#47bcd4" stroke-width="2.00" fill="none"/>
<path d="M1054.54 838.67h9.40M1059.24 833.97v9.40" stroke="#47bcd4" stroke-width="2.00" fill="none"/>
<path d="M1084.30 874.04h9.40M1089.00 869.34v9.40" stroke="#47bcd4" stroke-width="2.00" fill="none"/>
<path d="M1114.05 885.12h9.40M1118.75 880.42v9.40" stroke="#47bcd4" stroke-width="2.00" fill="none"/>
<path d="M1143.81 845.46h9.40M1148.51 840.76v9.40" stroke="#47bcd4" stroke-width="2.00" fill="none"/>
<path d="M1173.57 625.02h9.40M1178.27 620.32v9.40" stroke="#47bcd4" stroke-width="2.00" fill="none"/>
<path d="M1203.33 593.23h9.40M1208.03 588.53v9.40" stroke="#47bcd4" stroke-width="2.00" fill="none"/>
<path d="M1233.09 811.88h9.40M1237.79 807.18v9.40" stroke="#47bcd4" stroke-width="2.00" fill="none"/>
<path d="M1262.85 882.62h9.40M1267.55 877.92v9.40" stroke="#47bcd4" stroke-width="2.00" fill="none"/>
<path d="M1292.60 841.89h9.40M1297.30 837.19v9.40" stroke="#47bcd4" stroke-width="2.00" fill="none"/>
<path d="M1322.36 905.13h9.40M1327.06 900.43v9.40" stroke="#47bcd4" stroke-width="2.00" fill="none"/>
<line x1="1014.60" y1="950.50" x2="1014.60" y2="943.30" stroke="#000" stroke-width="1.80"/>
<line x1="1014.60" y1="557.50" x2="1014.60" y2="564.70" stroke="#000" stroke-width="1.80"/>
<line x1="1054.28" y1="950.50" x2="1054.28" y2="947.00" stroke="#000" stroke-width="1.80"/>
<line x1="1054.28" y1="557.50" x2="1054.28" y2="561.00" stroke="#000" stroke-width="1.80"/>
<line x1="1093.96" y1="950.50" x2="1093.96" y2="947.00" stroke="#000" stroke-width="1.80"/>
<line x1="1093.96" y1="557.50" x2="1093.96" y2="561.00" stroke="#000" stroke-width="1.80"/>
<line x1="1133.63" y1="950.50" x2="1133.63" y2="943.30" stroke="#000" stroke-width="1.80"/>
<line x1="1133.63" y1="557.50" x2="1133.63" y2="564.70" stroke="#000" stroke-width="1.80"/>
<line x1="1173.31" y1="950.50" x2="1173.31" y2="947.00" stroke="#000" stroke-width="1.80"/>
<line x1="1173.31" y1="557.50" x2="1173.31" y2="561.00" stroke="#000" stroke-width="1.80"/>
<line x1="1212.99" y1="950.50" x2="1212.99" y2="947.00" stroke="#000" stroke-width="1.80"/>
<line x1="1212.99" y1="557.50" x2="1212.99" y2="561.00" stroke="#000" stroke-width="1.80"/>
<line x1="1252.67" y1="950.50" x2="1252.67" y2="943.30" stroke="#000" stroke-width="1.80"/>
<line x1="1252.67" y1="557.50" x2="1252.67" y2="564.70" stroke="#000" stroke-width="1.80"/>
<line x1="1292.34" y1="950.50" x2="1292.34" y2="947.00" stroke="#000" stroke-width="1.80"/>
<line x1="1292.34" y1="557.50" x2="1292.34" y2="561.00" stroke="#000" stroke-width="1.80"/>
<line x1="1332.02" y1="950.50" x2="1332.02" y2="947.00" stroke="#000" stroke-width="1.80"/>
<line x1="1332.02" y1="557.50" x2="1332.02" y2="561.00" stroke="#000" stroke-width="1.80"/>
<line x1="1371.70" y1="950.50" x2="1371.70" y2="943.30" stroke="#000" stroke-width="1.80"/>
<line x1="1371.70" y1="557.50" x2="1371.70" y2="564.70" stroke="#000" stroke-width="1.80"/>
<line x1="1014.60" y1="950.50" x2="1021.80" y2="950.50" stroke="#000" stroke-width="1.80"/>
<line x1="1371.70" y1="950.50" x2="1364.50" y2="950.50" stroke="#000" stroke-width="1.80"/>
<line x1="1014.60" y1="932.64" x2="1018.10" y2="932.64" stroke="#000" stroke-width="1.80"/>
<line x1="1371.70" y1="932.64" x2="1368.20" y2="932.64" stroke="#000" stroke-width="1.80"/>
<line x1="1014.60" y1="914.77" x2="1018.10" y2="914.77" stroke="#000" stroke-width="1.80"/>
<line x1="1371.70" y1="914.77" x2="1368.20" y2="914.77" stroke="#000" stroke-width="1.80"/>
<line x1="1014.60" y1="896.91" x2="1018.10" y2="896.91" stroke="#000" stroke-width="1.80"/>
<line x1="1371.70" y1="896.91" x2="1368.20" y2="896.91" stroke="#000" stroke-width="1.80"/>
<line x1="1014.60" y1="879.05" x2="1021.80" y2="879.05" stroke="#000" stroke-width="1.80"/>
<line x1="1371.70" y1="879.05" x2="1364.50" y2="879.05" stroke="#000" stroke-width="1.80"/>
<line x1="1014.60" y1="861.18" x2="1018.10" y2="861.18" stroke="#000" stroke-width="1.80"/>
<line x1="1371.70" y1="861.18" x2="1368.20" y2="861.18" stroke="#000" stroke-width="1.80"/>
<line x1="1014.60" y1="843.32" x2="1018.10" y2="843.32" stroke="#000" stroke-width="1.80"/>
<line x1="1371.70" y1="843.32" x2="1368.20" y2="843.32" stroke="#000" stroke-width="1.80"/>
<line x1="1014.60" y1="825.45" x2="1018.10" y2="825.45" stroke="#000" stroke-width="1.80"/>
<line x1="1371.70" y1="825.45" x2="1368.20" y2="825.45" stroke="#000" stroke-width="1.80"/>
<line x1="1014.60" y1="807.59" x2="1021.80" y2="807.59" stroke="#000" stroke-width="1.80"/>
<line x1="1371.70" y1="807.59" x2="1364.50" y2="807.59" stroke="#000" stroke-width="1.80"/>
<line x1="1014.60" y1="789.73" x2="1018.10" y2="789.73" stroke="#000" stroke-width="1.80"/>
<line x1="1371.70" y1="789.73" x2="1368.20" y2="789.73" stroke="#000" stroke-width="1.80"/>
<line x1="1014.60" y1="771.86" x2="1018.10" y2="771.86" stroke="#000" stroke-width="1.80"/>
<line x1="1371.70" y1="771.86" x2="1368.20" y2="771.86" stroke="#000" stroke-width="1.80"/>
<line x1="1014.60" y1="754.00" x2="1018.10" y2="754.00" stroke="#000" stroke-width="1.80"/>
<line x1="1371.70" y1="754.00" x2="1368.20" y2="754.00" stroke="#000" stroke-width="1.80"/>
<line x1="1014.60" y1="736.14" x2="1021.80" y2="736.14" stroke="#000" stroke-width="1.80"/>
<line x1="1371.70" y1="736.14" x2="1364.50" y2="736.14" stroke="#000" stroke-width="1.80"/>
<line x1="1014.60" y1="718.27" x2="1018.10" y2="718.27" stroke="#000" stroke-width="1.80"/>
<line x1="1371.70" y1="718.27" x2="1368.20" y2="718.27" stroke="#000" stroke-width="1.80"/>
<line x1="1014.60" y1="700.41" x2="1018.10" y2="700.41" stroke="#000" stroke-width="1.80"/>
<line x1="1371.70" y1="700.41" x2="1368.20" y2="700.41" stroke="#000" stroke-width="1.80"/>
<line x1="1014.60" y1="682.55" x2="1018.10" y2="682.55" stroke="#000" stroke-width="1.80"/>
<line x1="1371.70" y1="682.55" x2="1368.20" y2="682.55" stroke="#000" stroke-width="1.80"/>
<line x1="1014.60" y1="664.68" x2="1021.80" y2="664.68" stroke="#000" stroke-width="1.80"/>
<line x1="1371.70" y1="664.68" x2="1364.50" y2="664.68" stroke="#000" stroke-width="1.80"/>
<line x1="1014.60" y1="646.82" x2="1018.10" y2="646.82" stroke="#000" stroke-width="1.80"/>
<line x1="1371.70" y1="646.82" x2="1368.20" y2="646.82" stroke="#000" stroke-width="1.80"/>
<line x1="1014.60" y1="628.95" x2="1018.10" y2="628.95" stroke="#000" stroke-width="1.80"/>
<line x1="1371.70" y1="628.95" x2="1368.20" y2="628.95" stroke="#000" stroke-width="1.80"/>
<line x1="1014.60" y1="611.09" x2="1018.10" y2="611.09" stroke="#000" stroke-width="1.80"/>
<line x1="1371.70" y1="611.09" x2="1368.20" y2="611.09" stroke="#000" stroke-width="1.80"/>
<line x1="1014.60" y1="593.23" x2="1021.80" y2="593.23" stroke="#000" stroke-width="1.80"/>
<line x1="1371.70" y1="593.23" x2="1364.50" y2="593.23" stroke="#000" stroke-width="1.80"/>
<line x1="1014.60" y1="575.36" x2="1018.10" y2="575.36" stroke="#000" stroke-width="1.80"/>
<line x1="1371.70" y1="575.36" x2="1368.20" y2="575.36" stroke="#000" stroke-width="1.80"/>
<line x1="1014.60" y1="557.50" x2="1018.10" y2="557.50" stroke="#000" stroke-width="1.80"/>
<line x1="1371.70" y1="557.50" x2="1368.20" y2="557.50" stroke="#000" stroke-width="1.80"/>
<rect x="1014.60" y="557.50" width="357.10" height="393.00" fill="none" stroke="#000" stroke-width="2.3"/>
<text x="1009.81" y="542.20" font-size="38.20" text-anchor="start" fill="#231f20" textLength="365.75" lengthAdjust="spacing">(h) 20:11:11-20:11:15</text>
<text x="949.38" y="950.72" font-size="39.50" text-anchor="start" fill="#231f20">0.0</text>
<text x="949.77" y="890.37" font-size="39.50" text-anchor="start" fill="#231f20">0.2</text>
<text x="948.98" y="818.91" font-size="39.50" text-anchor="start" fill="#231f20">0.4</text>
<text x="949.57" y="747.46" font-size="39.50" text-anchor="start" fill="#231f20">0.6</text>
<text x="949.38" y="676.00" font-size="39.50" text-anchor="start" fill="#231f20">0.8</text>
<text x="949.38" y="604.55" font-size="39.50" text-anchor="start" fill="#231f20">1.0</text>
<text x="1005.42" y="988.30" font-size="36.70" text-anchor="start" fill="#231f20">0</text>
<text x="1116.38" y="988.30" font-size="36.70" text-anchor="start" fill="#231f20">60</text>
<text x="1226.97" y="988.30" font-size="36.70" text-anchor="start" fill="#231f20">120</text>
<text x="1346.51" y="988.30" font-size="36.70" text-anchor="start" fill="#231f20">180</text>
<text x="1093.51" y="1023.20" font-size="37.10" text-anchor="start" fill="#231f20">Pitch Angle [°]</text>
<line x1="1193.15" y1="950.50" x2="1193.15" y2="557.50" stroke="#1a1a1a" stroke-width="1.60" stroke-dasharray="3.6 8.4" stroke-dashoffset="11.1"/>
<clipPath id="clipc"><rect x="118.60" y="1163.00" width="357.10" height="392.50"/></clipPath>
<g clip-path="url(#clipc)">
<polyline points="119.87,1312.75 134.95,1284.77 147.42,1277.76 157.75,1287.93 170.22,1282.84 183.84,1275.91 195.46,1278.46 206.62,1270.13 217.91,1276.53 229.50,1268.28 242.05,1259.95 254.61,1248.55 266.96,1234.61 278.44,1226.98 290.00,1230.75 302.32,1243.46 314.74,1249.78 326.71,1264.86 338.45,1278.46 350.30,1275.91 362.37,1285.38 374.02,1314.06 385.50,1327.92 397.67,1371.77 410.03,1367.91 421.61,1435.18 433.41,1440.70" fill="none" stroke="#3a5aa8" stroke-width="2.0" stroke-linejoin="round"/>
<path d="M115.12 1312.75h9.50M119.87 1308.00v9.50" stroke="#3a5aa8" stroke-width="2.10" fill="none"/>
<path d="M130.20 1284.77h9.50M134.95 1280.02v9.50" stroke="#3a5aa8" stroke-width="2.10" fill="none"/>
<path d="M142.67 1277.76h9.50M147.42 1273.01v9.50" stroke="#3a5aa8" stroke-width="2.10" fill="none"/>
<path d="M153.00 1287.93h9.50M157.75 1283.18v9.50" stroke="#3a5aa8" stroke-width="2.10" fill="none"/>
<path d="M165.47 1282.84h9.50M170.22 1278.09v9.50" stroke="#3a5aa8" stroke-width="2.10" fill="none"/>
<path d="M179.09 1275.91h9.50M183.84 1271.16v9.50" stroke="#3a5aa8" stroke-width="2.10" fill="none"/>
<path d="M190.71 1278.46h9.50M195.46 1273.71v9.50" stroke="#3a5aa8" stroke-width="2.10" fill="none"/>
<path d="M201.87 1270.13h9.50M206.62 1265.38v9.50" stroke="#3a5aa8" stroke-width="2.10" fill="none"/>
<path d="M213.16 1276.53h9.50M217.91 1271.78v9.50" stroke="#3a5aa8" stroke-width="2.10" fill="none"/>
<path d="M224.75 1268.28h9.50M229.50 1263.53v9.50" stroke="#3a5aa8" stroke-width="2.10" fill="none"/>
<path d="M237.30 1259.95h9.50M242.05 1255.20v9.50" stroke="#3a5aa8" stroke-width="2.10" fill="none"/>
<path d="M249.86 1248.55h9.50M254.61 1243.80v9.50" stroke="#3a5aa8" stroke-width="2.10" fill="none"/>
<path d="M262.21 1234.61h9.50M266.96 1229.86v9.50" stroke="#3a5aa8" stroke-width="2.10" fill="none"/>
<path d="M273.69 1226.98h9.50M278.44 1222.23v9.50" stroke="#3a5aa8" stroke-width="2.10" fill="none"/>
<path d="M285.25 1230.75h9.50M290.00 1226.00v9.50" stroke="#3a5aa8" stroke-width="2.10" fill="none"/>
<path d="M297.57 1243.46h9.50M302.32 1238.71v9.50" stroke="#3a5aa8" stroke-width="2.10" fill="none"/>
<path d="M309.99 1249.78h9.50M314.74 1245.03v9.50" stroke="#3a5aa8" stroke-width="2.10" fill="none"/>
<path d="M321.96 1264.86h9.50M326.71 1260.11v9.50" stroke="#3a5aa8" stroke-width="2.10" fill="none"/>
<path d="M333.70 1278.46h9.50M338.45 1273.71v9.50" stroke="#3a5aa8" stroke-width="2.10" fill="none"/>
<path d="M345.55 1275.91h9.50M350.30 1271.16v9.50" stroke="#3a5aa8" stroke-width="2.10" fill="none"/>
<path d="M357.62 1285.38h9.50M362.37 1280.63v9.50" stroke="#3a5aa8" stroke-width="2.10" fill="none"/>
<path d="M369.27 1314.06h9.50M374.02 1309.31v9.50" stroke="#3a5aa8" stroke-width="2.10" fill="none"/>
<path d="M380.75 1327.92h9.50M385.50 1323.17v9.50" stroke="#3a5aa8" stroke-width="2.10" fill="none"/>
<path d="M392.92 1371.77h9.50M397.67 1367.02v9.50" stroke="#3a5aa8" stroke-width="2.10" fill="none"/>
<path d="M405.28 1367.91h9.50M410.03 1363.16v9.50" stroke="#3a5aa8" stroke-width="2.10" fill="none"/>
<path d="M416.86 1435.18h9.50M421.61 1430.43v9.50" stroke="#3a5aa8" stroke-width="2.10" fill="none"/>
<path d="M428.66 1440.70h9.50M433.41 1435.95v9.50" stroke="#3a5aa8" stroke-width="2.10" fill="none"/>
<polyline points="457.89,1416.15 470.28,1491.30" fill="none" stroke="#3a5aa8" stroke-width="2.0" stroke-linejoin="round"/>
<path d="M453.14 1416.15h9.50M457.89 1411.40v9.50" stroke="#3a5aa8" stroke-width="2.10" fill="none"/>
<path d="M465.53 1491.30h9.50M470.28 1486.55v9.50" stroke="#3a5aa8" stroke-width="2.10" fill="none"/>
<polyline points="119.87,1319.76 134.95,1299.42 147.42,1285.38 157.75,1279.68 170.22,1269.51 183.84,1267.58 195.46,1253.64 206.62,1260.65 217.91,1258.11 229.50,1249.78 242.05,1240.31 254.61,1238.38 266.96,1224.43 278.44,1220.57 290.00,1217.42 302.32,1213.56 314.74,1221.19 326.71,1230.48 338.45,1242.24 350.30,1251.71 362.37,1276.88 374.02,1281.88 385.50,1304.50 397.67,1340.99 410.03,1348.53 421.61,1381.33 433.41,1390.27 445.69,1422.46 457.89,1473.59 470.28,1456.49" fill="none" stroke="#5db551" stroke-width="2.0" stroke-linejoin="round"/>
<path d="M115.12 1319.76h9.50M119.87 1315.01v9.50" stroke="#5db551" stroke-width="2.10" fill="none"/>
<path d="M130.20 1299.42h9.50M134.95 1294.67v9.50" stroke="#5db551" stroke-width="2.10" fill="none"/>
<path d="M142.67 1285.38h9.50M147.42 1280.63v9.50" stroke="#5db551" stroke-width="2.10" fill="none"/>
<path d="M153.00 1279.68h9.50M157.75 1274.93v9.50" stroke="#5db551" stroke-width="2.10" fill="none"/>
<path d="M165.47 1269.51h9.50M170.22 1264.76v9.50" stroke="#5db551" stroke-width="2.10" fill="none"/>
<path d="M179.09 1267.58h9.50M183.84 1262.83v9.50" stroke="#5db551" stroke-width="2.10" fill="none"/>
<path d="M190.71 1253.64h9.50M195.46 1248.89v9.50" stroke="#5db551" stroke-width="2.10" fill="none"/>
<path d="M201.87 1260.65h9.50M206.62 1255.90v9.50" stroke="#5db551" stroke-width="2.10" fill="none"/>
<path d="M213.16 1258.11h9.50M217.91 1253.36v9.50" stroke="#5db551" stroke-width="2.10" fill="none"/>
<path d="M224.75 1249.78h9.50M229.50 1245.03v9.50" stroke="#5db551" stroke-width="2.10" fill="none"/>
<path d="M237.30 1240.31h9.50M242.05 1235.56v9.50" stroke="#5db551" stroke-width="2.10" fill="none"/>
<path d="M249.86 1238.38h9.50M254.61 1233.63v9.50" stroke="#5db551" stroke-width="2.10" fill="none"/>
<path d="M262.21 1224.43h9.50M266.96 1219.68v9.50" stroke="#5db551" stroke-width="2.10" fill="none"/>
<path d="M273.69 1220.57h9.50M278.44 1215.82v9.50" stroke="#5db551" stroke-width="2.10" fill="none"/>
<path d="M285.25 1217.42h9.50M290.00 1212.67v9.50" stroke="#5db551" stroke-width="2.10" fill="none"/>
<path d="M297.57 1213.56h9.50M302.32 1208.81v9.50" stroke="#5db551" stroke-width="2.10" fill="none"/>
<path d="M309.99 1221.19h9.50M314.74 1216.44v9.50" stroke="#5db551" stroke-width="2.10" fill="none"/>
<path d="M321.96 1230.48h9.50M326.71 1225.73v9.50" stroke="#5db551" stroke-width="2.10" fill="none"/>
<path d="M333.70 1242.24h9.50M338.45 1237.49v9.50" stroke="#5db551" stroke-width="2.10" fill="none"/>
<path d="M345.55 1251.71h9.50M350.30 1246.96v9.50" stroke="#5db551" stroke-width="2.10" fill="none"/>
<path d="M357.62 1276.88h9.50M362.37 1272.13v9.50" stroke="#5db551" stroke-width="2.10" fill="none"/>
<path d="M369.27 1281.88h9.50M374.02 1277.13v9.50" stroke="#5db551" stroke-width="2.10" fill="none"/>
<path d="M380.75 1304.50h9.50M385.50 1299.75v9.50" stroke="#5db551" stroke-width="2.10" fill="none"/>
<path d="M392.92 1340.99h9.50M397.67 1336.24v9.50" stroke="#5db551" stroke-width="2.10" fill="none"/>
<path d="M405.28 1348.53h9.50M410.03 1343.78v9.50" stroke="#5db551" stroke-width="2.10" fill="none"/>
<path d="M416.86 1381.33h9.50M421.61 1376.58v9.50" stroke="#5db551" stroke-width="2.10" fill="none"/>
<path d="M428.66 1390.27h9.50M433.41 1385.52v9.50" stroke="#5db551" stroke-width="2.10" fill="none"/>
<path d="M440.94 1422.46h9.50M445.69 1417.71v9.50" stroke="#5db551" stroke-width="2.10" fill="none"/>
<path d="M453.14 1473.59h9.50M457.89 1468.84v9.50" stroke="#5db551" stroke-width="2.10" fill="none"/>
<path d="M465.53 1456.49h9.50M470.28 1451.74v9.50" stroke="#5db551" stroke-width="2.10" fill="none"/>
<polyline points="119.87,1291.17 134.95,1290.47 147.42,1276.53 157.75,1270.13 170.22,1263.81 183.84,1274.60 195.46,1265.74 206.62,1274.60 217.91,1268.28 229.50,1258.72 242.05,1255.57 254.61,1248.55 266.96,1237.76 278.44,1237.76 290.00,1232.68 302.32,1239.78 314.74,1259.78 326.71,1274.95 338.45,1292.40 350.30,1303.63 362.37,1300.03 374.02,1342.21 385.50,1336.51 397.67,1398.69 410.03,1421.32 421.61,1460.00 433.41,1460.00 445.69,1453.42 457.89,1445.44 470.28,1497.36" fill="none" stroke="#e3242f" stroke-width="2.0" stroke-linejoin="round"/>
<path d="M115.12 1291.17h9.50M119.87 1286.42v9.50" stroke="#e3242f" stroke-width="2.10" fill="none"/>
<path d="M130.20 1290.47h9.50M134.95 1285.72v9.50" stroke="#e3242f" stroke-width="2.10" fill="none"/>
<path d="M142.67 1276.53h9.50M147.42 1271.78v9.50" stroke="#e3242f" stroke-width="2.10" fill="none"/>
<path d="M153.00 1270.13h9.50M157.75 1265.38v9.50" stroke="#e3242f" stroke-width="2.10" fill="none"/>
<path d="M165.47 1263.81h9.50M170.22 1259.06v9.50" stroke="#e3242f" stroke-width="2.10" fill="none"/>
<path d="M179.09 1274.60h9.50M183.84 1269.85v9.50" stroke="#e3242f" stroke-width="2.10" fill="none"/>
<path d="M190.71 1265.74h9.50M195.46 1260.99v9.50" stroke="#e3242f" stroke-width="2.10" fill="none"/>
<path d="M201.87 1274.60h9.50M206.62 1269.85v9.50" stroke="#e3242f" stroke-width="2.10" fill="none"/>
<path d="M213.16 1268.28h9.50M217.91 1263.53v9.50" stroke="#e3242f" stroke-width="2.10" fill="none"/>
<path d="M224.75 1258.72h9.50M229.50 1253.97v9.50" stroke="#e3242f" stroke-width="2.10" fill="none"/>
<path d="M237.30 1255.57h9.50M242.05 1250.82v9.50" stroke="#e3242f" stroke-width="2.10" fill="none"/>
<path d="M249.86 1248.55h9.50M254.61 1243.80v9.50" stroke="#e3242f" stroke-width="2.10" fill="none"/>
<path d="M262.21 1237.76h9.50M266.96 1233.01v9.50" stroke="#e3242f" stroke-width="2.10" fill="none"/>
<path d="M273.69 1237.76h9.50M278.44 1233.01v9.50" stroke="#e3242f" stroke-width="2.10" fill="none"/>
<path d="M285.25 1232.68h9.50M290.00 1227.93v9.50" stroke="#e3242f" stroke-width="2.10" fill="none"/>
<path d="M297.57 1239.78h9.50M302.32 1235.03v9.50" stroke="#e3242f" stroke-width="2.10" fill="none"/>
<path d="M309.99 1259.78h9.50M314.74 1255.03v9.50" stroke="#e3242f" stroke-width="2.10" fill="none"/>
<path d="M321.96 1274.95h9.50M326.71 1270.20v9.50" stroke="#e3242f" stroke-width="2.10" fill="none"/>
<path d="M333.70 1292.40h9.50M338.45 1287.65v9.50" stroke="#e3242f" stroke-width="2.10" fill="none"/>
<path d="M345.55 1303.63h9.50M350.30 1298.88v9.50" stroke="#e3242f" stroke-width="2.10" fill="none"/>
<path d="M357.62 1300.03h9.50M362.37 1295.28v9.50" stroke="#e3242f" stroke-width="2.10" fill="none"/>
<path d="M369.27 1342.21h9.50M374.02 1337.46v9.50" stroke="#e3242f" stroke-width="2.10" fill="none"/>
<path d="M380.75 1336.51h9.50M385.50 1331.76v9.50" stroke="#e3242f" stroke-width="2.10" fill="none"/>
<path d="M392.92 1398.69h9.50M397.67 1393.94v9.50" stroke="#e3242f" stroke-width="2.10" fill="none"/>
<path d="M405.28 1421.32h9.50M410.03 1416.57v9.50" stroke="#e3242f" stroke-width="2.10" fill="none"/>
<path d="M416.86 1460.00h9.50M421.61 1455.25v9.50" stroke="#e3242f" stroke-width="2.10" fill="none"/>
<path d="M428.66 1460.00h9.50M433.41 1455.25v9.50" stroke="#e3242f" stroke-width="2.10" fill="none"/>
<path d="M440.94 1453.42h9.50M445.69 1448.67v9.50" stroke="#e3242f" stroke-width="2.10" fill="none"/>
<path d="M453.14 1445.44h9.50M457.89 1440.69v9.50" stroke="#e3242f" stroke-width="2.10" fill="none"/>
<path d="M465.53 1497.36h9.50M470.28 1492.61v9.50" stroke="#e3242f" stroke-width="2.10" fill="none"/>
</g>
<line x1="134.40" y1="1555.50" x2="134.40" y2="1552.00" stroke="#000" stroke-width="1.80"/>
<line x1="134.40" y1="1163.00" x2="134.40" y2="1166.50" stroke="#000" stroke-width="1.80"/>
<line x1="146.65" y1="1555.50" x2="146.65" y2="1552.00" stroke="#000" stroke-width="1.80"/>
<line x1="146.65" y1="1163.00" x2="146.65" y2="1166.50" stroke="#000" stroke-width="1.80"/>
<line x1="156.67" y1="1555.50" x2="156.67" y2="1552.00" stroke="#000" stroke-width="1.80"/>
<line x1="156.67" y1="1163.00" x2="156.67" y2="1166.50" stroke="#000" stroke-width="1.80"/>
<line x1="165.13" y1="1555.50" x2="165.13" y2="1552.00" stroke="#000" stroke-width="1.80"/>
<line x1="165.13" y1="1163.00" x2="165.13" y2="1166.50" stroke="#000" stroke-width="1.80"/>
<line x1="172.47" y1="1555.50" x2="172.47" y2="1552.00" stroke="#000" stroke-width="1.80"/>
<line x1="172.47" y1="1163.00" x2="172.47" y2="1166.50" stroke="#000" stroke-width="1.80"/>
<line x1="178.93" y1="1555.50" x2="178.93" y2="1552.00" stroke="#000" stroke-width="1.80"/>
<line x1="178.93" y1="1163.00" x2="178.93" y2="1166.50" stroke="#000" stroke-width="1.80"/>
<line x1="184.72" y1="1555.50" x2="184.72" y2="1548.30" stroke="#000" stroke-width="1.80"/>
<line x1="184.72" y1="1163.00" x2="184.72" y2="1170.20" stroke="#000" stroke-width="1.80"/>
<line x1="222.79" y1="1555.50" x2="222.79" y2="1552.00" stroke="#000" stroke-width="1.80"/>
<line x1="222.79" y1="1163.00" x2="222.79" y2="1166.50" stroke="#000" stroke-width="1.80"/>
<line x1="245.06" y1="1555.50" x2="245.06" y2="1552.00" stroke="#000" stroke-width="1.80"/>
<line x1="245.06" y1="1163.00" x2="245.06" y2="1166.50" stroke="#000" stroke-width="1.80"/>
<line x1="260.86" y1="1555.50" x2="260.86" y2="1552.00" stroke="#000" stroke-width="1.80"/>
<line x1="260.86" y1="1163.00" x2="260.86" y2="1166.50" stroke="#000" stroke-width="1.80"/>
<line x1="273.11" y1="1555.50" x2="273.11" y2="1552.00" stroke="#000" stroke-width="1.80"/>
<line x1="273.11" y1="1163.00" x2="273.11" y2="1166.50" stroke="#000" stroke-width="1.80"/>
<line x1="283.12" y1="1555.50" x2="283.12" y2="1552.00" stroke="#000" stroke-width="1.80"/>
<line x1="283.12" y1="1163.00" x2="283.12" y2="1166.50" stroke="#000" stroke-width="1.80"/>
<line x1="291.59" y1="1555.50" x2="291.59" y2="1552.00" stroke="#000" stroke-width="1.80"/>
<line x1="291.59" y1="1163.00" x2="291.59" y2="1166.50" stroke="#000" stroke-width="1.80"/>
<line x1="298.92" y1="1555.50" x2="298.92" y2="1552.00" stroke="#000" stroke-width="1.80"/>
<line x1="298.92" y1="1163.00" x2="298.92" y2="1166.50" stroke="#000" stroke-width="1.80"/>
<line x1="305.39" y1="1555.50" x2="305.39" y2="1552.00" stroke="#000" stroke-width="1.80"/>
<line x1="305.39" y1="1163.00" x2="305.39" y2="1166.50" stroke="#000" stroke-width="1.80"/>
<line x1="311.18" y1="1555.50" x2="311.18" y2="1548.30" stroke="#000" stroke-width="1.80"/>
<line x1="311.18" y1="1163.00" x2="311.18" y2="1170.20" stroke="#000" stroke-width="1.80"/>
<line x1="349.24" y1="1555.50" x2="349.24" y2="1552.00" stroke="#000" stroke-width="1.80"/>
<line x1="349.24" y1="1163.00" x2="349.24" y2="1166.50" stroke="#000" stroke-width="1.80"/>
<line x1="371.51" y1="1555.50" x2="371.51" y2="1552.00" stroke="#000" stroke-width="1.80"/>
<line x1="371.51" y1="1163.00" x2="371.51" y2="1166.50" stroke="#000" stroke-width="1.80"/>
<line x1="387.31" y1="1555.50" x2="387.31" y2="1552.00" stroke="#000" stroke-width="1.80"/>
<line x1="387.31" y1="1163.00" x2="387.31" y2="1166.50" stroke="#000" stroke-width="1.80"/>
<line x1="399.57" y1="1555.50" x2="399.57" y2="1552.00" stroke="#000" stroke-width="1.80"/>
<line x1="399.57" y1="1163.00" x2="399.57" y2="1166.50" stroke="#000" stroke-width="1.80"/>
<line x1="409.58" y1="1555.50" x2="409.58" y2="1552.00" stroke="#000" stroke-width="1.80"/>
<line x1="409.58" y1="1163.00" x2="409.58" y2="1166.50" stroke="#000" stroke-width="1.80"/>
<line x1="418.04" y1="1555.50" x2="418.04" y2="1552.00" stroke="#000" stroke-width="1.80"/>
<line x1="418.04" y1="1163.00" x2="418.04" y2="1166.50" stroke="#000" stroke-width="1.80"/>
<line x1="425.38" y1="1555.50" x2="425.38" y2="1552.00" stroke="#000" stroke-width="1.80"/>
<line x1="425.38" y1="1163.00" x2="425.38" y2="1166.50" stroke="#000" stroke-width="1.80"/>
<line x1="431.85" y1="1555.50" x2="431.85" y2="1552.00" stroke="#000" stroke-width="1.80"/>
<line x1="431.85" y1="1163.00" x2="431.85" y2="1166.50" stroke="#000" stroke-width="1.80"/>
<line x1="437.63" y1="1555.50" x2="437.63" y2="1548.30" stroke="#000" stroke-width="1.80"/>
<line x1="437.63" y1="1163.00" x2="437.63" y2="1170.20" stroke="#000" stroke-width="1.80"/>
<line x1="118.60" y1="1529.10" x2="122.10" y2="1529.10" stroke="#000" stroke-width="1.80"/>
<line x1="475.70" y1="1529.10" x2="472.20" y2="1529.10" stroke="#000" stroke-width="1.80"/>
<line x1="118.60" y1="1513.66" x2="122.10" y2="1513.66" stroke="#000" stroke-width="1.80"/>
<line x1="475.70" y1="1513.66" x2="472.20" y2="1513.66" stroke="#000" stroke-width="1.80"/>
<line x1="118.60" y1="1502.70" x2="122.10" y2="1502.70" stroke="#000" stroke-width="1.80"/>
<line x1="475.70" y1="1502.70" x2="472.20" y2="1502.70" stroke="#000" stroke-width="1.80"/>
<line x1="118.60" y1="1494.20" x2="122.10" y2="1494.20" stroke="#000" stroke-width="1.80"/>
<line x1="475.70" y1="1494.20" x2="472.20" y2="1494.20" stroke="#000" stroke-width="1.80"/>
<line x1="118.60" y1="1487.26" x2="122.10" y2="1487.26" stroke="#000" stroke-width="1.80"/>
<line x1="475.70" y1="1487.26" x2="472.20" y2="1487.26" stroke="#000" stroke-width="1.80"/>
<line x1="118.60" y1="1481.39" x2="122.10" y2="1481.39" stroke="#000" stroke-width="1.80"/>
<line x1="475.70" y1="1481.39" x2="472.20" y2="1481.39" stroke="#000" stroke-width="1.80"/>
<line x1="118.60" y1="1476.30" x2="122.10" y2="1476.30" stroke="#000" stroke-width="1.80"/>
<line x1="475.70" y1="1476.30" x2="472.20" y2="1476.30" stroke="#000" stroke-width="1.80"/>
<line x1="118.60" y1="1471.81" x2="122.10" y2="1471.81" stroke="#000" stroke-width="1.80"/>
<line x1="475.70" y1="1471.81" x2="472.20" y2="1471.81" stroke="#000" stroke-width="1.80"/>
<line x1="118.60" y1="1467.80" x2="125.80" y2="1467.80" stroke="#000" stroke-width="1.80"/>
<line x1="475.70" y1="1467.80" x2="468.50" y2="1467.80" stroke="#000" stroke-width="1.80"/>
<line x1="118.60" y1="1441.40" x2="122.10" y2="1441.40" stroke="#000" stroke-width="1.80"/>
<line x1="475.70" y1="1441.40" x2="472.20" y2="1441.40" stroke="#000" stroke-width="1.80"/>
<line x1="118.60" y1="1425.96" x2="122.10" y2="1425.96" stroke="#000" stroke-width="1.80"/>
<line x1="475.70" y1="1425.96" x2="472.20" y2="1425.96" stroke="#000" stroke-width="1.80"/>
<line x1="118.60" y1="1415.00" x2="122.10" y2="1415.00" stroke="#000" stroke-width="1.80"/>
<line x1="475.70" y1="1415.00" x2="472.20" y2="1415.00" stroke="#000" stroke-width="1.80"/>
<line x1="118.60" y1="1406.50" x2="122.10" y2="1406.50" stroke="#000" stroke-width="1.80"/>
<line x1="475.70" y1="1406.50" x2="472.20" y2="1406.50" stroke="#000" stroke-width="1.80"/>
<line x1="118.60" y1="1399.56" x2="122.10" y2="1399.56" stroke="#000" stroke-width="1.80"/>
<line x1="475.70" y1="1399.56" x2="472.20" y2="1399.56" stroke="#000" stroke-width="1.80"/>
<line x1="118.60" y1="1393.69" x2="122.10" y2="1393.69" stroke="#000" stroke-width="1.80"/>
<line x1="475.70" y1="1393.69" x2="472.20" y2="1393.69" stroke="#000" stroke-width="1.80"/>
<line x1="118.60" y1="1388.60" x2="122.10" y2="1388.60" stroke="#000" stroke-width="1.80"/>
<line x1="475.70" y1="1388.60" x2="472.20" y2="1388.60" stroke="#000" stroke-width="1.80"/>
<line x1="118.60" y1="1384.11" x2="122.10" y2="1384.11" stroke="#000" stroke-width="1.80"/>
<line x1="475.70" y1="1384.11" x2="472.20" y2="1384.11" stroke="#000" stroke-width="1.80"/>
<line x1="118.60" y1="1380.10" x2="125.80" y2="1380.10" stroke="#000" stroke-width="1.80"/>
<line x1="475.70" y1="1380.10" x2="468.50" y2="1380.10" stroke="#000" stroke-width="1.80"/>
<line x1="118.60" y1="1353.70" x2="122.10" y2="1353.70" stroke="#000" stroke-width="1.80"/>
<line x1="475.70" y1="1353.70" x2="472.20" y2="1353.70" stroke="#000" stroke-width="1.80"/>
<line x1="118.60" y1="1338.26" x2="122.10" y2="1338.26" stroke="#000" stroke-width="1.80"/>
<line x1="475.70" y1="1338.26" x2="472.20" y2="1338.26" stroke="#000" stroke-width="1.80"/>
<line x1="118.60" y1="1327.30" x2="122.10" y2="1327.30" stroke="#000" stroke-width="1.80"/>
<line x1="475.70" y1="1327.30" x2="472.20" y2="1327.30" stroke="#000" stroke-width="1.80"/>
<line x1="118.60" y1="1318.80" x2="122.10" y2="1318.80" stroke="#000" stroke-width="1.80"/>
<line x1="475.70" y1="1318.80" x2="472.20" y2="1318.80" stroke="#000" stroke-width="1.80"/>
<line x1="118.60" y1="1311.86" x2="122.10" y2="1311.86" stroke="#000" stroke-width="1.80"/>
<line x1="475.70" y1="1311.86" x2="472.20" y2="1311.86" stroke="#000" stroke-width="1.80"/>
<line x1="118.60" y1="1305.99" x2="122.10" y2="1305.99" stroke="#000" stroke-width="1.80"/>
<line x1="475.70" y1="1305.99" x2="472.20" y2="1305.99" stroke="#000" stroke-width="1.80"/>
<line x1="118.60" y1="1300.90" x2="122.10" y2="1300.90" stroke="#000" stroke-width="1.80"/>
<line x1="475.70" y1="1300.90" x2="472.20" y2="1300.90" stroke="#000" stroke-width="1.80"/>
<line x1="118.60" y1="1296.41" x2="122.10" y2="1296.41" stroke="#000" stroke-width="1.80"/>
<line x1="475.70" y1="1296.41" x2="472.20" y2="1296.41" stroke="#000" stroke-width="1.80"/>
<line x1="118.60" y1="1292.40" x2="125.80" y2="1292.40" stroke="#000" stroke-width="1.80"/>
<line x1="475.70" y1="1292.40" x2="468.50" y2="1292.40" stroke="#000" stroke-width="1.80"/>
<line x1="118.60" y1="1266.00" x2="122.10" y2="1266.00" stroke="#000" stroke-width="1.80"/>
<line x1="475.70" y1="1266.00" x2="472.20" y2="1266.00" stroke="#000" stroke-width="1.80"/>
<line x1="118.60" y1="1250.56" x2="122.10" y2="1250.56" stroke="#000" stroke-width="1.80"/>
<line x1="475.70" y1="1250.56" x2="472.20" y2="1250.56" stroke="#000" stroke-width="1.80"/>
<line x1="118.60" y1="1239.60" x2="122.10" y2="1239.60" stroke="#000" stroke-width="1.80"/>
<line x1="475.70" y1="1239.60" x2="472.20" y2="1239.60" stroke="#000" stroke-width="1.80"/>
<line x1="118.60" y1="1231.10" x2="122.10" y2="1231.10" stroke="#000" stroke-width="1.80"/>
<line x1="475.70" y1="1231.10" x2="472.20" y2="1231.10" stroke="#000" stroke-width="1.80"/>
<line x1="118.60" y1="1224.16" x2="122.10" y2="1224.16" stroke="#000" stroke-width="1.80"/>
<line x1="475.70" y1="1224.16" x2="472.20" y2="1224.16" stroke="#000" stroke-width="1.80"/>
<line x1="118.60" y1="1218.29" x2="122.10" y2="1218.29" stroke="#000" stroke-width="1.80"/>
<line x1="475.70" y1="1218.29" x2="472.20" y2="1218.29" stroke="#000" stroke-width="1.80"/>
<line x1="118.60" y1="1213.20" x2="122.10" y2="1213.20" stroke="#000" stroke-width="1.80"/>
<line x1="475.70" y1="1213.20" x2="472.20" y2="1213.20" stroke="#000" stroke-width="1.80"/>
<line x1="118.60" y1="1208.71" x2="122.10" y2="1208.71" stroke="#000" stroke-width="1.80"/>
<line x1="475.70" y1="1208.71" x2="472.20" y2="1208.71" stroke="#000" stroke-width="1.80"/>
<line x1="118.60" y1="1204.70" x2="125.80" y2="1204.70" stroke="#000" stroke-width="1.80"/>
<line x1="475.70" y1="1204.70" x2="468.50" y2="1204.70" stroke="#000" stroke-width="1.80"/>
<line x1="118.60" y1="1178.30" x2="122.10" y2="1178.30" stroke="#000" stroke-width="1.80"/>
<line x1="475.70" y1="1178.30" x2="472.20" y2="1178.30" stroke="#000" stroke-width="1.80"/>
<rect x="118.60" y="1163.00" width="357.10" height="392.50" fill="none" stroke="#000" stroke-width="2.3"/>
<text x="114.41" y="1147.50" font-size="38.20" text-anchor="start" fill="#231f20" textLength="365.59" lengthAdjust="spacing">(c) 20:10:48-20:10:52</text>
<text x="51.80" y="1553.20" font-size="38.60" text-anchor="start" fill="#231f20">10</text>
<text x="97.24" y="1538.40" font-size="30.50" text-anchor="start" fill="#231f20">4</text>
<text x="51.80" y="1478.60" font-size="38.60" text-anchor="start" fill="#231f20">10</text>
<text x="96.78" y="1463.80" font-size="30.50" text-anchor="start" fill="#231f20">5</text>
<text x="51.80" y="1390.90" font-size="38.60" text-anchor="start" fill="#231f20">10</text>
<text x="96.47" y="1376.10" font-size="30.50" text-anchor="start" fill="#231f20">6</text>
<text x="51.80" y="1303.20" font-size="38.60" text-anchor="start" fill="#231f20">10</text>
<text x="96.47" y="1288.40" font-size="30.50" text-anchor="start" fill="#231f20">7</text>
<text x="51.80" y="1215.50" font-size="38.60" text-anchor="start" fill="#231f20">10</text>
<text x="96.63" y="1200.70" font-size="30.50" text-anchor="start" fill="#231f20">8</text>
<text x="168.70" y="1594.00" font-size="35.50" text-anchor="start" fill="#231f20">10</text>
<text x="287.00" y="1594.00" font-size="35.50" text-anchor="start" fill="#231f20">100</text>
<text x="404.32" y="1594.00" font-size="35.50" text-anchor="start" fill="#231f20">1000</text>
<text x="216.56" y="1626.80" font-size="36.00" text-anchor="start" fill="#231f20">Energy (eV)</text>
<text x="46.20" y="1371.81" font-size="40.50" text-anchor="start" fill="#231f20" transform="rotate(-90 46.2 1371.81)">DEF</text>
<text x="165.70" y="1402.90" font-size="40.00" text-anchor="start" fill="#3a5aa8">PA: 0-46</text>
<text x="165.70" y="1446.50" font-size="40.00" text-anchor="start" fill="#5db551">PA: 67-113</text>
<text x="165.70" y="1490.10" font-size="40.00" text-anchor="start" fill="#e3242f">PA: 134-180</text>
<clipPath id="clipf"><rect x="569.40" y="1163.00" width="357.60" height="392.50"/></clipPath>
<g clip-path="url(#clipf)">
<polyline points="570.67,1329.23 585.77,1325.90 598.26,1312.05 608.61,1315.20 621.10,1304.42 634.73,1299.33 646.37,1288.63 657.54,1281.00 668.85,1282.23 680.46,1271.44 693.02,1272.67 705.60,1272.05 717.96,1272.05 729.47,1273.98 741.04,1289.95 753.37,1280.04 765.81,1299.24 777.81,1292.49 789.55,1288.72 801.43,1307.75 813.51,1326.78 825.17,1336.25 836.67,1367.30 848.86,1339.50 861.24,1417.37 872.84,1421.49 884.65,1448.16 896.95,1352.91" fill="none" stroke="#3a5aa8" stroke-width="2.0" stroke-linejoin="round"/>
<path d="M565.92 1329.23h9.50M570.67 1324.48v9.50" stroke="#3a5aa8" stroke-width="2.10" fill="none"/>
<path d="M581.02 1325.90h9.50M585.77 1321.15v9.50" stroke="#3a5aa8" stroke-width="2.10" fill="none"/>
<path d="M593.51 1312.05h9.50M598.26 1307.30v9.50" stroke="#3a5aa8" stroke-width="2.10" fill="none"/>
<path d="M603.86 1315.20h9.50M608.61 1310.45v9.50" stroke="#3a5aa8" stroke-width="2.10" fill="none"/>
<path d="M616.35 1304.42h9.50M621.10 1299.67v9.50" stroke="#3a5aa8" stroke-width="2.10" fill="none"/>
<path d="M629.98 1299.33h9.50M634.73 1294.58v9.50" stroke="#3a5aa8" stroke-width="2.10" fill="none"/>
<path d="M641.62 1288.63h9.50M646.37 1283.88v9.50" stroke="#3a5aa8" stroke-width="2.10" fill="none"/>
<path d="M652.79 1281.00h9.50M657.54 1276.25v9.50" stroke="#3a5aa8" stroke-width="2.10" fill="none"/>
<path d="M664.10 1282.23h9.50M668.85 1277.48v9.50" stroke="#3a5aa8" stroke-width="2.10" fill="none"/>
<path d="M675.71 1271.44h9.50M680.46 1266.69v9.50" stroke="#3a5aa8" stroke-width="2.10" fill="none"/>
<path d="M688.27 1272.67h9.50M693.02 1267.92v9.50" stroke="#3a5aa8" stroke-width="2.10" fill="none"/>
<path d="M700.85 1272.05h9.50M705.60 1267.30v9.50" stroke="#3a5aa8" stroke-width="2.10" fill="none"/>
<path d="M713.21 1272.05h9.50M717.96 1267.30v9.50" stroke="#3a5aa8" stroke-width="2.10" fill="none"/>
<path d="M724.72 1273.98h9.50M729.47 1269.23v9.50" stroke="#3a5aa8" stroke-width="2.10" fill="none"/>
<path d="M736.29 1289.95h9.50M741.04 1285.20v9.50" stroke="#3a5aa8" stroke-width="2.10" fill="none"/>
<path d="M748.62 1280.04h9.50M753.37 1275.29v9.50" stroke="#3a5aa8" stroke-width="2.10" fill="none"/>
<path d="M761.06 1299.24h9.50M765.81 1294.49v9.50" stroke="#3a5aa8" stroke-width="2.10" fill="none"/>
<path d="M773.06 1292.49h9.50M777.81 1287.74v9.50" stroke="#3a5aa8" stroke-width="2.10" fill="none"/>
<path d="M784.80 1288.72h9.50M789.55 1283.97v9.50" stroke="#3a5aa8" stroke-width="2.10" fill="none"/>
<path d="M796.68 1307.75h9.50M801.43 1303.00v9.50" stroke="#3a5aa8" stroke-width="2.10" fill="none"/>
<path d="M808.76 1326.78h9.50M813.51 1322.03v9.50" stroke="#3a5aa8" stroke-width="2.10" fill="none"/>
<path d="M820.42 1336.25h9.50M825.17 1331.50v9.50" stroke="#3a5aa8" stroke-width="2.10" fill="none"/>
<path d="M831.92 1367.30h9.50M836.67 1362.55v9.50" stroke="#3a5aa8" stroke-width="2.10" fill="none"/>
<path d="M844.11 1339.50h9.50M848.86 1334.75v9.50" stroke="#3a5aa8" stroke-width="2.10" fill="none"/>
<path d="M856.49 1417.37h9.50M861.24 1412.62v9.50" stroke="#3a5aa8" stroke-width="2.10" fill="none"/>
<path d="M868.09 1421.49h9.50M872.84 1416.74v9.50" stroke="#3a5aa8" stroke-width="2.10" fill="none"/>
<path d="M879.90 1448.16h9.50M884.65 1443.41v9.50" stroke="#3a5aa8" stroke-width="2.10" fill="none"/>
<path d="M892.20 1352.91h9.50M896.95 1348.16v9.50" stroke="#3a5aa8" stroke-width="2.10" fill="none"/>
<path d="M916.82 1460.08h9.50M921.57 1455.33v9.50" stroke="#3a5aa8" stroke-width="2.10" fill="none"/>
<polyline points="570.67,1343.09 585.77,1320.90 598.26,1306.96 608.61,1308.80 621.10,1298.10 634.73,1286.00 646.37,1287.93 657.54,1269.60 668.85,1266.97 680.46,1263.20 693.02,1261.27 705.60,1255.57 717.96,1254.95 729.47,1252.41 741.04,1242.85 753.37,1247.50 765.81,1252.23 777.81,1255.04 789.55,1263.64 801.43,1270.04 813.51,1277.32 825.17,1299.50 836.67,1322.04 848.86,1341.07 861.24,1406.50 872.84,1424.39 884.65,1438.33 896.95,1430.62 909.16,1412.11 921.57,1470.61" fill="none" stroke="#5db551" stroke-width="2.0" stroke-linejoin="round"/>
<path d="M565.92 1343.09h9.50M570.67 1338.34v9.50" stroke="#5db551" stroke-width="2.10" fill="none"/>
<path d="M581.02 1320.90h9.50M585.77 1316.15v9.50" stroke="#5db551" stroke-width="2.10" fill="none"/>
<path d="M593.51 1306.96h9.50M598.26 1302.21v9.50" stroke="#5db551" stroke-width="2.10" fill="none"/>
<path d="M603.86 1308.80h9.50M608.61 1304.05v9.50" stroke="#5db551" stroke-width="2.10" fill="none"/>
<path d="M616.35 1298.10h9.50M621.10 1293.35v9.50" stroke="#5db551" stroke-width="2.10" fill="none"/>
<path d="M629.98 1286.00h9.50M634.73 1281.25v9.50" stroke="#5db551" stroke-width="2.10" fill="none"/>
<path d="M641.62 1287.93h9.50M646.37 1283.18v9.50" stroke="#5db551" stroke-width="2.10" fill="none"/>
<path d="M652.79 1269.60h9.50M657.54 1264.85v9.50" stroke="#5db551" stroke-width="2.10" fill="none"/>
<path d="M664.10 1266.97h9.50M668.85 1262.22v9.50" stroke="#5db551" stroke-width="2.10" fill="none"/>
<path d="M675.71 1263.20h9.50M680.46 1258.45v9.50" stroke="#5db551" stroke-width="2.10" fill="none"/>
<path d="M688.27 1261.27h9.50M693.02 1256.52v9.50" stroke="#5db551" stroke-width="2.10" fill="none"/>
<path d="M700.85 1255.57h9.50M705.60 1250.82v9.50" stroke="#5db551" stroke-width="2.10" fill="none"/>
<path d="M713.21 1254.95h9.50M717.96 1250.20v9.50" stroke="#5db551" stroke-width="2.10" fill="none"/>
<path d="M724.72 1252.41h9.50M729.47 1247.66v9.50" stroke="#5db551" stroke-width="2.10" fill="none"/>
<path d="M736.29 1242.85h9.50M741.04 1238.10v9.50" stroke="#5db551" stroke-width="2.10" fill="none"/>
<path d="M748.62 1247.50h9.50M753.37 1242.75v9.50" stroke="#5db551" stroke-width="2.10" fill="none"/>
<path d="M761.06 1252.23h9.50M765.81 1247.48v9.50" stroke="#5db551" stroke-width="2.10" fill="none"/>
<path d="M773.06 1255.04h9.50M777.81 1250.29v9.50" stroke="#5db551" stroke-width="2.10" fill="none"/>
<path d="M784.80 1263.64h9.50M789.55 1258.89v9.50" stroke="#5db551" stroke-width="2.10" fill="none"/>
<path d="M796.68 1270.04h9.50M801.43 1265.29v9.50" stroke="#5db551" stroke-width="2.10" fill="none"/>
<path d="M808.76 1277.32h9.50M813.51 1272.57v9.50" stroke="#5db551" stroke-width="2.10" fill="none"/>
<path d="M820.42 1299.50h9.50M825.17 1294.75v9.50" stroke="#5db551" stroke-width="2.10" fill="none"/>
<path d="M831.92 1322.04h9.50M836.67 1317.29v9.50" stroke="#5db551" stroke-width="2.10" fill="none"/>
<path d="M844.11 1341.07h9.50M848.86 1336.32v9.50" stroke="#5db551" stroke-width="2.10" fill="none"/>
<path d="M856.49 1406.50h9.50M861.24 1401.75v9.50" stroke="#5db551" stroke-width="2.10" fill="none"/>
<path d="M868.09 1424.39h9.50M872.84 1419.64v9.50" stroke="#5db551" stroke-width="2.10" fill="none"/>
<path d="M879.90 1438.33h9.50M884.65 1433.58v9.50" stroke="#5db551" stroke-width="2.10" fill="none"/>
<path d="M892.20 1430.62h9.50M896.95 1425.87v9.50" stroke="#5db551" stroke-width="2.10" fill="none"/>
<path d="M904.41 1412.11h9.50M909.16 1407.36v9.50" stroke="#5db551" stroke-width="2.10" fill="none"/>
<path d="M916.82 1470.61h9.50M921.57 1465.86v9.50" stroke="#5db551" stroke-width="2.10" fill="none"/>
<polyline points="570.67,1327.22 585.77,1322.13 598.26,1315.82 608.61,1297.40 621.10,1297.40 634.73,1281.00 646.37,1273.72 657.54,1291.09 668.85,1273.37 680.46,1275.30 693.02,1275.91 705.60,1273.98 717.96,1271.44 729.47,1265.74 741.04,1285.74 753.37,1289.24 765.81,1292.49 777.81,1303.28 789.55,1324.85 801.43,1315.29 813.51,1320.46 825.17,1344.58 836.67,1350.55 848.86,1474.82 861.24,1385.89 872.84,1425.79 884.65,1436.93" fill="none" stroke="#e3242f" stroke-width="2.0" stroke-linejoin="round"/>
<path d="M565.92 1327.22h9.50M570.67 1322.47v9.50" stroke="#e3242f" stroke-width="2.10" fill="none"/>
<path d="M581.02 1322.13h9.50M585.77 1317.38v9.50" stroke="#e3242f" stroke-width="2.10" fill="none"/>
<path d="M593.51 1315.82h9.50M598.26 1311.07v9.50" stroke="#e3242f" stroke-width="2.10" fill="none"/>
<path d="M603.86 1297.40h9.50M608.61 1292.65v9.50" stroke="#e3242f" stroke-width="2.10" fill="none"/>
<path d="M616.35 1297.40h9.50M621.10 1292.65v9.50" stroke="#e3242f" stroke-width="2.10" fill="none"/>
<path d="M629.98 1281.00h9.50M634.73 1276.25v9.50" stroke="#e3242f" stroke-width="2.10" fill="none"/>
<path d="M641.62 1273.72h9.50M646.37 1268.97v9.50" stroke="#e3242f" stroke-width="2.10" fill="none"/>
<path d="M652.79 1291.09h9.50M657.54 1286.34v9.50" stroke="#e3242f" stroke-width="2.10" fill="none"/>
<path d="M664.10 1273.37h9.50M668.85 1268.62v9.50" stroke="#e3242f" stroke-width="2.10" fill="none"/>
<path d="M675.71 1275.30h9.50M680.46 1270.55v9.50" stroke="#e3242f" stroke-width="2.10" fill="none"/>
<path d="M688.27 1275.91h9.50M693.02 1271.16v9.50" stroke="#e3242f" stroke-width="2.10" fill="none"/>
<path d="M700.85 1273.98h9.50M705.60 1269.23v9.50" stroke="#e3242f" stroke-width="2.10" fill="none"/>
<path d="M713.21 1271.44h9.50M717.96 1266.69v9.50" stroke="#e3242f" stroke-width="2.10" fill="none"/>
<path d="M724.72 1265.74h9.50M729.47 1260.99v9.50" stroke="#e3242f" stroke-width="2.10" fill="none"/>
<path d="M736.29 1285.74h9.50M741.04 1280.99v9.50" stroke="#e3242f" stroke-width="2.10" fill="none"/>
<path d="M748.62 1289.24h9.50M753.37 1284.49v9.50" stroke="#e3242f" stroke-width="2.10" fill="none"/>
<path d="M761.06 1292.49h9.50M765.81 1287.74v9.50" stroke="#e3242f" stroke-width="2.10" fill="none"/>
<path d="M773.06 1303.28h9.50M777.81 1298.53v9.50" stroke="#e3242f" stroke-width="2.10" fill="none"/>
<path d="M784.80 1324.85h9.50M789.55 1320.10v9.50" stroke="#e3242f" stroke-width="2.10" fill="none"/>
<path d="M796.68 1315.29h9.50M801.43 1310.54v9.50" stroke="#e3242f" stroke-width="2.10" fill="none"/>
<path d="M808.76 1320.46h9.50M813.51 1315.71v9.50" stroke="#e3242f" stroke-width="2.10" fill="none"/>
<path d="M820.42 1344.58h9.50M825.17 1339.83v9.50" stroke="#e3242f" stroke-width="2.10" fill="none"/>
<path d="M831.92 1350.55h9.50M836.67 1345.80v9.50" stroke="#e3242f" stroke-width="2.10" fill="none"/>
<path d="M844.11 1474.82h9.50M848.86 1470.07v9.50" stroke="#e3242f" stroke-width="2.10" fill="none"/>
<path d="M856.49 1385.89h9.50M861.24 1381.14v9.50" stroke="#e3242f" stroke-width="2.10" fill="none"/>
<path d="M868.09 1425.79h9.50M872.84 1421.04v9.50" stroke="#e3242f" stroke-width="2.10" fill="none"/>
<path d="M879.90 1436.93h9.50M884.65 1432.18v9.50" stroke="#e3242f" stroke-width="2.10" fill="none"/>
<path d="M916.82 1405.45h9.50M921.57 1400.70v9.50" stroke="#e3242f" stroke-width="2.10" fill="none"/>
</g>
<line x1="585.22" y1="1555.50" x2="585.22" y2="1552.00" stroke="#000" stroke-width="1.80"/>
<line x1="585.22" y1="1163.00" x2="585.22" y2="1166.50" stroke="#000" stroke-width="1.80"/>
<line x1="597.49" y1="1555.50" x2="597.49" y2="1552.00" stroke="#000" stroke-width="1.80"/>
<line x1="597.49" y1="1163.00" x2="597.49" y2="1166.50" stroke="#000" stroke-width="1.80"/>
<line x1="607.52" y1="1555.50" x2="607.52" y2="1552.00" stroke="#000" stroke-width="1.80"/>
<line x1="607.52" y1="1163.00" x2="607.52" y2="1166.50" stroke="#000" stroke-width="1.80"/>
<line x1="616.00" y1="1555.50" x2="616.00" y2="1552.00" stroke="#000" stroke-width="1.80"/>
<line x1="616.00" y1="1163.00" x2="616.00" y2="1166.50" stroke="#000" stroke-width="1.80"/>
<line x1="623.34" y1="1555.50" x2="623.34" y2="1552.00" stroke="#000" stroke-width="1.80"/>
<line x1="623.34" y1="1163.00" x2="623.34" y2="1166.50" stroke="#000" stroke-width="1.80"/>
<line x1="629.82" y1="1555.50" x2="629.82" y2="1552.00" stroke="#000" stroke-width="1.80"/>
<line x1="629.82" y1="1163.00" x2="629.82" y2="1166.50" stroke="#000" stroke-width="1.80"/>
<line x1="635.61" y1="1555.50" x2="635.61" y2="1548.30" stroke="#000" stroke-width="1.80"/>
<line x1="635.61" y1="1163.00" x2="635.61" y2="1170.20" stroke="#000" stroke-width="1.80"/>
<line x1="673.73" y1="1555.50" x2="673.73" y2="1552.00" stroke="#000" stroke-width="1.80"/>
<line x1="673.73" y1="1163.00" x2="673.73" y2="1166.50" stroke="#000" stroke-width="1.80"/>
<line x1="696.03" y1="1555.50" x2="696.03" y2="1552.00" stroke="#000" stroke-width="1.80"/>
<line x1="696.03" y1="1163.00" x2="696.03" y2="1166.50" stroke="#000" stroke-width="1.80"/>
<line x1="711.85" y1="1555.50" x2="711.85" y2="1552.00" stroke="#000" stroke-width="1.80"/>
<line x1="711.85" y1="1163.00" x2="711.85" y2="1166.50" stroke="#000" stroke-width="1.80"/>
<line x1="724.13" y1="1555.50" x2="724.13" y2="1552.00" stroke="#000" stroke-width="1.80"/>
<line x1="724.13" y1="1163.00" x2="724.13" y2="1166.50" stroke="#000" stroke-width="1.80"/>
<line x1="734.15" y1="1555.50" x2="734.15" y2="1552.00" stroke="#000" stroke-width="1.80"/>
<line x1="734.15" y1="1163.00" x2="734.15" y2="1166.50" stroke="#000" stroke-width="1.80"/>
<line x1="742.63" y1="1555.50" x2="742.63" y2="1552.00" stroke="#000" stroke-width="1.80"/>
<line x1="742.63" y1="1163.00" x2="742.63" y2="1166.50" stroke="#000" stroke-width="1.80"/>
<line x1="749.97" y1="1555.50" x2="749.97" y2="1552.00" stroke="#000" stroke-width="1.80"/>
<line x1="749.97" y1="1163.00" x2="749.97" y2="1166.50" stroke="#000" stroke-width="1.80"/>
<line x1="756.45" y1="1555.50" x2="756.45" y2="1552.00" stroke="#000" stroke-width="1.80"/>
<line x1="756.45" y1="1163.00" x2="756.45" y2="1166.50" stroke="#000" stroke-width="1.80"/>
<line x1="762.25" y1="1555.50" x2="762.25" y2="1548.30" stroke="#000" stroke-width="1.80"/>
<line x1="762.25" y1="1163.00" x2="762.25" y2="1170.20" stroke="#000" stroke-width="1.80"/>
<line x1="800.37" y1="1555.50" x2="800.37" y2="1552.00" stroke="#000" stroke-width="1.80"/>
<line x1="800.37" y1="1163.00" x2="800.37" y2="1166.50" stroke="#000" stroke-width="1.80"/>
<line x1="822.67" y1="1555.50" x2="822.67" y2="1552.00" stroke="#000" stroke-width="1.80"/>
<line x1="822.67" y1="1163.00" x2="822.67" y2="1166.50" stroke="#000" stroke-width="1.80"/>
<line x1="838.49" y1="1555.50" x2="838.49" y2="1552.00" stroke="#000" stroke-width="1.80"/>
<line x1="838.49" y1="1163.00" x2="838.49" y2="1166.50" stroke="#000" stroke-width="1.80"/>
<line x1="850.76" y1="1555.50" x2="850.76" y2="1552.00" stroke="#000" stroke-width="1.80"/>
<line x1="850.76" y1="1163.00" x2="850.76" y2="1166.50" stroke="#000" stroke-width="1.80"/>
<line x1="860.79" y1="1555.50" x2="860.79" y2="1552.00" stroke="#000" stroke-width="1.80"/>
<line x1="860.79" y1="1163.00" x2="860.79" y2="1166.50" stroke="#000" stroke-width="1.80"/>
<line x1="869.26" y1="1555.50" x2="869.26" y2="1552.00" stroke="#000" stroke-width="1.80"/>
<line x1="869.26" y1="1163.00" x2="869.26" y2="1166.50" stroke="#000" stroke-width="1.80"/>
<line x1="876.61" y1="1555.50" x2="876.61" y2="1552.00" stroke="#000" stroke-width="1.80"/>
<line x1="876.61" y1="1163.00" x2="876.61" y2="1166.50" stroke="#000" stroke-width="1.80"/>
<line x1="883.09" y1="1555.50" x2="883.09" y2="1552.00" stroke="#000" stroke-width="1.80"/>
<line x1="883.09" y1="1163.00" x2="883.09" y2="1166.50" stroke="#000" stroke-width="1.80"/>
<line x1="888.88" y1="1555.50" x2="888.88" y2="1548.30" stroke="#000" stroke-width="1.80"/>
<line x1="888.88" y1="1163.00" x2="888.88" y2="1170.20" stroke="#000" stroke-width="1.80"/>
<line x1="569.40" y1="1529.10" x2="572.90" y2="1529.10" stroke="#000" stroke-width="1.80"/>
<line x1="927.00" y1="1529.10" x2="923.50" y2="1529.10" stroke="#000" stroke-width="1.80"/>
<line x1="569.40" y1="1513.66" x2="572.90" y2="1513.66" stroke="#000" stroke-width="1.80"/>
<line x1="927.00" y1="1513.66" x2="923.50" y2="1513.66" stroke="#000" stroke-width="1.80"/>
<line x1="569.40" y1="1502.70" x2="572.90" y2="1502.70" stroke="#000" stroke-width="1.80"/>
<line x1="927.00" y1="1502.70" x2="923.50" y2="1502.70" stroke="#000" stroke-width="1.80"/>
<line x1="569.40" y1="1494.20" x2="572.90" y2="1494.20" stroke="#000" stroke-width="1.80"/>
<line x1="927.00" y1="1494.20" x2="923.50" y2="1494.20" stroke="#000" stroke-width="1.80"/>
<line x1="569.40" y1="1487.26" x2="572.90" y2="1487.26" stroke="#000" stroke-width="1.80"/>
<line x1="927.00" y1="1487.26" x2="923.50" y2="1487.26" stroke="#000" stroke-width="1.80"/>
<line x1="569.40" y1="1481.39" x2="572.90" y2="1481.39" stroke="#000" stroke-width="1.80"/>
<line x1="927.00" y1="1481.39" x2="923.50" y2="1481.39" stroke="#000" stroke-width="1.80"/>
<line x1="569.40" y1="1476.30" x2="572.90" y2="1476.30" stroke="#000" stroke-width="1.80"/>
<line x1="927.00" y1="1476.30" x2="923.50" y2="1476.30" stroke="#000" stroke-width="1.80"/>
<line x1="569.40" y1="1471.81" x2="572.90" y2="1471.81" stroke="#000" stroke-width="1.80"/>
<line x1="927.00" y1="1471.81" x2="923.50" y2="1471.81" stroke="#000" stroke-width="1.80"/>
<line x1="569.40" y1="1467.80" x2="576.60" y2="1467.80" stroke="#000" stroke-width="1.80"/>
<line x1="927.00" y1="1467.80" x2="919.80" y2="1467.80" stroke="#000" stroke-width="1.80"/>
<line x1="569.40" y1="1441.40" x2="572.90" y2="1441.40" stroke="#000" stroke-width="1.80"/>
<line x1="927.00" y1="1441.40" x2="923.50" y2="1441.40" stroke="#000" stroke-width="1.80"/>
<line x1="569.40" y1="1425.96" x2="572.90" y2="1425.96" stroke="#000" stroke-width="1.80"/>
<line x1="927.00" y1="1425.96" x2="923.50" y2="1425.96" stroke="#000" stroke-width="1.80"/>
<line x1="569.40" y1="1415.00" x2="572.90" y2="1415.00" stroke="#000" stroke-width="1.80"/>
<line x1="927.00" y1="1415.00" x2="923.50" y2="1415.00" stroke="#000" stroke-width="1.80"/>
<line x1="569.40" y1="1406.50" x2="572.90" y2="1406.50" stroke="#000" stroke-width="1.80"/>
<line x1="927.00" y1="1406.50" x2="923.50" y2="1406.50" stroke="#000" stroke-width="1.80"/>
<line x1="569.40" y1="1399.56" x2="572.90" y2="1399.56" stroke="#000" stroke-width="1.80"/>
<line x1="927.00" y1="1399.56" x2="923.50" y2="1399.56" stroke="#000" stroke-width="1.80"/>
<line x1="569.40" y1="1393.69" x2="572.90" y2="1393.69" stroke="#000" stroke-width="1.80"/>
<line x1="927.00" y1="1393.69" x2="923.50" y2="1393.69" stroke="#000" stroke-width="1.80"/>
<line x1="569.40" y1="1388.60" x2="572.90" y2="1388.60" stroke="#000" stroke-width="1.80"/>
<line x1="927.00" y1="1388.60" x2="923.50" y2="1388.60" stroke="#000" stroke-width="1.80"/>
<line x1="569.40" y1="1384.11" x2="572.90" y2="1384.11" stroke="#000" stroke-width="1.80"/>
<line x1="927.00" y1="1384.11" x2="923.50" y2="1384.11" stroke="#000" stroke-width="1.80"/>
<line x1="569.40" y1="1380.10" x2="576.60" y2="1380.10" stroke="#000" stroke-width="1.80"/>
<line x1="927.00" y1="1380.10" x2="919.80" y2="1380.10" stroke="#000" stroke-width="1.80"/>
<line x1="569.40" y1="1353.70" x2="572.90" y2="1353.70" stroke="#000" stroke-width="1.80"/>
<line x1="927.00" y1="1353.70" x2="923.50" y2="1353.70" stroke="#000" stroke-width="1.80"/>
<line x1="569.40" y1="1338.26" x2="572.90" y2="1338.26" stroke="#000" stroke-width="1.80"/>
<line x1="927.00" y1="1338.26" x2="923.50" y2="1338.26" stroke="#000" stroke-width="1.80"/>
<line x1="569.40" y1="1327.30" x2="572.90" y2="1327.30" stroke="#000" stroke-width="1.80"/>
<line x1="927.00" y1="1327.30" x2="923.50" y2="1327.30" stroke="#000" stroke-width="1.80"/>
<line x1="569.40" y1="1318.80" x2="572.90" y2="1318.80" stroke="#000" stroke-width="1.80"/>
<line x1="927.00" y1="1318.80" x2="923.50" y2="1318.80" stroke="#000" stroke-width="1.80"/>
<line x1="569.40" y1="1311.86" x2="572.90" y2="1311.86" stroke="#000" stroke-width="1.80"/>
<line x1="927.00" y1="1311.86" x2="923.50" y2="1311.86" stroke="#000" stroke-width="1.80"/>
<line x1="569.40" y1="1305.99" x2="572.90" y2="1305.99" stroke="#000" stroke-width="1.80"/>
<line x1="927.00" y1="1305.99" x2="923.50" y2="1305.99" stroke="#000" stroke-width="1.80"/>
<line x1="569.40" y1="1300.90" x2="572.90" y2="1300.90" stroke="#000" stroke-width="1.80"/>
<line x1="927.00" y1="1300.90" x2="923.50" y2="1300.90" stroke="#000" stroke-width="1.80"/>
<line x1="569.40" y1="1296.41" x2="572.90" y2="1296.41" stroke="#000" stroke-width="1.80"/>
<line x1="927.00" y1="1296.41" x2="923.50" y2="1296.41" stroke="#000" stroke-width="1.80"/>
<line x1="569.40" y1="1292.40" x2="576.60" y2="1292.40" stroke="#000" stroke-width="1.80"/>
<line x1="927.00" y1="1292.40" x2="919.80" y2="1292.40" stroke="#000" stroke-width="1.80"/>
<line x1="569.40" y1="1266.00" x2="572.90" y2="1266.00" stroke="#000" stroke-width="1.80"/>
<line x1="927.00" y1="1266.00" x2="923.50" y2="1266.00" stroke="#000" stroke-width="1.80"/>
<line x1="569.40" y1="1250.56" x2="572.90" y2="1250.56" stroke="#000" stroke-width="1.80"/>
<line x1="927.00" y1="1250.56" x2="923.50" y2="1250.56" stroke="#000" stroke-width="1.80"/>
<line x1="569.40" y1="1239.60" x2="572.90" y2="1239.60" stroke="#000" stroke-width="1.80"/>
<line x1="927.00" y1="1239.60" x2="923.50" y2="1239.60" stroke="#000" stroke-width="1.80"/>
<line x1="569.40" y1="1231.10" x2="572.90" y2="1231.10" stroke="#000" stroke-width="1.80"/>
<line x1="927.00" y1="1231.10" x2="923.50" y2="1231.10" stroke="#000" stroke-width="1.80"/>
<line x1="569.40" y1="1224.16" x2="572.90" y2="1224.16" stroke="#000" stroke-width="1.80"/>
<line x1="927.00" y1="1224.16" x2="923.50" y2="1224.16" stroke="#000" stroke-width="1.80"/>
<line x1="569.40" y1="1218.29" x2="572.90" y2="1218.29" stroke="#000" stroke-width="1.80"/>
<line x1="927.00" y1="1218.29" x2="923.50" y2="1218.29" stroke="#000" stroke-width="1.80"/>
<line x1="569.40" y1="1213.20" x2="572.90" y2="1213.20" stroke="#000" stroke-width="1.80"/>
<line x1="927.00" y1="1213.20" x2="923.50" y2="1213.20" stroke="#000" stroke-width="1.80"/>
<line x1="569.40" y1="1208.71" x2="572.90" y2="1208.71" stroke="#000" stroke-width="1.80"/>
<line x1="927.00" y1="1208.71" x2="923.50" y2="1208.71" stroke="#000" stroke-width="1.80"/>
<line x1="569.40" y1="1204.70" x2="576.60" y2="1204.70" stroke="#000" stroke-width="1.80"/>
<line x1="927.00" y1="1204.70" x2="919.80" y2="1204.70" stroke="#000" stroke-width="1.80"/>
<line x1="569.40" y1="1178.30" x2="572.90" y2="1178.30" stroke="#000" stroke-width="1.80"/>
<line x1="927.00" y1="1178.30" x2="923.50" y2="1178.30" stroke="#000" stroke-width="1.80"/>
<rect x="569.40" y="1163.00" width="357.60" height="392.50" fill="none" stroke="#000" stroke-width="2.3"/>
<text x="569.71" y="1147.50" font-size="38.20" text-anchor="start" fill="#231f20" textLength="351.43" lengthAdjust="spacing">(f) 20:10:57-20:11:01</text>
<text x="502.61" y="1553.20" font-size="38.60" text-anchor="start" fill="#231f20">10</text>
<text x="548.94" y="1539.80" font-size="30.50" text-anchor="start" fill="#231f20">4</text>
<text x="502.61" y="1478.60" font-size="38.60" text-anchor="start" fill="#231f20">10</text>
<text x="548.48" y="1465.20" font-size="30.50" text-anchor="start" fill="#231f20">5</text>
<text x="502.61" y="1390.90" font-size="38.60" text-anchor="start" fill="#231f20">10</text>
<text x="548.17" y="1377.50" font-size="30.50" text-anchor="start" fill="#231f20">6</text>
<text x="502.61" y="1303.20" font-size="38.60" text-anchor="start" fill="#231f20">10</text>
<text x="548.17" y="1289.80" font-size="30.50" text-anchor="start" fill="#231f20">7</text>
<text x="502.61" y="1215.50" font-size="38.60" text-anchor="start" fill="#231f20">10</text>
<text x="548.33" y="1202.10" font-size="30.50" text-anchor="start" fill="#231f20">8</text>
<text x="619.59" y="1594.00" font-size="35.50" text-anchor="start" fill="#231f20">10</text>
<text x="738.07" y="1594.00" font-size="35.50" text-anchor="start" fill="#231f20">100</text>
<text x="855.56" y="1594.00" font-size="35.50" text-anchor="start" fill="#231f20">1000</text>
<text x="667.61" y="1626.80" font-size="36.00" text-anchor="start" fill="#231f20">Energy (eV)</text>
<clipPath id="clipi"><rect x="1014.70" y="1163.00" width="356.90" height="392.50"/></clipPath>
<g clip-path="url(#clipi)">
<polyline points="1015.97,1354.49 1031.04,1313.36 1043.50,1313.89 1053.83,1310.73 1066.30,1289.16 1079.90,1307.57 1091.52,1304.42 1102.67,1305.03 1113.95,1298.72 1125.54,1308.80 1138.08,1302.49 1150.63,1333.53 1162.97,1324.06 1174.45,1346.25 1186.00,1317.48 1198.31,1306.96 1210.73,1304.42 1222.70,1321.52 1234.42,1322.83 1246.27,1313.01 1258.33,1350.72 1269.97,1351.42 1281.45,1368.61 1293.61,1401.94 1305.97,1406.15 1317.54,1425.09" fill="none" stroke="#3a5aa8" stroke-width="2.0" stroke-linejoin="round"/>
<path d="M1011.22 1354.49h9.50M1015.97 1349.74v9.50" stroke="#3a5aa8" stroke-width="2.10" fill="none"/>
<path d="M1026.29 1313.36h9.50M1031.04 1308.61v9.50" stroke="#3a5aa8" stroke-width="2.10" fill="none"/>
<path d="M1038.75 1313.89h9.50M1043.50 1309.14v9.50" stroke="#3a5aa8" stroke-width="2.10" fill="none"/>
<path d="M1049.08 1310.73h9.50M1053.83 1305.98v9.50" stroke="#3a5aa8" stroke-width="2.10" fill="none"/>
<path d="M1061.55 1289.16h9.50M1066.30 1284.41v9.50" stroke="#3a5aa8" stroke-width="2.10" fill="none"/>
<path d="M1075.15 1307.57h9.50M1079.90 1302.82v9.50" stroke="#3a5aa8" stroke-width="2.10" fill="none"/>
<path d="M1086.77 1304.42h9.50M1091.52 1299.67v9.50" stroke="#3a5aa8" stroke-width="2.10" fill="none"/>
<path d="M1097.92 1305.03h9.50M1102.67 1300.28v9.50" stroke="#3a5aa8" stroke-width="2.10" fill="none"/>
<path d="M1109.20 1298.72h9.50M1113.95 1293.97v9.50" stroke="#3a5aa8" stroke-width="2.10" fill="none"/>
<path d="M1120.79 1308.80h9.50M1125.54 1304.05v9.50" stroke="#3a5aa8" stroke-width="2.10" fill="none"/>
<path d="M1133.33 1302.49h9.50M1138.08 1297.74v9.50" stroke="#3a5aa8" stroke-width="2.10" fill="none"/>
<path d="M1145.88 1333.53h9.50M1150.63 1328.78v9.50" stroke="#3a5aa8" stroke-width="2.10" fill="none"/>
<path d="M1158.22 1324.06h9.50M1162.97 1319.31v9.50" stroke="#3a5aa8" stroke-width="2.10" fill="none"/>
<path d="M1169.70 1346.25h9.50M1174.45 1341.50v9.50" stroke="#3a5aa8" stroke-width="2.10" fill="none"/>
<path d="M1181.25 1317.48h9.50M1186.00 1312.73v9.50" stroke="#3a5aa8" stroke-width="2.10" fill="none"/>
<path d="M1193.56 1306.96h9.50M1198.31 1302.21v9.50" stroke="#3a5aa8" stroke-width="2.10" fill="none"/>
<path d="M1205.98 1304.42h9.50M1210.73 1299.67v9.50" stroke="#3a5aa8" stroke-width="2.10" fill="none"/>
<path d="M1217.95 1321.52h9.50M1222.70 1316.77v9.50" stroke="#3a5aa8" stroke-width="2.10" fill="none"/>
<path d="M1229.67 1322.83h9.50M1234.42 1318.08v9.50" stroke="#3a5aa8" stroke-width="2.10" fill="none"/>
<path d="M1241.52 1313.01h9.50M1246.27 1308.26v9.50" stroke="#3a5aa8" stroke-width="2.10" fill="none"/>
<path d="M1253.58 1350.72h9.50M1258.33 1345.97v9.50" stroke="#3a5aa8" stroke-width="2.10" fill="none"/>
<path d="M1265.22 1351.42h9.50M1269.97 1346.67v9.50" stroke="#3a5aa8" stroke-width="2.10" fill="none"/>
<path d="M1276.70 1368.61h9.50M1281.45 1363.86v9.50" stroke="#3a5aa8" stroke-width="2.10" fill="none"/>
<path d="M1288.86 1401.94h9.50M1293.61 1397.19v9.50" stroke="#3a5aa8" stroke-width="2.10" fill="none"/>
<path d="M1301.22 1406.15h9.50M1305.97 1401.40v9.50" stroke="#3a5aa8" stroke-width="2.10" fill="none"/>
<path d="M1312.79 1425.09h9.50M1317.54 1420.34v9.50" stroke="#3a5aa8" stroke-width="2.10" fill="none"/>
<path d="M1336.86 1449.56h9.50M1341.61 1444.81v9.50" stroke="#3a5aa8" stroke-width="2.10" fill="none"/>
<path d="M1361.43 1491.57h9.50M1366.18 1486.82v9.50" stroke="#3a5aa8" stroke-width="2.10" fill="none"/>
<polyline points="1015.97,1351.95 1031.04,1331.08 1043.50,1316.43 1053.83,1308.19 1066.30,1293.01 1079.90,1280.12 1091.52,1269.60 1102.67,1262.58 1113.95,1271.44 1125.54,1281.00 1138.08,1279.68 1150.63,1276.53 1162.97,1282.93 1174.45,1275.30 1186.00,1275.30 1198.31,1273.02 1210.73,1272.05 1222.70,1279.68 1234.42,1287.31 1246.27,1294.33 1258.33,1303.10 1269.97,1312.31 1281.45,1313.54 1293.61,1346.77 1305.97,1352.12 1317.54,1364.58 1329.33,1486.66 1341.61,1382.99 1353.80,1472.01 1366.18,1462.19" fill="none" stroke="#5db551" stroke-width="2.0" stroke-linejoin="round"/>
<path d="M1011.22 1351.95h9.50M1015.97 1347.20v9.50" stroke="#5db551" stroke-width="2.10" fill="none"/>
<path d="M1026.29 1331.08h9.50M1031.04 1326.33v9.50" stroke="#5db551" stroke-width="2.10" fill="none"/>
<path d="M1038.75 1316.43h9.50M1043.50 1311.68v9.50" stroke="#5db551" stroke-width="2.10" fill="none"/>
<path d="M1049.08 1308.19h9.50M1053.83 1303.44v9.50" stroke="#5db551" stroke-width="2.10" fill="none"/>
<path d="M1061.55 1293.01h9.50M1066.30 1288.26v9.50" stroke="#5db551" stroke-width="2.10" fill="none"/>
<path d="M1075.15 1280.12h9.50M1079.90 1275.37v9.50" stroke="#5db551" stroke-width="2.10" fill="none"/>
<path d="M1086.77 1269.60h9.50M1091.52 1264.85v9.50" stroke="#5db551" stroke-width="2.10" fill="none"/>
<path d="M1097.92 1262.58h9.50M1102.67 1257.83v9.50" stroke="#5db551" stroke-width="2.10" fill="none"/>
<path d="M1109.20 1271.44h9.50M1113.95 1266.69v9.50" stroke="#5db551" stroke-width="2.10" fill="none"/>
<path d="M1120.79 1281.00h9.50M1125.54 1276.25v9.50" stroke="#5db551" stroke-width="2.10" fill="none"/>
<path d="M1133.33 1279.68h9.50M1138.08 1274.93v9.50" stroke="#5db551" stroke-width="2.10" fill="none"/>
<path d="M1145.88 1276.53h9.50M1150.63 1271.78v9.50" stroke="#5db551" stroke-width="2.10" fill="none"/>
<path d="M1158.22 1282.93h9.50M1162.97 1278.18v9.50" stroke="#5db551" stroke-width="2.10" fill="none"/>
<path d="M1169.70 1275.30h9.50M1174.45 1270.55v9.50" stroke="#5db551" stroke-width="2.10" fill="none"/>
<path d="M1181.25 1275.30h9.50M1186.00 1270.55v9.50" stroke="#5db551" stroke-width="2.10" fill="none"/>
<path d="M1193.56 1273.02h9.50M1198.31 1268.27v9.50" stroke="#5db551" stroke-width="2.10" fill="none"/>
<path d="M1205.98 1272.05h9.50M1210.73 1267.30v9.50" stroke="#5db551" stroke-width="2.10" fill="none"/>
<path d="M1217.95 1279.68h9.50M1222.70 1274.93v9.50" stroke="#5db551" stroke-width="2.10" fill="none"/>
<path d="M1229.67 1287.31h9.50M1234.42 1282.56v9.50" stroke="#5db551" stroke-width="2.10" fill="none"/>
<path d="M1241.52 1294.33h9.50M1246.27 1289.58v9.50" stroke="#5db551" stroke-width="2.10" fill="none"/>
<path d="M1253.58 1303.10h9.50M1258.33 1298.35v9.50" stroke="#5db551" stroke-width="2.10" fill="none"/>
<path d="M1265.22 1312.31h9.50M1269.97 1307.56v9.50" stroke="#5db551" stroke-width="2.10" fill="none"/>
<path d="M1276.70 1313.54h9.50M1281.45 1308.79v9.50" stroke="#5db551" stroke-width="2.10" fill="none"/>
<path d="M1288.86 1346.77h9.50M1293.61 1342.02v9.50" stroke="#5db551" stroke-width="2.10" fill="none"/>
<path d="M1301.22 1352.12h9.50M1305.97 1347.37v9.50" stroke="#5db551" stroke-width="2.10" fill="none"/>
<path d="M1312.79 1364.58h9.50M1317.54 1359.83v9.50" stroke="#5db551" stroke-width="2.10" fill="none"/>
<path d="M1324.58 1486.66h9.50M1329.33 1481.91v9.50" stroke="#5db551" stroke-width="2.10" fill="none"/>
<path d="M1336.86 1382.99h9.50M1341.61 1378.24v9.50" stroke="#5db551" stroke-width="2.10" fill="none"/>
<path d="M1349.05 1472.01h9.50M1353.80 1467.26v9.50" stroke="#5db551" stroke-width="2.10" fill="none"/>
<path d="M1361.43 1462.19h9.50M1366.18 1457.44v9.50" stroke="#5db551" stroke-width="2.10" fill="none"/>
<polyline points="1015.97,1310.12 1031.04,1320.20 1043.50,1318.97 1053.83,1308.80 1066.30,1303.10 1079.90,1297.40 1091.52,1277.14 1102.67,1305.73 1113.95,1305.03 1125.54,1325.90 1138.08,1337.39 1150.63,1340.55 1162.97,1315.82 1174.45,1344.93 1186.00,1324.06 1198.31,1315.55 1210.73,1339.23 1222.70,1349.05 1234.42,1315.82 1246.27,1324.06 1258.33,1365.10 1269.97,1377.47 1281.45,1384.40" fill="none" stroke="#e3242f" stroke-width="2.0" stroke-linejoin="round"/>
<path d="M1011.22 1310.12h9.50M1015.97 1305.37v9.50" stroke="#e3242f" stroke-width="2.10" fill="none"/>
<path d="M1026.29 1320.20h9.50M1031.04 1315.45v9.50" stroke="#e3242f" stroke-width="2.10" fill="none"/>
<path d="M1038.75 1318.97h9.50M1043.50 1314.22v9.50" stroke="#e3242f" stroke-width="2.10" fill="none"/>
<path d="M1049.08 1308.80h9.50M1053.83 1304.05v9.50" stroke="#e3242f" stroke-width="2.10" fill="none"/>
<path d="M1061.55 1303.10h9.50M1066.30 1298.35v9.50" stroke="#e3242f" stroke-width="2.10" fill="none"/>
<path d="M1075.15 1297.40h9.50M1079.90 1292.65v9.50" stroke="#e3242f" stroke-width="2.10" fill="none"/>
<path d="M1086.77 1277.14h9.50M1091.52 1272.39v9.50" stroke="#e3242f" stroke-width="2.10" fill="none"/>
<path d="M1097.92 1305.73h9.50M1102.67 1300.98v9.50" stroke="#e3242f" stroke-width="2.10" fill="none"/>
<path d="M1109.20 1305.03h9.50M1113.95 1300.28v9.50" stroke="#e3242f" stroke-width="2.10" fill="none"/>
<path d="M1120.79 1325.90h9.50M1125.54 1321.15v9.50" stroke="#e3242f" stroke-width="2.10" fill="none"/>
<path d="M1133.33 1337.39h9.50M1138.08 1332.64v9.50" stroke="#e3242f" stroke-width="2.10" fill="none"/>
<path d="M1145.88 1340.55h9.50M1150.63 1335.80v9.50" stroke="#e3242f" stroke-width="2.10" fill="none"/>
<path d="M1158.22 1315.82h9.50M1162.97 1311.07v9.50" stroke="#e3242f" stroke-width="2.10" fill="none"/>
<path d="M1169.70 1344.93h9.50M1174.45 1340.18v9.50" stroke="#e3242f" stroke-width="2.10" fill="none"/>
<path d="M1181.25 1324.06h9.50M1186.00 1319.31v9.50" stroke="#e3242f" stroke-width="2.10" fill="none"/>
<path d="M1193.56 1315.55h9.50M1198.31 1310.80v9.50" stroke="#e3242f" stroke-width="2.10" fill="none"/>
<path d="M1205.98 1339.23h9.50M1210.73 1334.48v9.50" stroke="#e3242f" stroke-width="2.10" fill="none"/>
<path d="M1217.95 1349.05h9.50M1222.70 1344.30v9.50" stroke="#e3242f" stroke-width="2.10" fill="none"/>
<path d="M1229.67 1315.82h9.50M1234.42 1311.07v9.50" stroke="#e3242f" stroke-width="2.10" fill="none"/>
<path d="M1241.52 1324.06h9.50M1246.27 1319.31v9.50" stroke="#e3242f" stroke-width="2.10" fill="none"/>
<path d="M1253.58 1365.10h9.50M1258.33 1360.35v9.50" stroke="#e3242f" stroke-width="2.10" fill="none"/>
<path d="M1265.22 1377.47h9.50M1269.97 1372.72v9.50" stroke="#e3242f" stroke-width="2.10" fill="none"/>
<path d="M1276.70 1384.40h9.50M1281.45 1379.65v9.50" stroke="#e3242f" stroke-width="2.10" fill="none"/>
<polyline points="1317.54,1392.12 1329.33,1396.85" fill="none" stroke="#e3242f" stroke-width="2.0" stroke-linejoin="round"/>
<path d="M1312.79 1392.12h9.50M1317.54 1387.37v9.50" stroke="#e3242f" stroke-width="2.10" fill="none"/>
<path d="M1324.58 1396.85h9.50M1329.33 1392.10v9.50" stroke="#e3242f" stroke-width="2.10" fill="none"/>
<polyline points="1353.80,1392.12 1366.18,1360.63" fill="none" stroke="#e3242f" stroke-width="2.0" stroke-linejoin="round"/>
<path d="M1349.05 1392.12h9.50M1353.80 1387.37v9.50" stroke="#e3242f" stroke-width="2.10" fill="none"/>
<path d="M1361.43 1360.63h9.50M1366.18 1355.88v9.50" stroke="#e3242f" stroke-width="2.10" fill="none"/>
</g>
<line x1="1030.49" y1="1555.50" x2="1030.49" y2="1552.00" stroke="#000" stroke-width="1.80"/>
<line x1="1030.49" y1="1163.00" x2="1030.49" y2="1166.50" stroke="#000" stroke-width="1.80"/>
<line x1="1042.74" y1="1555.50" x2="1042.74" y2="1552.00" stroke="#000" stroke-width="1.80"/>
<line x1="1042.74" y1="1163.00" x2="1042.74" y2="1166.50" stroke="#000" stroke-width="1.80"/>
<line x1="1052.75" y1="1555.50" x2="1052.75" y2="1552.00" stroke="#000" stroke-width="1.80"/>
<line x1="1052.75" y1="1163.00" x2="1052.75" y2="1166.50" stroke="#000" stroke-width="1.80"/>
<line x1="1061.21" y1="1555.50" x2="1061.21" y2="1552.00" stroke="#000" stroke-width="1.80"/>
<line x1="1061.21" y1="1163.00" x2="1061.21" y2="1166.50" stroke="#000" stroke-width="1.80"/>
<line x1="1068.54" y1="1555.50" x2="1068.54" y2="1552.00" stroke="#000" stroke-width="1.80"/>
<line x1="1068.54" y1="1163.00" x2="1068.54" y2="1166.50" stroke="#000" stroke-width="1.80"/>
<line x1="1075.00" y1="1555.50" x2="1075.00" y2="1552.00" stroke="#000" stroke-width="1.80"/>
<line x1="1075.00" y1="1163.00" x2="1075.00" y2="1166.50" stroke="#000" stroke-width="1.80"/>
<line x1="1080.78" y1="1555.50" x2="1080.78" y2="1548.30" stroke="#000" stroke-width="1.80"/>
<line x1="1080.78" y1="1163.00" x2="1080.78" y2="1170.20" stroke="#000" stroke-width="1.80"/>
<line x1="1118.83" y1="1555.50" x2="1118.83" y2="1552.00" stroke="#000" stroke-width="1.80"/>
<line x1="1118.83" y1="1163.00" x2="1118.83" y2="1166.50" stroke="#000" stroke-width="1.80"/>
<line x1="1141.09" y1="1555.50" x2="1141.09" y2="1552.00" stroke="#000" stroke-width="1.80"/>
<line x1="1141.09" y1="1163.00" x2="1141.09" y2="1166.50" stroke="#000" stroke-width="1.80"/>
<line x1="1156.88" y1="1555.50" x2="1156.88" y2="1552.00" stroke="#000" stroke-width="1.80"/>
<line x1="1156.88" y1="1163.00" x2="1156.88" y2="1166.50" stroke="#000" stroke-width="1.80"/>
<line x1="1169.12" y1="1555.50" x2="1169.12" y2="1552.00" stroke="#000" stroke-width="1.80"/>
<line x1="1169.12" y1="1163.00" x2="1169.12" y2="1166.50" stroke="#000" stroke-width="1.80"/>
<line x1="1179.13" y1="1555.50" x2="1179.13" y2="1552.00" stroke="#000" stroke-width="1.80"/>
<line x1="1179.13" y1="1163.00" x2="1179.13" y2="1166.50" stroke="#000" stroke-width="1.80"/>
<line x1="1187.59" y1="1555.50" x2="1187.59" y2="1552.00" stroke="#000" stroke-width="1.80"/>
<line x1="1187.59" y1="1163.00" x2="1187.59" y2="1166.50" stroke="#000" stroke-width="1.80"/>
<line x1="1194.92" y1="1555.50" x2="1194.92" y2="1552.00" stroke="#000" stroke-width="1.80"/>
<line x1="1194.92" y1="1163.00" x2="1194.92" y2="1166.50" stroke="#000" stroke-width="1.80"/>
<line x1="1201.39" y1="1555.50" x2="1201.39" y2="1552.00" stroke="#000" stroke-width="1.80"/>
<line x1="1201.39" y1="1163.00" x2="1201.39" y2="1166.50" stroke="#000" stroke-width="1.80"/>
<line x1="1207.17" y1="1555.50" x2="1207.17" y2="1548.30" stroke="#000" stroke-width="1.80"/>
<line x1="1207.17" y1="1163.00" x2="1207.17" y2="1170.20" stroke="#000" stroke-width="1.80"/>
<line x1="1245.21" y1="1555.50" x2="1245.21" y2="1552.00" stroke="#000" stroke-width="1.80"/>
<line x1="1245.21" y1="1163.00" x2="1245.21" y2="1166.50" stroke="#000" stroke-width="1.80"/>
<line x1="1267.47" y1="1555.50" x2="1267.47" y2="1552.00" stroke="#000" stroke-width="1.80"/>
<line x1="1267.47" y1="1163.00" x2="1267.47" y2="1166.50" stroke="#000" stroke-width="1.80"/>
<line x1="1283.26" y1="1555.50" x2="1283.26" y2="1552.00" stroke="#000" stroke-width="1.80"/>
<line x1="1283.26" y1="1163.00" x2="1283.26" y2="1166.50" stroke="#000" stroke-width="1.80"/>
<line x1="1295.51" y1="1555.50" x2="1295.51" y2="1552.00" stroke="#000" stroke-width="1.80"/>
<line x1="1295.51" y1="1163.00" x2="1295.51" y2="1166.50" stroke="#000" stroke-width="1.80"/>
<line x1="1305.52" y1="1555.50" x2="1305.52" y2="1552.00" stroke="#000" stroke-width="1.80"/>
<line x1="1305.52" y1="1163.00" x2="1305.52" y2="1166.50" stroke="#000" stroke-width="1.80"/>
<line x1="1313.98" y1="1555.50" x2="1313.98" y2="1552.00" stroke="#000" stroke-width="1.80"/>
<line x1="1313.98" y1="1163.00" x2="1313.98" y2="1166.50" stroke="#000" stroke-width="1.80"/>
<line x1="1321.31" y1="1555.50" x2="1321.31" y2="1552.00" stroke="#000" stroke-width="1.80"/>
<line x1="1321.31" y1="1163.00" x2="1321.31" y2="1166.50" stroke="#000" stroke-width="1.80"/>
<line x1="1327.77" y1="1555.50" x2="1327.77" y2="1552.00" stroke="#000" stroke-width="1.80"/>
<line x1="1327.77" y1="1163.00" x2="1327.77" y2="1166.50" stroke="#000" stroke-width="1.80"/>
<line x1="1333.55" y1="1555.50" x2="1333.55" y2="1548.30" stroke="#000" stroke-width="1.80"/>
<line x1="1333.55" y1="1163.00" x2="1333.55" y2="1170.20" stroke="#000" stroke-width="1.80"/>
<line x1="1014.70" y1="1529.10" x2="1018.20" y2="1529.10" stroke="#000" stroke-width="1.80"/>
<line x1="1371.60" y1="1529.10" x2="1368.10" y2="1529.10" stroke="#000" stroke-width="1.80"/>
<line x1="1014.70" y1="1513.66" x2="1018.20" y2="1513.66" stroke="#000" stroke-width="1.80"/>
<line x1="1371.60" y1="1513.66" x2="1368.10" y2="1513.66" stroke="#000" stroke-width="1.80"/>
<line x1="1014.70" y1="1502.70" x2="1018.20" y2="1502.70" stroke="#000" stroke-width="1.80"/>
<line x1="1371.60" y1="1502.70" x2="1368.10" y2="1502.70" stroke="#000" stroke-width="1.80"/>
<line x1="1014.70" y1="1494.20" x2="1018.20" y2="1494.20" stroke="#000" stroke-width="1.80"/>
<line x1="1371.60" y1="1494.20" x2="1368.10" y2="1494.20" stroke="#000" stroke-width="1.80"/>
<line x1="1014.70" y1="1487.26" x2="1018.20" y2="1487.26" stroke="#000" stroke-width="1.80"/>
<line x1="1371.60" y1="1487.26" x2="1368.10" y2="1487.26" stroke="#000" stroke-width="1.80"/>
<line x1="1014.70" y1="1481.39" x2="1018.20" y2="1481.39" stroke="#000" stroke-width="1.80"/>
<line x1="1371.60" y1="1481.39" x2="1368.10" y2="1481.39" stroke="#000" stroke-width="1.80"/>
<line x1="1014.70" y1="1476.30" x2="1018.20" y2="1476.30" stroke="#000" stroke-width="1.80"/>
<line x1="1371.60" y1="1476.30" x2="1368.10" y2="1476.30" stroke="#000" stroke-width="1.80"/>
<line x1="1014.70" y1="1471.81" x2="1018.20" y2="1471.81" stroke="#000" stroke-width="1.80"/>
<line x1="1371.60" y1="1471.81" x2="1368.10" y2="1471.81" stroke="#000" stroke-width="1.80"/>
<line x1="1014.70" y1="1467.80" x2="1021.90" y2="1467.80" stroke="#000" stroke-width="1.80"/>
<line x1="1371.60" y1="1467.80" x2="1364.40" y2="1467.80" stroke="#000" stroke-width="1.80"/>
<line x1="1014.70" y1="1441.40" x2="1018.20" y2="1441.40" stroke="#000" stroke-width="1.80"/>
<line x1="1371.60" y1="1441.40" x2="1368.10" y2="1441.40" stroke="#000" stroke-width="1.80"/>
<line x1="1014.70" y1="1425.96" x2="1018.20" y2="1425.96" stroke="#000" stroke-width="1.80"/>
<line x1="1371.60" y1="1425.96" x2="1368.10" y2="1425.96" stroke="#000" stroke-width="1.80"/>
<line x1="1014.70" y1="1415.00" x2="1018.20" y2="1415.00" stroke="#000" stroke-width="1.80"/>
<line x1="1371.60" y1="1415.00" x2="1368.10" y2="1415.00" stroke="#000" stroke-width="1.80"/>
<line x1="1014.70" y1="1406.50" x2="1018.20" y2="1406.50" stroke="#000" stroke-width="1.80"/>
<line x1="1371.60" y1="1406.50" x2="1368.10" y2="1406.50" stroke="#000" stroke-width="1.80"/>
<line x1="1014.70" y1="1399.56" x2="1018.20" y2="1399.56" stroke="#000" stroke-width="1.80"/>
<line x1="1371.60" y1="1399.56" x2="1368.10" y2="1399.56" stroke="#000" stroke-width="1.80"/>
<line x1="1014.70" y1="1393.69" x2="1018.20" y2="1393.69" stroke="#000" stroke-width="1.80"/>
<line x1="1371.60" y1="1393.69" x2="1368.10" y2="1393.69" stroke="#000" stroke-width="1.80"/>
<line x1="1014.70" y1="1388.60" x2="1018.20" y2="1388.60" stroke="#000" stroke-width="1.80"/>
<line x1="1371.60" y1="1388.60" x2="1368.10" y2="1388.60" stroke="#000" stroke-width="1.80"/>
<line x1="1014.70" y1="1384.11" x2="1018.20" y2="1384.11" stroke="#000" stroke-width="1.80"/>
<line x1="1371.60" y1="1384.11" x2="1368.10" y2="1384.11" stroke="#000" stroke-width="1.80"/>
<line x1="1014.70" y1="1380.10" x2="1021.90" y2="1380.10" stroke="#000" stroke-width="1.80"/>
<line x1="1371.60" y1="1380.10" x2="1364.40" y2="1380.10" stroke="#000" stroke-width="1.80"/>
<line x1="1014.70" y1="1353.70" x2="1018.20" y2="1353.70" stroke="#000" stroke-width="1.80"/>
<line x1="1371.60" y1="1353.70" x2="1368.10" y2="1353.70" stroke="#000" stroke-width="1.80"/>
<line x1="1014.70" y1="1338.26" x2="1018.20" y2="1338.26" stroke="#000" stroke-width="1.80"/>
<line x1="1371.60" y1="1338.26" x2="1368.10" y2="1338.26" stroke="#000" stroke-width="1.80"/>
<line x1="1014.70" y1="1327.30" x2="1018.20" y2="1327.30" stroke="#000" stroke-width="1.80"/>
<line x1="1371.60" y1="1327.30" x2="1368.10" y2="1327.30" stroke="#000" stroke-width="1.80"/>
<line x1="1014.70" y1="1318.80" x2="1018.20" y2="1318.80" stroke="#000" stroke-width="1.80"/>
<line x1="1371.60" y1="1318.80" x2="1368.10" y2="1318.80" stroke="#000" stroke-width="1.80"/>
<line x1="1014.70" y1="1311.86" x2="1018.20" y2="1311.86" stroke="#000" stroke-width="1.80"/>
<line x1="1371.60" y1="1311.86" x2="1368.10" y2="1311.86" stroke="#000" stroke-width="1.80"/>
<line x1="1014.70" y1="1305.99" x2="1018.20" y2="1305.99" stroke="#000" stroke-width="1.80"/>
<line x1="1371.60" y1="1305.99" x2="1368.10" y2="1305.99" stroke="#000" stroke-width="1.80"/>
<line x1="1014.70" y1="1300.90" x2="1018.20" y2="1300.90" stroke="#000" stroke-width="1.80"/>
<line x1="1371.60" y1="1300.90" x2="1368.10" y2="1300.90" stroke="#000" stroke-width="1.80"/>
<line x1="1014.70" y1="1296.41" x2="1018.20" y2="1296.41" stroke="#000" stroke-width="1.80"/>
<line x1="1371.60" y1="1296.41" x2="1368.10" y2="1296.41" stroke="#000" stroke-width="1.80"/>
<line x1="1014.70" y1="1292.40" x2="1021.90" y2="1292.40" stroke="#000" stroke-width="1.80"/>
<line x1="1371.60" y1="1292.40" x2="1364.40" y2="1292.40" stroke="#000" stroke-width="1.80"/>
<line x1="1014.70" y1="1266.00" x2="1018.20" y2="1266.00" stroke="#000" stroke-width="1.80"/>
<line x1="1371.60" y1="1266.00" x2="1368.10" y2="1266.00" stroke="#000" stroke-width="1.80"/>
<line x1="1014.70" y1="1250.56" x2="1018.20" y2="1250.56" stroke="#000" stroke-width="1.80"/>
<line x1="1371.60" y1="1250.56" x2="1368.10" y2="1250.56" stroke="#000" stroke-width="1.80"/>
<line x1="1014.70" y1="1239.60" x2="1018.20" y2="1239.60" stroke="#000" stroke-width="1.80"/>
<line x1="1371.60" y1="1239.60" x2="1368.10" y2="1239.60" stroke="#000" stroke-width="1.80"/>
<line x1="1014.70" y1="1231.10" x2="1018.20" y2="1231.10" stroke="#000" stroke-width="1.80"/>
<line x1="1371.60" y1="1231.10" x2="1368.10" y2="1231.10" stroke="#000" stroke-width="1.80"/>
<line x1="1014.70" y1="1224.16" x2="1018.20" y2="1224.16" stroke="#000" stroke-width="1.80"/>
<line x1="1371.60" y1="1224.16" x2="1368.10" y2="1224.16" stroke="#000" stroke-width="1.80"/>
<line x1="1014.70" y1="1218.29" x2="1018.20" y2="1218.29" stroke="#000" stroke-width="1.80"/>
<line x1="1371.60" y1="1218.29" x2="1368.10" y2="1218.29" stroke="#000" stroke-width="1.80"/>
<line x1="1014.70" y1="1213.20" x2="1018.20" y2="1213.20" stroke="#000" stroke-width="1.80"/>
<line x1="1371.60" y1="1213.20" x2="1368.10" y2="1213.20" stroke="#000" stroke-width="1.80"/>
<line x1="1014.70" y1="1208.71" x2="1018.20" y2="1208.71" stroke="#000" stroke-width="1.80"/>
<line x1="1371.60" y1="1208.71" x2="1368.10" y2="1208.71" stroke="#000" stroke-width="1.80"/>
<line x1="1014.70" y1="1204.70" x2="1021.90" y2="1204.70" stroke="#000" stroke-width="1.80"/>
<line x1="1371.60" y1="1204.70" x2="1364.40" y2="1204.70" stroke="#000" stroke-width="1.80"/>
<line x1="1014.70" y1="1178.30" x2="1018.20" y2="1178.30" stroke="#000" stroke-width="1.80"/>
<line x1="1371.60" y1="1178.30" x2="1368.10" y2="1178.30" stroke="#000" stroke-width="1.80"/>
<rect x="1014.70" y="1163.00" width="356.90" height="392.50" fill="none" stroke="#000" stroke-width="2.3"/>
<text x="1016.41" y="1147.50" font-size="38.20" text-anchor="start" fill="#231f20" textLength="353.19" lengthAdjust="spacing">(i) 20:11:11-20:11:15</text>
<text x="948.61" y="1553.20" font-size="38.60" text-anchor="start" fill="#231f20">10</text>
<text x="994.94" y="1538.40" font-size="30.50" text-anchor="start" fill="#231f20">4</text>
<text x="948.61" y="1478.60" font-size="38.60" text-anchor="start" fill="#231f20">10</text>
<text x="994.48" y="1463.80" font-size="30.50" text-anchor="start" fill="#231f20">5</text>
<text x="948.61" y="1390.90" font-size="38.60" text-anchor="start" fill="#231f20">10</text>
<text x="994.18" y="1376.10" font-size="30.50" text-anchor="start" fill="#231f20">6</text>
<text x="948.61" y="1303.20" font-size="38.60" text-anchor="start" fill="#231f20">10</text>
<text x="994.18" y="1288.40" font-size="30.50" text-anchor="start" fill="#231f20">7</text>
<text x="948.61" y="1215.50" font-size="38.60" text-anchor="start" fill="#231f20">10</text>
<text x="994.33" y="1200.70" font-size="30.50" text-anchor="start" fill="#231f20">8</text>
<text x="1064.76" y="1594.00" font-size="35.50" text-anchor="start" fill="#231f20">10</text>
<text x="1182.99" y="1594.00" font-size="35.50" text-anchor="start" fill="#231f20">100</text>
<text x="1300.24" y="1594.00" font-size="35.50" text-anchor="start" fill="#231f20">1000</text>
<text x="1112.56" y="1626.80" font-size="36.00" text-anchor="start" fill="#231f20">Energy (eV)</text>
</svg>
</body></html>
